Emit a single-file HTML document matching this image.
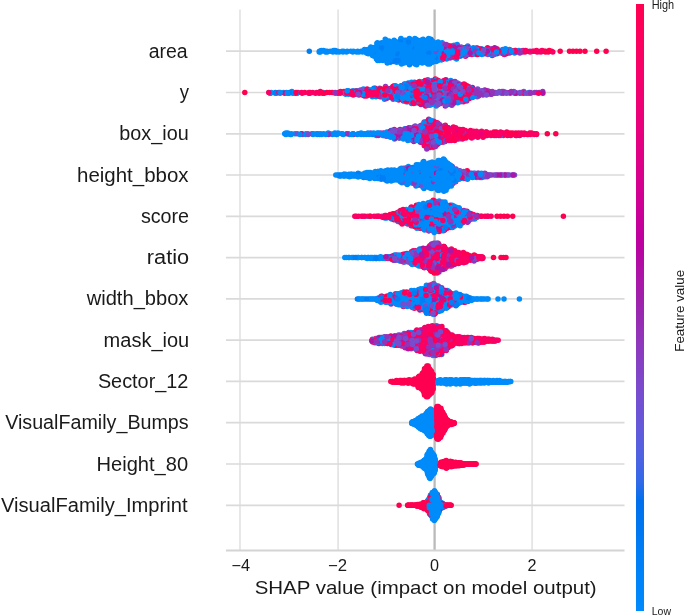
<!DOCTYPE html>
<html><head><meta charset="utf-8"><style>
html,body{margin:0;padding:0;background:#fff;overflow:hidden}
svg{display:block;filter:blur(0.45px)}
text{font-family:"Liberation Sans",sans-serif;fill:#1a1a1a}
</style></head><body>
<svg width="685" height="616" viewBox="0 0 685 616">
<defs><linearGradient id="cb" x1="0" y1="0" x2="0" y2="1"><stop offset="0.000" stop-color="#ff0051"/><stop offset="0.030" stop-color="#ff0058"/><stop offset="0.061" stop-color="#fd005f"/><stop offset="0.091" stop-color="#fa0065"/><stop offset="0.121" stop-color="#f6006c"/><stop offset="0.152" stop-color="#f10072"/><stop offset="0.182" stop-color="#ec0078"/><stop offset="0.212" stop-color="#e7007e"/><stop offset="0.242" stop-color="#e10084"/><stop offset="0.273" stop-color="#db008a"/><stop offset="0.303" stop-color="#d40090"/><stop offset="0.333" stop-color="#cd0095"/><stop offset="0.364" stop-color="#c5009a"/><stop offset="0.394" stop-color="#bc009f"/><stop offset="0.424" stop-color="#b30aa3"/><stop offset="0.455" stop-color="#aa17a7"/><stop offset="0.485" stop-color="#a01fab"/><stop offset="0.515" stop-color="#9829b1"/><stop offset="0.545" stop-color="#9233b9"/><stop offset="0.576" stop-color="#8a3cc0"/><stop offset="0.606" stop-color="#8244c7"/><stop offset="0.636" stop-color="#794cce"/><stop offset="0.667" stop-color="#6f52d4"/><stop offset="0.697" stop-color="#6459da"/><stop offset="0.727" stop-color="#575fdf"/><stop offset="0.758" stop-color="#4664e4"/><stop offset="0.788" stop-color="#306ae9"/><stop offset="0.818" stop-color="#006fed"/><stop offset="0.848" stop-color="#0074f0"/><stop offset="0.879" stop-color="#0079f3"/><stop offset="0.909" stop-color="#007ef6"/><stop offset="0.939" stop-color="#0082f8"/><stop offset="0.970" stop-color="#0086fa"/><stop offset="1.000" stop-color="#008bfb"/><stop offset="1" stop-color="#008bfb"/></linearGradient></defs>
<rect width="685" height="616" fill="#fff"/>
<line x1="240.0" y1="9.5" x2="240.0" y2="550.5" stroke="#e2e2e2" stroke-width="1.6"/><line x1="338.1" y1="9.5" x2="338.1" y2="550.5" stroke="#e2e2e2" stroke-width="1.6"/><line x1="532.1" y1="9.5" x2="532.1" y2="550.5" stroke="#e2e2e2" stroke-width="1.6"/><line x1="226" y1="51.2" x2="624.5" y2="51.2" stroke="#dadada" stroke-width="1.7"/><line x1="226" y1="92.5" x2="624.5" y2="92.5" stroke="#dadada" stroke-width="1.7"/><line x1="226" y1="133.8" x2="624.5" y2="133.8" stroke="#dadada" stroke-width="1.7"/><line x1="226" y1="175.0" x2="624.5" y2="175.0" stroke="#dadada" stroke-width="1.7"/><line x1="226" y1="216.3" x2="624.5" y2="216.3" stroke="#dadada" stroke-width="1.7"/><line x1="226" y1="257.6" x2="624.5" y2="257.6" stroke="#dadada" stroke-width="1.7"/><line x1="226" y1="298.9" x2="624.5" y2="298.9" stroke="#dadada" stroke-width="1.7"/><line x1="226" y1="340.2" x2="624.5" y2="340.2" stroke="#dadada" stroke-width="1.7"/><line x1="226" y1="381.4" x2="624.5" y2="381.4" stroke="#dadada" stroke-width="1.7"/><line x1="226" y1="422.7" x2="624.5" y2="422.7" stroke="#dadada" stroke-width="1.7"/><line x1="226" y1="464.0" x2="624.5" y2="464.0" stroke="#dadada" stroke-width="1.7"/><line x1="226" y1="505.3" x2="624.5" y2="505.3" stroke="#dadada" stroke-width="1.7"/><line x1="434.6" y1="9.5" x2="434.6" y2="550.5" stroke="#bababa" stroke-width="2.3"/><line x1="226" y1="550.5" x2="624.5" y2="550.5" stroke="#d4d4d4" stroke-width="2"/>
<g fill="none" stroke-width="5.50" stroke-linecap="round">
<path stroke="#008bfb" d="M416.2 58.0h0M417.2 41.9h0M332.9 52.1h0M409.2 43.6h0M445.7 49.5h0M388.6 46.1h0M392.9 48.7h0M332.8 51.2h0M381.7 48.7h0M429.4 40.2h0M417.5 48.7h0M405.6 50.4h0M399.6 50.4h0M428.9 41.9h0M424.9 55.5h0M386.6 47.8h0M410.8 63.1h0M418.8 59.7h0M409.7 52.1h0M367.3 52.9h0M455.0 58.0h0M439.9 58.0h0M434.6 45.2h0M507.7 50.4h0M376.5 55.5h0M382.9 54.6h0M431.0 58.9h0M416.0 39.3h0M397.9 47.0h0M423.0 49.5h0M428.9 41.0h0M388.0 52.1h0M396.8 51.2h0M424.8 52.1h0M372.5 54.6h0M398.1 56.3h0M490.0 53.8h0M482.2 51.2h0M382.3 59.7h0M493.4 51.2h0M339.2 52.1h0M382.9 60.6h0M414.2 61.4h0M410.9 41.9h0M442.1 50.4h0M460.9 48.7h0M411.6 51.2h0M414.2 49.5h0M413.4 46.1h0M414.7 46.1h0M474.9 52.9h0M401.3 54.6h0M482.4 52.1h0M389.0 42.7h0M371.7 49.5h0M367.4 51.2h0M455.4 57.2h0M476.3 54.6h0M384.6 50.4h0M456.5 58.9h0M401.8 47.0h0M442.5 54.6h0M432.3 41.0h0M456.9 45.2h0M427.0 59.7h0M388.7 61.4h0M356.5 52.1h0M442.2 42.7h0M406.5 44.4h0M409.2 50.4h0"/>
<path stroke="#9233b9" d="M471.8 49.5h0M451.7 48.7h0M470.2 53.8h0"/>
<path stroke="#ff0051" d="M488.5 53.8h0M446.2 58.0h0M544.2 51.2h0M585.0 51.2h0M606.1 51.2h0"/>
<path stroke="#aa17a7" d="M496.9 50.4h0"/>
<path stroke="#fa0065" d="M534.0 51.2h0M496.8 48.7h0"/>
<path stroke="#794cce" d="M487.9 54.6h0M467.8 46.1h0M473.2 52.9h0M484.5 53.8h0"/>
<path stroke="#ec0078" d="M506.1 51.2h0M448.6 57.2h0"/>
<path stroke="#007ef6" d="M397.6 59.7h0M403.2 45.2h0M381.1 52.1h0M373.4 54.6h0M436.0 53.8h0M429.6 60.6h0M408.7 47.0h0M402.7 53.8h0"/>
<path stroke="#794cce" d="M476.9 47.8h0M515.8 50.4h0M490.9 50.4h0M445.2 55.5h0"/>
<path stroke="#9233b9" d="M492.2 50.4h0M517.8 51.2h0M445.7 52.9h0"/>
<path stroke="#ff0051" d="M487.3 49.5h0M515.0 50.4h0M511.2 50.4h0"/>
<path stroke="#aa17a7" d="M459.6 51.2h0M468.2 54.6h0"/>
<path stroke="#008bfb" d="M463.6 50.4h0M388.8 41.9h0M413.6 58.9h0M405.5 48.7h0M436.7 59.7h0M490.8 51.2h0M438.5 45.2h0M337.6 51.2h0M388.1 60.6h0M383.0 55.5h0M422.1 62.2h0M409.4 44.4h0M376.9 43.6h0M408.5 46.1h0M417.9 58.0h0M428.4 61.4h0M400.7 59.7h0M405.0 53.8h0M319.2 52.1h0M466.0 55.5h0M350.8 51.2h0M457.2 44.4h0M466.9 47.0h0M420.1 58.9h0M467.2 50.4h0M342.2 51.2h0M453.2 54.6h0M381.5 59.7h0M438.1 41.9h0M377.6 44.4h0M471.2 52.1h0M403.5 43.6h0M471.7 50.4h0M406.6 45.2h0M429.0 39.3h0M396.7 50.4h0M452.7 47.8h0M414.5 51.2h0M417.3 57.2h0M323.5 50.4h0M412.7 62.2h0M352.8 52.1h0M375.4 47.8h0M403.3 47.8h0M325.6 52.1h0M402.3 43.6h0M497.0 53.8h0M481.4 48.7h0M413.0 42.7h0M427.8 51.2h0M436.0 43.6h0M456.9 58.0h0M518.9 50.4h0M320.3 51.2h0M343.0 52.1h0M353.5 51.2h0M394.3 52.1h0M399.7 58.0h0M417.6 63.1h0M343.6 51.2h0M509.6 49.5h0M443.9 51.2h0M389.9 50.4h0M380.0 46.1h0M400.9 60.6h0M362.5 52.1h0M433.5 53.8h0M417.6 62.2h0"/>
<path stroke="#007ef6" d="M461.3 50.4h0M422.6 56.3h0M386.3 51.2h0M391.6 55.5h0M414.3 45.2h0M380.2 55.5h0M379.8 50.4h0"/>
<path stroke="#fa0065" d="M487.7 48.7h0M444.5 47.0h0M455.1 56.3h0M492.2 55.5h0M443.8 49.5h0M542.1 50.4h0M548.3 52.1h0M465.5 56.3h0"/>
<path stroke="#9233b9" d="M447.5 45.2h0M449.9 49.5h0M453.2 51.2h0M463.2 47.8h0"/>
<path stroke="#794cce" d="M470.0 49.5h0M494.8 48.7h0M491.5 48.7h0M514.5 52.1h0M519.3 52.1h0M451.8 57.2h0"/>
<path stroke="#aa17a7" d="M440.5 52.9h0M498.1 50.4h0M468.9 47.8h0"/>
<path stroke="#008bfb" d="M413.9 59.7h0M404.1 63.1h0M407.1 49.5h0M383.6 53.8h0M426.1 54.6h0M404.0 42.7h0M385.2 39.3h0M405.5 46.1h0M457.4 51.2h0M412.5 60.6h0M391.9 58.0h0M421.0 40.2h0M426.2 44.4h0M428.2 50.4h0M404.0 54.6h0M403.1 51.2h0M448.7 53.8h0M406.5 41.0h0M407.3 42.7h0M433.1 49.5h0M418.2 56.3h0M400.5 41.0h0M394.6 55.5h0M404.7 55.5h0M473.3 47.8h0M409.9 56.3h0M400.6 57.2h0M455.2 53.8h0M402.1 52.9h0M404.5 40.2h0M410.2 52.9h0M506.8 51.2h0M415.7 47.0h0M413.8 56.3h0M432.1 41.9h0M409.5 64.8h0M448.5 54.6h0M435.3 55.5h0M437.9 51.2h0M386.6 59.7h0M386.6 41.9h0M491.5 52.1h0M400.5 47.8h0M373.6 55.5h0M420.6 58.0h0M416.7 54.6h0M399.7 42.7h0M464.2 55.5h0M432.3 47.8h0M430.6 44.4h0M383.4 52.9h0M414.8 38.5h0M379.2 58.9h0M442.1 48.7h0M410.6 47.0h0M450.0 56.3h0M372.6 47.8h0M425.5 50.4h0M422.7 41.9h0M381.8 42.7h0M396.6 53.8h0M422.9 60.6h0M431.4 59.7h0M467.0 53.8h0M435.5 55.5h0M409.2 42.7h0"/>
<path stroke="#ff0051" d="M452.7 56.3h0M464.8 53.8h0M465.5 52.1h0M569.5 51.2h0M560.2 51.2h0"/>
<path stroke="#fa0065" d="M454.3 52.1h0M523.1 50.4h0M456.8 47.0h0M472.0 54.6h0"/>
<path stroke="#007ef6" d="M432.9 52.9h0M406.2 47.8h0M388.5 53.8h0M374.4 50.4h0M418.8 47.0h0M309.3 51.2h0M396.9 58.9h0"/>
<path stroke="#008bfb" d="M400.8 63.1h0M396.3 43.6h0M399.6 57.2h0M418.9 50.4h0M399.9 49.5h0M402.3 51.2h0M430.3 52.1h0M393.0 60.6h0M412.0 58.0h0M391.1 52.1h0M414.1 57.2h0M415.0 64.0h0M416.0 42.7h0M392.3 47.0h0M443.3 46.1h0M378.2 58.0h0M399.6 52.1h0M346.5 52.1h0M408.5 43.6h0M385.9 54.6h0M423.1 46.1h0M432.4 62.2h0M441.8 59.7h0M388.8 52.9h0M418.9 41.9h0M393.7 61.4h0M460.3 56.3h0M459.0 48.7h0M437.0 56.3h0M486.5 52.9h0M393.2 50.4h0M393.6 57.2h0M386.2 48.7h0M425.5 41.9h0M394.5 59.7h0M401.5 64.0h0M388.0 48.7h0M458.1 50.4h0M392.1 54.6h0M430.1 40.2h0M426.0 47.0h0M405.3 59.7h0M406.3 40.2h0M428.4 54.6h0M470.8 48.7h0M446.9 54.6h0M388.0 57.2h0M387.1 56.3h0M440.0 54.6h0M421.1 43.6h0M372.2 53.8h0M411.8 47.0h0M400.4 62.2h0M416.7 55.5h0M424.5 58.9h0M429.4 44.4h0M406.8 62.2h0M470.5 52.1h0M404.6 47.0h0M434.2 47.0h0M321.4 50.4h0M386.1 40.2h0M408.5 56.3h0M363.0 51.2h0M357.7 51.2h0M425.9 58.0h0M501.5 51.2h0M393.5 42.7h0M432.5 43.6h0M419.8 41.0h0M421.9 61.4h0"/>
<path stroke="#007ef6" d="M394.6 46.1h0M383.5 45.2h0M428.3 53.8h0M394.8 47.0h0M410.6 57.2h0M402.2 44.4h0M415.3 50.4h0"/>
<path stroke="#aa17a7" d="M449.1 50.4h0"/>
<path stroke="#9233b9" d="M459.5 47.8h0M446.8 52.1h0"/>
<path stroke="#ff0051" d="M442.9 53.8h0M485.4 52.9h0"/>
<path stroke="#fa0065" d="M482.6 53.8h0M487.6 47.8h0M530.1 52.1h0M506.3 50.4h0M453.2 55.5h0M496.6 52.9h0"/>
<path stroke="#794cce" d="M447.2 57.2h0M438.4 48.7h0M457.4 46.1h0M444.2 52.1h0M461.1 47.0h0"/>
<path stroke="#9233b9" d="M530.0 51.2h0M462.5 52.1h0M470.1 51.2h0M449.8 47.8h0M522.4 52.1h0M490.1 49.5h0"/>
<path stroke="#007ef6" d="M390.4 62.2h0M430.9 39.3h0M442.2 57.2h0M402.7 42.7h0M433.8 58.9h0M394.7 58.0h0M431.9 53.8h0M418.8 46.1h0"/>
<path stroke="#794cce" d="M478.4 51.2h0M449.0 47.0h0M492.1 52.9h0M466.2 51.2h0M454.2 52.9h0"/>
<path stroke="#008bfb" d="M430.9 56.3h0M430.3 47.0h0M421.4 41.0h0M410.0 39.3h0M386.0 47.0h0M475.4 49.5h0M408.1 48.7h0M404.0 52.1h0M387.3 63.1h0M347.2 51.2h0M383.9 44.4h0M431.9 50.4h0M359.0 52.1h0M458.3 54.6h0M415.7 53.8h0M442.2 43.6h0M430.9 45.2h0M424.8 56.3h0M386.5 45.2h0M390.8 54.6h0M406.3 59.7h0M438.0 60.6h0M481.7 54.6h0M417.1 52.1h0M421.6 52.9h0M507.7 52.9h0M446.6 58.9h0M421.7 48.7h0M449.0 52.9h0M368.2 52.1h0M388.3 58.9h0M438.5 47.0h0M384.0 42.7h0M427.9 58.0h0M389.1 59.7h0M432.9 57.2h0M389.0 58.0h0M396.0 57.2h0M413.0 53.8h0M319.5 51.2h0M366.0 52.1h0M435.7 58.0h0M415.2 60.6h0M431.2 49.5h0M378.7 48.7h0M491.4 54.6h0M419.0 51.2h0M392.8 58.9h0M416.6 44.4h0M425.9 59.7h0M387.1 55.5h0M493.5 52.1h0M405.9 58.9h0M475.1 50.4h0M392.2 59.7h0M394.6 44.4h0M476.5 52.1h0M390.6 43.6h0M426.3 43.6h0M396.3 42.7h0M327.3 52.1h0M454.5 47.8h0M387.2 61.4h0"/>
<path stroke="#fa0065" d="M521.5 51.2h0M551.7 51.2h0M494.0 53.8h0M552.8 52.1h0M497.5 49.5h0M458.9 49.5h0M449.4 51.2h0"/>
<path stroke="#ff0051" d="M452.0 53.8h0M536.5 50.4h0M545.5 52.1h0"/>
<path stroke="#aa17a7" d="M453.4 50.4h0M506.2 53.8h0"/>
<path stroke="#007ef6" d="M408.8 58.9h0M427.5 63.1h0M425.4 52.9h0M377.7 59.7h0M379.4 43.6h0M445.8 47.8h0M409.5 64.0h0M434.1 52.1h0M399.5 51.2h0M380.6 51.2h0"/>
<path stroke="#9233b9" d="M462.2 54.6h0M490.8 52.9h0M450.0 58.0h0M438.7 57.2h0M508.1 52.1h0"/>
<path stroke="#008bfb" d="M418.3 62.2h0M429.1 47.0h0M372.5 55.5h0M454.0 45.2h0M436.9 52.1h0M376.8 54.6h0M377.7 46.1h0M440.6 43.6h0M394.3 48.7h0M451.4 49.5h0M430.3 61.4h0M397.0 46.1h0M437.6 45.2h0M405.2 58.9h0M368.3 53.8h0M387.2 57.2h0M327.3 51.2h0M395.1 58.9h0M408.2 63.1h0M417.0 59.7h0M364.5 49.5h0M415.1 58.9h0M385.8 41.0h0M376.6 51.2h0M514.6 52.9h0M423.3 57.2h0M411.0 40.2h0M412.6 41.9h0M389.5 56.3h0M400.7 56.3h0M393.1 53.8h0M379.3 53.8h0M421.3 44.4h0M426.6 58.9h0M417.5 40.2h0M387.6 44.4h0M473.8 53.8h0M436.2 61.4h0M412.6 48.7h0M442.7 47.8h0M381.5 52.9h0M375.9 52.9h0M428.7 56.3h0M432.6 47.8h0M439.4 49.5h0M397.8 49.5h0M428.6 38.5h0M424.7 62.2h0M455.5 55.5h0M441.0 58.9h0M424.5 49.5h0M511.1 52.1h0M420.2 53.8h0M418.7 61.4h0M432.8 51.2h0M410.6 46.1h0M439.0 56.3h0M414.7 52.9h0M407.9 55.5h0M398.1 47.8h0M386.1 43.6h0M432.0 52.9h0M440.1 46.1h0M398.7 43.6h0M431.5 55.5h0M430.1 58.0h0"/>
<path stroke="#aa17a7" d="M483.4 51.2h0"/>
<path stroke="#fa0065" d="M460.0 55.5h0M504.3 54.6h0M498.1 52.9h0M540.3 51.2h0M527.2 51.2h0"/>
<path stroke="#794cce" d="M494.3 54.6h0M453.3 46.1h0M503.2 52.1h0"/>
<path stroke="#ff0051" d="M478.9 48.7h0M450.6 47.0h0M504.2 52.9h0M549.2 50.4h0"/>
<path stroke="#794cce" d="M501.3 52.9h0M522.4 51.2h0M502.8 49.5h0M504.9 49.5h0"/>
<path stroke="#aa17a7" d="M478.9 50.4h0M470.9 50.4h0"/>
<path stroke="#008bfb" d="M367.6 50.4h0M438.1 52.9h0M443.2 45.2h0M445.0 53.8h0M483.2 52.1h0M409.4 49.5h0M427.9 49.5h0M336.0 51.2h0M445.3 45.2h0M431.9 54.6h0M461.0 54.6h0M400.1 61.4h0M396.2 52.9h0M398.0 55.5h0M417.9 54.6h0M382.2 58.9h0M505.5 48.7h0M477.4 49.5h0M416.6 47.8h0M400.8 39.3h0M428.2 62.2h0M388.0 44.4h0M405.0 61.4h0M400.6 48.7h0M380.4 49.5h0M389.3 49.5h0M377.4 47.0h0M425.5 51.2h0M380.0 45.2h0M387.4 58.0h0M389.1 41.0h0M381.9 44.4h0M383.0 58.0h0M473.7 48.7h0M320.4 52.1h0M426.6 47.8h0M425.1 46.1h0M383.9 52.1h0M431.3 42.7h0M417.3 45.2h0M428.4 52.1h0M456.9 55.5h0M436.3 54.6h0M457.9 56.3h0M419.7 47.8h0M398.8 52.9h0M420.6 42.7h0M390.8 47.0h0M475.4 53.8h0M377.6 53.8h0M499.9 52.1h0M421.2 51.2h0M377.4 42.7h0M325.5 51.2h0M406.1 52.9h0M391.6 46.1h0M396.0 54.6h0M385.7 58.9h0M394.3 41.0h0M435.0 44.4h0M412.9 41.0h0M436.9 49.5h0M401.8 40.2h0M395.4 47.8h0M445.1 51.2h0M394.0 49.5h0M454.9 48.7h0M461.6 52.1h0M375.0 53.8h0M387.0 42.7h0M387.9 52.1h0M400.8 52.1h0"/>
<path stroke="#007ef6" d="M434.6 54.6h0M422.3 50.4h0M437.6 47.8h0M382.6 56.3h0M404.2 58.0h0M395.1 61.4h0"/>
<path stroke="#ff0051" d="M525.0 52.1h0M465.1 47.8h0M545.8 51.2h0M441.8 55.5h0"/>
<path stroke="#9233b9" d="M509.7 52.9h0M519.9 52.9h0"/>
<path stroke="#fa0065" d="M459.0 52.9h0M454.8 54.6h0M454.2 49.5h0M443.1 58.9h0"/>
<path stroke="#fa0065" d="M459.8 52.9h0"/>
<path stroke="#008bfb" d="M432.9 41.9h0M464.3 49.5h0M440.6 53.8h0M378.5 45.2h0M426.9 55.5h0M382.3 46.1h0M408.0 57.2h0M418.4 60.6h0M434.5 50.4h0M379.3 60.6h0M392.3 49.5h0M387.2 62.2h0M446.1 48.7h0M392.7 41.9h0M438.1 46.1h0M424.5 45.2h0M382.1 47.0h0M401.0 38.5h0M404.7 62.2h0M366.9 50.4h0M429.7 64.0h0M439.5 51.2h0M377.8 47.8h0M451.5 46.1h0M370.6 52.9h0M366.6 52.9h0M395.4 45.2h0M395.8 56.3h0M416.7 64.8h0M427.9 48.7h0M446.5 46.1h0M465.6 52.9h0M384.2 43.6h0M432.2 57.2h0M377.1 52.9h0M388.6 47.8h0M421.1 59.7h0M370.9 52.1h0M423.9 61.4h0M488.6 52.1h0M419.0 48.7h0M377.4 57.2h0M464.7 48.7h0M409.4 38.5h0M440.2 52.1h0M433.9 46.1h0M466.3 49.5h0M408.9 58.0h0M426.8 43.6h0M434.3 42.7h0M411.9 54.6h0M408.0 52.1h0M382.5 48.7h0M441.2 59.7h0M415.1 41.0h0M367.6 49.5h0M370.1 48.7h0M410.5 54.6h0M431.9 51.2h0M367.0 51.2h0M387.9 50.4h0M418.9 55.5h0M437.5 58.9h0M405.2 57.2h0M397.9 54.6h0M414.4 50.4h0M481.6 50.4h0M422.2 53.8h0M410.1 41.0h0M383.5 57.2h0M408.9 60.6h0M400.1 58.9h0M439.7 50.4h0M433.5 59.7h0"/>
<path stroke="#9233b9" d="M453.8 51.2h0M503.3 53.8h0"/>
<path stroke="#794cce" d="M466.4 54.6h0M495.5 51.2h0M435.8 50.4h0M472.9 51.2h0M442.3 44.4h0"/>
<path stroke="#aa17a7" d="M453.8 47.0h0M458.8 47.8h0M444.3 52.9h0M494.7 47.8h0"/>
<path stroke="#007ef6" d="M373.9 52.1h0M397.7 53.8h0M478.6 52.1h0M335.0 50.4h0M410.1 47.8h0M411.8 47.8h0M407.3 54.6h0M383.3 51.2h0"/>
<path stroke="#aa17a7" d="M470.1 52.9h0"/>
<path stroke="#794cce" d="M487.2 50.4h0M466.8 48.7h0M459.9 49.5h0"/>
<path stroke="#008bfb" d="M402.8 58.0h0M403.2 60.6h0M444.5 56.3h0M382.9 47.8h0M403.1 41.0h0M412.5 43.6h0M376.4 58.9h0M484.2 49.5h0M439.6 44.4h0M393.7 51.2h0M427.8 60.6h0M431.8 46.1h0M432.6 60.6h0M416.9 43.6h0M461.3 53.8h0M421.3 58.9h0M381.5 47.0h0M479.5 53.8h0M384.8 49.5h0M422.0 47.0h0M414.3 52.1h0M417.0 49.5h0M391.2 56.3h0M390.2 51.2h0M396.8 62.2h0M407.6 61.4h0M500.8 50.4h0M420.4 43.6h0M446.3 50.4h0M381.0 54.6h0M405.7 49.5h0M410.9 45.2h0M370.4 51.2h0M373.8 49.5h0M438.7 55.5h0M425.9 41.0h0M376.1 49.5h0M397.4 41.9h0M435.0 48.7h0M480.7 52.9h0M393.8 44.4h0M425.0 53.8h0M419.8 44.4h0M410.9 61.4h0M441.2 48.7h0M504.7 52.1h0M427.1 46.1h0M437.8 42.7h0M430.5 48.7h0M392.1 45.2h0M387.5 46.1h0M415.3 51.2h0M378.5 50.4h0M377.3 56.3h0M375.5 47.0h0M425.3 60.6h0M408.4 60.6h0M421.4 55.5h0M370.2 50.4h0M447.9 55.5h0M385.0 53.8h0M403.2 56.3h0M420.2 49.5h0M417.3 56.3h0M374.3 56.3h0M411.8 44.4h0M409.5 55.5h0M435.8 57.2h0M385.0 52.9h0M426.7 42.7h0M405.5 41.9h0M448.2 48.7h0"/>
<path stroke="#9233b9" d="M516.6 52.1h0"/>
<path stroke="#ff0051" d="M580.0 51.2h0M573.0 51.2h0M477.5 54.6h0"/>
<path stroke="#fa0065" d="M493.1 49.5h0M532.7 51.2h0M540.9 52.1h0M537.1 52.1h0M442.7 58.0h0M537.2 51.2h0M457.9 52.1h0M458.0 53.8h0M525.5 50.4h0"/>
<path stroke="#007ef6" d="M381.9 47.8h0M428.9 52.9h0M396.1 60.6h0M452.0 50.4h0M435.2 58.0h0"/>
<path stroke="#fa0065" d="M515.2 51.2h0M456.6 57.2h0M449.8 46.1h0M444.0 56.3h0"/>
<path stroke="#007ef6" d="M408.4 41.9h0M474.2 48.7h0M398.1 60.6h0M400.6 41.9h0"/>
<path stroke="#aa17a7" d="M444.2 47.0h0M487.2 51.2h0"/>
<path stroke="#ff0051" d="M576.5 51.2h0M498.9 51.2h0M549.4 51.2h0M596.7 51.2h0M481.8 49.5h0"/>
<path stroke="#9233b9" d="M475.8 51.2h0M445.9 44.4h0"/>
<path stroke="#794cce" d="M452.3 52.9h0M483.5 50.4h0"/>
<path stroke="#008bfb" d="M421.2 47.8h0M449.9 52.1h0M423.1 39.3h0M399.0 44.4h0M391.1 52.9h0M377.6 60.6h0M429.7 63.1h0M389.3 45.2h0M433.4 56.3h0M435.0 43.6h0M407.6 51.2h0M391.5 47.8h0M370.8 47.0h0M408.7 53.8h0M333.6 50.4h0M423.1 45.2h0M436.3 44.4h0M425.4 42.7h0M394.1 40.2h0M422.2 63.1h0M412.7 55.5h0M373.2 51.2h0M403.9 44.4h0M374.5 48.7h0M380.6 56.3h0M425.1 47.8h0M370.6 48.7h0M422.9 42.7h0M420.0 45.2h0M391.7 43.6h0M418.9 52.9h0M435.9 47.0h0M511.6 51.2h0M380.7 57.2h0M425.2 40.2h0M423.0 52.1h0M415.4 61.4h0M425.7 48.7h0M399.5 45.2h0M401.5 45.2h0M378.8 52.1h0M421.7 54.6h0M407.3 58.0h0M418.8 52.1h0M409.4 62.2h0M403.9 52.9h0M379.2 58.0h0M452.3 52.1h0M426.8 45.2h0M409.8 48.7h0M401.8 55.5h0M433.7 61.4h0M417.7 57.2h0M397.2 48.7h0M330.3 51.2h0M402.0 46.1h0M425.9 57.2h0M406.3 50.4h0M386.5 49.5h0M464.7 51.2h0M389.7 55.5h0M387.4 60.6h0M410.2 59.7h0M407.6 53.8h0M463.1 52.9h0M496.6 52.1h0M413.7 52.9h0M336.3 52.1h0M478.9 52.9h0M361.1 51.2h0M402.1 50.4h0M441.3 47.8h0M428.7 57.2h0M395.4 41.9h0M427.8 64.0h0"/>
<path stroke="#aa17a7" d="M424.1 81.4h0M427.1 99.3h0M478.5 95.9h0M421.4 102.7h0M472.4 87.4h0M398.3 97.6h0M483.5 93.3h0"/>
<path stroke="#007ef6" d="M459.7 95.9h0M457.4 89.1h0"/>
<path stroke="#9233b9" d="M424.2 104.4h0M428.4 92.5h0M473.8 95.0h0M403.4 101.0h0M403.3 94.2h0M460.1 89.9h0M441.8 81.4h0M520.0 93.3h0M419.1 97.6h0M452.6 95.0h0M423.2 94.2h0M468.5 90.8h0M397.0 93.3h0M431.8 87.4h0M503.2 93.3h0"/>
<path stroke="#fa0065" d="M441.0 96.7h0M441.1 83.1h0M456.0 98.4h0M417.4 95.9h0M410.5 101.8h0M456.0 86.5h0M442.6 84.0h0M364.4 95.9h0M393.2 89.9h0M452.3 98.4h0M446.9 86.5h0M428.8 98.4h0M420.7 88.2h0M329.6 92.5h0M413.1 83.1h0M423.5 90.8h0M414.4 89.9h0M457.0 97.6h0M426.2 87.4h0M428.3 96.7h0M425.0 86.5h0M459.2 84.8h0M340.5 91.6h0M381.9 90.8h0M379.7 89.9h0M448.4 84.8h0M380.5 92.5h0M451.6 84.0h0"/>
<path stroke="#008bfb" d="M419.7 91.6h0M401.2 88.2h0M420.9 96.7h0M434.8 99.3h0M440.9 82.3h0M409.4 89.9h0M420.6 86.5h0M406.1 99.3h0M353.1 90.8h0M390.2 89.1h0M471.1 95.0h0M365.1 89.9h0M433.0 84.0h0M374.4 95.9h0M406.0 96.7h0M431.8 100.1h0M406.2 91.6h0M456.6 94.2h0"/>
<path stroke="#ff0051" d="M414.5 82.3h0M356.3 90.8h0M372.8 94.2h0M450.5 104.4h0M423.2 96.7h0M435.4 78.9h0M435.2 101.0h0M425.6 106.1h0M447.1 89.9h0M450.1 92.5h0M431.5 88.2h0M438.1 104.4h0M381.6 96.7h0M406.3 93.3h0"/>
<path stroke="#794cce" d="M445.2 89.9h0M490.4 92.5h0M542.2 92.5h0M463.4 85.7h0M530.5 92.5h0M445.6 83.1h0M468.7 86.5h0M461.6 101.0h0M389.0 89.1h0M392.9 91.6h0M437.1 93.3h0"/>
<path stroke="#008bfb" d="M402.2 93.3h0M454.8 101.8h0M452.2 102.7h0M455.5 88.2h0M476.6 93.3h0M392.7 90.8h0M377.6 95.0h0M404.4 84.0h0M436.2 105.2h0M450.0 100.1h0M455.1 94.2h0M503.6 91.6h0M366.8 90.8h0M357.9 90.8h0M414.9 83.1h0M463.7 95.0h0M280.2 93.3h0M387.1 94.2h0M466.0 87.4h0M409.2 92.5h0M379.7 88.2h0M345.6 94.2h0M270.1 93.3h0M407.7 85.7h0M355.0 93.3h0M438.3 101.8h0M390.3 95.0h0M386.6 96.7h0M441.2 88.2h0M434.5 90.8h0M393.1 99.3h0M431.9 89.9h0M349.9 91.6h0M443.2 102.7h0M376.7 92.5h0M523.8 91.6h0"/>
<path stroke="#007ef6" d="M408.3 83.1h0M399.4 97.6h0M454.4 87.4h0"/>
<path stroke="#ff0051" d="M473.5 90.8h0M417.1 94.2h0M365.0 90.8h0M473.5 89.9h0M377.0 91.6h0M440.9 89.1h0M461.1 89.1h0M453.2 84.8h0M415.9 95.9h0M448.5 85.7h0"/>
<path stroke="#794cce" d="M495.6 92.5h0M457.6 99.3h0M429.8 90.8h0M436.4 94.2h0M499.9 92.5h0"/>
<path stroke="#fa0065" d="M464.0 84.0h0M418.9 91.6h0M412.7 91.6h0M444.6 102.7h0M435.1 98.4h0M417.9 99.3h0M431.7 97.6h0M426.7 84.8h0M466.7 88.2h0M475.2 91.6h0M365.4 95.0h0M410.2 84.0h0M406.1 94.2h0M355.9 91.6h0M398.7 100.1h0M432.3 82.3h0M460.7 97.6h0M377.1 90.8h0M401.2 85.7h0M350.7 93.3h0M463.5 101.8h0M427.5 101.0h0"/>
<path stroke="#9233b9" d="M417.0 102.7h0M448.7 81.4h0M387.0 88.2h0M439.7 87.4h0M514.8 93.3h0M438.2 86.5h0M444.3 94.2h0M521.9 92.5h0M457.4 100.1h0M464.9 90.8h0M407.8 101.8h0M422.8 102.7h0"/>
<path stroke="#aa17a7" d="M470.9 91.6h0M416.9 83.1h0M385.5 90.8h0M492.8 93.3h0M449.7 90.8h0M420.5 84.8h0M400.5 99.3h0"/>
<path stroke="#008bfb" d="M441.4 93.3h0M441.6 92.5h0M415.9 95.0h0M386.5 89.9h0M415.4 102.7h0M286.4 92.5h0M275.3 93.3h0M418.2 92.5h0M461.2 93.3h0M435.3 82.3h0M449.8 96.7h0M271.3 92.5h0M422.7 85.7h0M393.2 94.2h0M422.2 101.8h0M397.4 87.4h0M429.6 86.5h0M380.1 91.6h0M463.6 95.9h0M454.4 89.9h0M427.8 79.7h0M478.3 94.2h0M401.1 95.0h0M470.0 95.9h0M423.7 87.4h0M448.7 83.1h0M469.8 89.1h0M375.8 95.9h0M501.6 93.3h0M339.8 92.5h0M432.3 80.6h0M413.2 92.5h0M406.2 101.8h0"/>
<path stroke="#794cce" d="M404.8 84.8h0M455.8 95.0h0M417.7 100.1h0M513.1 92.5h0M450.9 88.2h0M450.3 98.4h0M510.3 93.3h0"/>
<path stroke="#9233b9" d="M466.8 101.0h0M385.5 86.5h0M384.1 96.7h0M444.8 93.3h0M542.7 91.6h0M463.5 99.3h0M448.2 102.7h0M494.9 93.3h0"/>
<path stroke="#ff0051" d="M431.1 88.2h0M440.0 82.3h0M415.6 94.2h0M379.5 89.1h0M420.2 92.5h0M342.6 92.5h0M463.1 88.2h0M463.1 86.5h0M459.3 95.0h0M405.3 89.9h0M362.6 91.6h0M366.6 95.9h0M434.7 101.8h0M404.4 84.8h0"/>
<path stroke="#007ef6" d="M402.1 89.1h0M427.4 104.4h0"/>
<path stroke="#aa17a7" d="M478.4 92.5h0M441.5 98.4h0M423.2 95.0h0M416.8 85.7h0M422.5 103.5h0M423.4 92.5h0"/>
<path stroke="#fa0065" d="M433.3 103.5h0M337.8 93.3h0M444.8 92.5h0M355.3 94.2h0M446.3 103.5h0M358.9 95.0h0M464.3 100.1h0M383.9 93.3h0M439.2 100.1h0M368.3 89.9h0M368.9 90.8h0M374.8 89.9h0M419.8 85.7h0M471.8 90.8h0M446.8 101.8h0M464.1 90.8h0M429.1 104.4h0M446.5 91.6h0M463.0 100.1h0M425.4 94.2h0M362.3 95.0h0M450.9 99.3h0M444.0 97.6h0M465.3 95.0h0M402.5 99.3h0"/>
<path stroke="#ff0051" d="M352.1 92.5h0M362.4 94.2h0M326.8 92.5h0M380.0 96.7h0M374.7 89.1h0M434.6 80.6h0M428.1 83.1h0M383.4 95.0h0M425.2 80.6h0M413.8 89.1h0M381.3 89.1h0"/>
<path stroke="#794cce" d="M464.0 92.5h0M446.1 95.0h0M505.7 92.5h0M476.2 89.9h0M402.0 85.7h0M449.5 84.8h0M481.3 92.5h0M463.6 97.6h0M458.7 99.3h0M515.6 92.5h0M424.9 98.4h0"/>
<path stroke="#fa0065" d="M396.1 98.4h0M454.1 90.8h0M444.2 95.9h0M374.6 94.2h0M441.7 84.8h0M445.2 85.7h0M451.3 93.3h0M466.7 94.2h0M421.9 83.1h0M428.1 98.4h0M397.3 95.0h0M446.2 103.5h0M421.3 90.8h0M391.0 88.2h0"/>
<path stroke="#008bfb" d="M419.5 81.4h0M283.6 92.5h0M426.2 100.1h0M291.9 91.6h0M425.3 99.3h0M451.0 89.9h0M409.0 86.5h0M410.7 89.9h0M401.9 97.6h0M348.4 92.5h0M403.5 100.1h0M348.7 94.2h0M411.4 84.8h0M384.5 99.3h0M391.7 90.8h0M404.2 96.7h0M424.3 100.1h0M420.3 95.9h0M409.6 94.2h0M405.4 92.5h0M356.1 92.5h0M276.4 93.3h0M412.7 89.1h0M437.0 88.2h0M406.5 95.0h0M428.4 101.8h0M448.1 104.4h0M388.5 97.6h0M419.2 89.9h0M417.1 101.8h0M417.2 84.8h0M403.9 90.8h0M431.3 91.6h0M413.3 90.8h0M393.2 96.7h0M414.2 98.4h0"/>
<path stroke="#007ef6" d="M443.4 98.4h0M419.0 87.4h0"/>
<path stroke="#9233b9" d="M491.3 92.5h0M523.9 92.5h0M393.1 98.4h0M473.9 94.2h0M440.1 88.2h0M529.2 92.5h0M436.5 103.5h0M422.6 82.3h0M469.2 97.6h0M502.3 92.5h0M433.0 101.0h0M468.3 92.5h0"/>
<path stroke="#aa17a7" d="M420.9 104.4h0M460.3 100.1h0M431.4 90.8h0M386.9 93.3h0M430.2 81.4h0M453.0 93.3h0M445.3 106.1h0"/>
<path stroke="#ec0078" d="M384.4 95.9h0M433.1 95.0h0"/>
<path stroke="#007ef6" d="M275.4 92.5h0"/>
<path stroke="#008bfb" d="M417.7 93.3h0M421.2 87.4h0M410.7 94.2h0M470.8 88.2h0M436.5 79.7h0M404.7 90.8h0M412.7 95.0h0M449.9 101.8h0M323.2 92.5h0M453.5 99.3h0M389.9 89.9h0M421.4 94.2h0M456.7 87.4h0M421.7 95.0h0M348.2 90.8h0M429.9 105.2h0M441.0 94.2h0M430.1 100.1h0M270.5 93.3h0M405.9 88.2h0M441.4 85.7h0M528.3 93.3h0"/>
<path stroke="#fa0065" d="M428.1 89.9h0M446.9 92.5h0M523.3 93.3h0M435.6 96.7h0M427.8 91.6h0M469.5 98.4h0M396.2 86.5h0M381.1 93.3h0M320.5 92.5h0M470.6 94.2h0M351.4 91.6h0M298.0 92.5h0M426.8 84.0h0M375.1 93.3h0M308.8 93.3h0M399.7 95.9h0M444.5 89.1h0M436.0 83.1h0M370.1 95.0h0M310.2 92.5h0M351.7 94.2h0M431.2 102.7h0M445.3 86.5h0"/>
<path stroke="#ff0051" d="M344.0 91.6h0M456.4 96.7h0M427.7 89.1h0M347.5 92.5h0M405.2 100.1h0M411.8 98.4h0M430.8 87.4h0M428.8 101.0h0M395.1 95.9h0M379.4 90.8h0M446.1 104.4h0M449.0 90.8h0"/>
<path stroke="#9233b9" d="M442.6 95.0h0M438.8 89.9h0M445.8 87.4h0M491.5 94.2h0M469.0 93.3h0M539.1 92.5h0M449.0 89.1h0M478.7 95.0h0M445.5 82.3h0M449.9 87.4h0M465.3 98.4h0M452.8 86.5h0M395.3 97.6h0M427.6 88.2h0M438.3 90.8h0"/>
<path stroke="#aa17a7" d="M453.5 100.1h0M427.6 86.5h0M516.2 93.3h0M489.3 91.6h0M435.2 91.6h0M469.9 91.6h0M463.3 96.7h0"/>
<path stroke="#ec0078" d="M426.5 93.3h0M454.2 95.9h0M472.4 93.3h0"/>
<path stroke="#794cce" d="M526.1 93.3h0M415.4 96.7h0M429.8 99.3h0M460.8 101.8h0M497.2 93.3h0M424.3 93.3h0M445.0 90.8h0M513.8 91.6h0M433.5 99.3h0M430.9 96.7h0M477.2 96.7h0"/>
<path stroke="#9233b9" d="M441.4 101.0h0M434.2 94.2h0M435.6 92.5h0M416.0 88.2h0M453.9 92.5h0M455.0 81.4h0M440.6 103.5h0M430.6 97.6h0M455.5 93.3h0M399.3 93.3h0M479.4 95.0h0M439.5 83.1h0M452.1 81.4h0"/>
<path stroke="#007ef6" d="M457.3 92.5h0"/>
<path stroke="#aa17a7" d="M445.9 79.7h0M542.9 93.3h0M431.1 95.0h0M436.3 84.8h0M447.7 84.0h0M425.3 101.0h0M482.5 92.5h0"/>
<path stroke="#ff0051" d="M434.2 98.4h0M417.4 84.0h0M434.3 93.3h0M419.6 98.4h0M466.8 85.7h0M423.5 91.6h0M426.6 95.0h0M419.7 103.5h0M468.1 87.4h0M244.8 92.5h0M360.5 93.3h0M374.4 89.1h0M470.8 96.7h0"/>
<path stroke="#794cce" d="M420.6 101.0h0M463.9 87.4h0M435.8 100.1h0M408.2 100.1h0M478.7 91.6h0M464.8 95.9h0M439.6 96.7h0M416.0 84.0h0M335.2 93.3h0"/>
<path stroke="#008bfb" d="M359.9 90.8h0M393.2 88.2h0M386.5 94.2h0M439.5 99.3h0M408.4 96.7h0M413.6 99.3h0M344.3 93.3h0M390.4 95.9h0M417.0 98.4h0M423.0 95.9h0M424.5 83.1h0M410.1 95.0h0M376.0 96.7h0M448.8 96.7h0M412.3 93.3h0M452.5 84.0h0M431.1 91.6h0M453.2 96.7h0M407.4 89.1h0M411.5 82.3h0M291.2 92.5h0M372.4 96.7h0M411.6 103.5h0M411.2 85.7h0"/>
<path stroke="#fa0065" d="M398.9 94.2h0M442.3 95.9h0M436.5 102.7h0M436.4 87.4h0M453.1 85.7h0M453.4 101.0h0M368.1 91.6h0M456.0 84.0h0M373.5 90.8h0M378.5 94.2h0M444.1 80.6h0M430.5 93.3h0M360.3 92.5h0M312.6 92.5h0M284.7 93.3h0M369.0 93.3h0M442.2 97.6h0M451.2 86.5h0M386.2 92.5h0M420.4 99.3h0M427.0 80.6h0M383.6 89.9h0M409.0 99.3h0M429.2 83.1h0M432.1 83.1h0M319.1 93.3h0"/>
<path stroke="#ec0078" d="M486.3 91.6h0"/>
<path stroke="#ff0051" d="M358.1 91.6h0M431.1 95.9h0M438.3 92.5h0M434.6 95.9h0M367.8 92.5h0M414.4 97.6h0M371.9 95.0h0M459.3 98.4h0M304.8 92.5h0M402.0 89.9h0"/>
<path stroke="#ec0078" d="M422.9 89.9h0"/>
<path stroke="#fa0065" d="M278.9 92.5h0M451.2 91.6h0M374.4 93.3h0M431.2 82.3h0M353.2 95.0h0M410.2 87.4h0M367.0 93.3h0M268.7 92.5h0M425.1 88.2h0M350.9 93.3h0M446.8 97.6h0M432.8 81.4h0M415.3 84.8h0M412.9 84.0h0M403.2 86.5h0M448.5 87.4h0M431.6 95.9h0M338.4 92.5h0M430.9 103.5h0M416.1 101.0h0M365.4 91.6h0M418.1 88.2h0"/>
<path stroke="#9233b9" d="M487.5 90.8h0M438.1 102.7h0M461.1 90.8h0M440.2 101.0h0M442.8 99.3h0M438.2 97.6h0M386.5 98.4h0M481.9 94.2h0M491.0 93.3h0M449.5 94.2h0M454.9 82.3h0M422.9 84.8h0M487.6 94.2h0M399.0 89.9h0"/>
<path stroke="#007ef6" d="M410.8 86.5h0M388.7 95.0h0M288.9 93.3h0M451.7 89.1h0"/>
<path stroke="#008bfb" d="M412.9 95.9h0M396.7 99.3h0M440.6 87.4h0M417.7 95.0h0M465.5 93.3h0M381.6 94.2h0M405.2 84.0h0M444.5 96.7h0M436.2 95.0h0M464.4 89.1h0M385.5 91.6h0M297.2 93.3h0M388.6 91.6h0M439.3 95.9h0M448.0 82.3h0M442.1 89.9h0M280.2 92.5h0M398.2 90.8h0M363.4 89.1h0M403.5 91.6h0M430.8 94.2h0M453.5 103.5h0M455.9 90.8h0"/>
<path stroke="#794cce" d="M445.7 105.2h0M360.5 89.9h0M413.3 87.4h0M448.4 95.9h0M406.3 87.4h0M392.8 87.4h0M446.7 94.2h0M459.5 84.0h0M422.2 97.6h0M477.7 89.1h0M459.0 101.0h0M437.9 98.4h0M484.7 91.6h0M464.2 97.6h0M457.6 83.1h0M536.6 92.5h0M428.4 80.6h0"/>
<path stroke="#aa17a7" d="M383.1 92.5h0M484.0 94.2h0M484.8 89.9h0"/>
<path stroke="#ff0051" d="M408.1 95.9h0M457.9 101.0h0M423.1 101.8h0M324.2 93.3h0M449.6 83.1h0M409.6 89.1h0M466.7 96.7h0M438.1 89.1h0M438.3 80.6h0M462.2 98.4h0M295.2 93.3h0M470.6 89.1h0M467.2 96.7h0"/>
<path stroke="#fa0065" d="M367.1 89.1h0M453.1 88.2h0M433.2 86.5h0M435.5 86.5h0M308.9 92.5h0M413.1 97.6h0M415.2 101.8h0M301.6 92.5h0M435.4 81.4h0M486.5 92.5h0M372.4 91.6h0M375.2 88.2h0M320.3 91.6h0M397.7 94.2h0M309.9 93.3h0M441.4 101.8h0M437.3 85.7h0M439.2 91.6h0M406.8 98.4h0M401.1 89.1h0M430.6 89.1h0M302.2 93.3h0"/>
<path stroke="#9233b9" d="M455.6 85.7h0M530.6 93.3h0M506.0 92.5h0M408.4 84.8h0M534.7 92.5h0M419.9 89.9h0M484.0 90.8h0M441.6 91.6h0M502.0 91.6h0M437.9 94.2h0M429.4 85.7h0M409.4 90.8h0M396.2 88.2h0M490.9 94.2h0M470.0 95.0h0M418.0 89.1h0M472.5 92.5h0M482.9 95.0h0M414.2 90.8h0M402.6 88.2h0"/>
<path stroke="#aa17a7" d="M476.1 92.5h0M457.9 84.8h0M509.5 92.5h0M452.5 91.6h0"/>
<path stroke="#008bfb" d="M417.8 101.0h0M445.8 91.6h0M427.0 92.5h0M450.7 80.6h0M370.8 89.9h0M474.0 95.9h0M390.7 96.7h0M400.6 91.6h0M401.0 92.5h0M363.0 94.2h0M384.3 97.6h0M406.5 85.7h0M386.6 92.5h0M389.0 95.9h0M394.1 85.7h0M441.4 90.8h0M411.5 101.0h0M465.9 99.3h0M436.3 106.1h0M365.7 94.2h0M396.2 89.9h0M416.1 92.5h0M460.0 92.5h0"/>
<path stroke="#794cce" d="M506.8 93.3h0M446.3 93.3h0M407.6 88.2h0M434.0 89.1h0M407.6 97.6h0M462.0 89.1h0M381.3 95.9h0M457.7 89.9h0M429.5 84.0h0"/>
<path stroke="#007ef6" d="M410.8 96.7h0M373.9 88.2h0M402.2 95.9h0"/>
<path stroke="#fa0065" d="M409.0 91.6h0M410.8 99.3h0M403.5 95.0h0M440.6 86.5h0M346.7 93.3h0M364.6 92.5h0M315.4 93.3h0M416.1 93.3h0M447.6 88.2h0M356.9 93.3h0M392.9 86.5h0M415.8 100.1h0M460.7 86.5h0M453.9 97.6h0M470.5 95.9h0M455.8 101.8h0M425.6 85.7h0M346.9 91.6h0M459.6 96.7h0M393.9 93.3h0M426.6 103.5h0M413.5 86.5h0M538.5 93.3h0M401.0 98.4h0M389.9 94.2h0M462.0 94.2h0"/>
<path stroke="#008bfb" d="M457.8 102.7h0M422.8 89.1h0M435.7 84.0h0M401.3 96.7h0M400.0 86.5h0M445.2 100.1h0M385.6 87.4h0M392.6 92.5h0M467.1 92.5h0M431.9 104.4h0M410.8 88.2h0M433.7 84.8h0M413.4 100.1h0M371.8 89.9h0M450.4 95.0h0M293.0 93.3h0M382.7 91.6h0M472.6 97.6h0M409.8 101.0h0M460.3 93.3h0M445.1 84.0h0M362.8 93.3h0M444.7 99.3h0M416.0 87.4h0M395.6 85.7h0M459.2 85.7h0"/>
<path stroke="#007ef6" d="M289.5 92.5h0M404.5 95.9h0M405.9 86.5h0"/>
<path stroke="#ff0051" d="M406.6 101.0h0M419.1 86.5h0M429.4 84.8h0M465.0 84.8h0M416.2 91.6h0M384.8 95.0h0M296.0 92.5h0M465.1 89.9h0M377.9 93.3h0"/>
<path stroke="#aa17a7" d="M451.5 82.3h0M359.6 92.5h0M442.7 100.1h0M480.5 91.6h0M449.2 95.0h0"/>
<path stroke="#794cce" d="M391.5 93.3h0M443.8 84.8h0M358.1 94.2h0M437.5 84.8h0M395.3 95.0h0M467.9 88.2h0M447.8 99.3h0M450.4 103.5h0M454.5 83.1h0M402.0 92.5h0M499.3 91.6h0M421.0 82.3h0M481.7 90.8h0M438.6 103.5h0M423.7 84.0h0"/>
<path stroke="#9233b9" d="M445.3 101.8h0M476.3 90.8h0M398.9 90.8h0M427.3 101.8h0M458.5 91.6h0M475.9 93.3h0M451.9 105.2h0M479.9 93.3h0M451.6 97.6h0M379.0 95.9h0"/>
<path stroke="#fa0065" d="M370.6 94.2h0M468.8 94.2h0M451.7 85.7h0M387.6 89.9h0M455.9 95.9h0M340.3 93.3h0M392.9 89.1h0M316.8 92.5h0M373.7 92.5h0M440.2 84.0h0M397.3 89.1h0M391.5 97.6h0M463.2 84.8h0M419.6 93.3h0M463.6 89.9h0M443.6 81.4h0M389.8 92.5h0M413.8 103.5h0M425.8 97.6h0M376.4 95.0h0M413.0 102.7h0M429.1 89.9h0M425.7 81.4h0M369.3 91.6h0M369.4 92.5h0M465.4 91.6h0M471.0 89.9h0M368.0 95.0h0"/>
<path stroke="#008bfb" d="M408.0 98.4h0M402.3 87.4h0M419.6 89.1h0M347.2 90.8h0M435.8 89.1h0M447.3 100.1h0M395.9 95.9h0M401.1 87.4h0M444.9 101.0h0M460.2 94.2h0M402.7 98.4h0M440.2 81.4h0M435.5 97.6h0M389.7 91.6h0M404.7 97.6h0M287.3 93.3h0M408.2 93.3h0"/>
<path stroke="#ff0051" d="M419.4 100.1h0M416.8 96.7h0M332.2 92.5h0M433.3 92.5h0M418.6 82.3h0M421.0 84.0h0M385.6 88.2h0M384.4 89.1h0M417.1 90.8h0M464.5 86.5h0M439.9 93.3h0M460.4 88.2h0M322.6 93.3h0M439.6 85.7h0M396.0 91.6h0"/>
<path stroke="#aa17a7" d="M453.8 102.7h0M426.5 95.9h0M426.6 102.7h0M487.8 93.3h0M427.6 82.3h0"/>
<path stroke="#9233b9" d="M414.0 85.7h0M469.0 89.9h0M453.5 89.1h0M445.3 88.2h0M387.8 90.8h0M434.2 96.7h0M427.4 90.8h0M431.6 102.7h0M450.8 95.9h0M492.3 91.6h0M450.1 101.0h0M335.1 92.5h0M432.6 101.8h0M511.3 91.6h0"/>
<path stroke="#794cce" d="M427.3 105.2h0M437.2 104.4h0M520.0 92.5h0M448.3 98.4h0M434.5 89.9h0M486.5 95.0h0M397.7 92.5h0M434.0 85.7h0M460.5 87.4h0M455.3 91.6h0M462.9 91.6h0M439.1 95.0h0"/>
<path stroke="#007ef6" d="M447.8 101.0h0M425.1 97.6h0M397.5 96.7h0"/>
<path stroke="#fa0065" d="M410.3 133.8h0M471.0 137.2h0M414.2 138.9h0M422.6 141.4h0M503.5 132.9h0M536.5 133.8h0M453.6 129.5h0M481.6 131.2h0M420.7 134.6h0M399.0 138.0h0M503.3 135.5h0M518.7 132.9h0M484.1 134.6h0M521.2 133.8h0M516.9 133.8h0M425.9 144.8h0M441.5 135.5h0M531.9 133.8h0M464.7 133.8h0"/>
<path stroke="#794cce" d="M411.1 131.2h0M405.5 129.5h0M416.5 132.9h0M436.6 144.8h0M413.9 132.1h0M388.7 136.3h0M414.6 138.0h0M421.2 133.8h0"/>
<path stroke="#007ef6" d="M334.9 132.9h0M419.7 138.9h0M416.0 131.2h0"/>
<path stroke="#ff0051" d="M470.1 136.3h0M437.0 137.2h0M413.8 141.4h0M451.7 138.9h0M434.6 131.2h0M487.2 135.5h0M415.7 131.2h0M428.4 130.4h0M415.5 129.5h0M394.3 129.5h0"/>
<path stroke="#008bfb" d="M407.8 140.6h0M332.3 134.6h0M434.9 130.4h0M422.6 130.4h0M409.5 131.2h0M396.2 135.5h0M295.0 133.8h0M398.0 137.2h0M336.3 134.6h0M399.7 138.0h0M423.5 131.2h0M410.6 132.9h0M406.2 132.9h0M424.1 138.9h0M330.3 133.8h0M376.4 135.5h0M288.2 133.8h0M406.7 138.9h0M398.0 136.3h0"/>
<path stroke="#aa17a7" d="M448.7 128.7h0M435.6 123.6h0M437.1 138.0h0M439.8 133.8h0"/>
<path stroke="#9233b9" d="M432.9 123.6h0M447.8 132.1h0M432.2 133.8h0M449.8 137.2h0M430.6 135.5h0M394.9 131.2h0M459.2 130.4h0M431.5 127.0h0M397.3 132.9h0M394.1 132.1h0M449.0 138.0h0"/>
<path stroke="#aa17a7" d="M406.6 134.6h0M408.9 127.8h0M420.2 133.8h0M459.8 131.2h0M424.8 133.8h0M414.0 127.0h0M426.8 127.0h0"/>
<path stroke="#9233b9" d="M421.4 126.1h0M419.6 132.1h0M398.2 133.8h0M440.1 127.8h0M424.7 124.4h0M405.7 130.4h0M423.4 128.7h0M458.4 134.6h0M439.1 131.2h0M494.1 134.6h0M428.7 119.3h0M378.9 133.8h0"/>
<path stroke="#794cce" d="M410.3 138.9h0M439.5 124.4h0M434.2 143.1h0M420.5 135.5h0M428.2 121.9h0M427.2 124.4h0"/>
<path stroke="#ff0051" d="M452.4 139.7h0M423.5 127.0h0M438.5 141.4h0M445.1 128.7h0M443.2 136.3h0M420.7 128.7h0M483.1 137.2h0M424.8 137.2h0M471.0 135.5h0M437.8 130.4h0"/>
<path stroke="#008bfb" d="M307.9 133.8h0M402.5 130.4h0M334.0 133.8h0M420.1 138.0h0M427.9 125.3h0M404.7 134.6h0M364.3 133.8h0M411.9 132.1h0M374.0 134.6h0M404.5 131.2h0M379.9 134.6h0M401.2 133.8h0M343.3 134.6h0M338.1 133.8h0M353.0 133.8h0M363.8 134.6h0M390.3 133.8h0"/>
<path stroke="#fa0065" d="M447.9 132.9h0M398.1 130.4h0M465.1 133.8h0M462.7 134.6h0M502.1 132.9h0M410.4 128.7h0M507.5 135.5h0M467.7 132.1h0M475.3 135.5h0M445.2 141.4h0M488.4 133.8h0M473.4 133.8h0M397.0 135.5h0M441.2 136.3h0M439.8 132.1h0M536.6 134.6h0M510.8 135.5h0M435.5 133.8h0M411.1 139.7h0M447.2 128.7h0M447.1 135.5h0M443.5 127.0h0"/>
<path stroke="#007ef6" d="M319.8 134.6h0M415.6 137.2h0"/>
<path stroke="#9233b9" d="M416.5 135.5h0M312.0 133.8h0M426.8 142.3h0M428.1 135.5h0M441.5 133.8h0M437.9 126.1h0M426.3 126.1h0M424.6 123.6h0M428.4 133.8h0M408.8 129.5h0M421.3 125.3h0M426.6 123.6h0M378.4 135.5h0"/>
<path stroke="#fa0065" d="M459.3 135.5h0M454.7 132.1h0M524.3 132.9h0M453.5 127.8h0M434.7 144.8h0M455.4 131.2h0M459.5 130.4h0M491.0 134.6h0M495.8 132.9h0M468.9 134.6h0M457.4 137.2h0M506.8 132.1h0M476.9 133.8h0M390.4 134.6h0M470.1 132.1h0M423.0 139.7h0M449.0 140.6h0"/>
<path stroke="#794cce" d="M426.4 127.8h0M428.2 141.4h0M395.3 132.9h0M396.6 136.3h0M423.8 129.5h0M436.9 129.5h0M414.0 134.6h0M440.1 125.3h0"/>
<path stroke="#ff0051" d="M486.0 132.1h0M424.8 136.3h0M487.4 134.6h0M471.1 136.3h0M445.3 125.3h0M437.5 141.4h0M453.4 127.0h0M455.1 139.7h0"/>
<path stroke="#aa17a7" d="M432.2 135.5h0M429.7 123.6h0M383.6 132.9h0M427.0 132.9h0M434.3 130.4h0M444.6 132.9h0M395.9 133.8h0M418.6 131.2h0"/>
<path stroke="#008bfb" d="M437.5 143.1h0M420.6 137.2h0M358.2 133.8h0M417.5 129.5h0M407.0 135.5h0M431.2 121.9h0M384.5 133.8h0M306.0 133.8h0M394.5 138.9h0M431.8 129.5h0M287.8 132.9h0M430.7 124.4h0M442.6 139.7h0M359.4 133.8h0M301.9 133.8h0M328.2 132.9h0M428.7 147.4h0M405.9 131.2h0"/>
<path stroke="#fa0065" d="M474.0 136.3h0M502.3 134.6h0M417.9 138.9h0M514.8 133.8h0M479.5 134.6h0M451.1 140.6h0M521.4 132.9h0M427.9 143.1h0M438.0 127.0h0M426.7 136.3h0M407.6 130.4h0M464.9 131.2h0M431.0 122.7h0M424.3 145.7h0M432.0 127.8h0M514.3 134.6h0M512.7 132.9h0M477.1 136.3h0M500.6 132.1h0M421.5 132.9h0M447.7 131.2h0"/>
<path stroke="#ec0078" d="M430.7 143.1h0"/>
<path stroke="#9233b9" d="M392.3 136.3h0M439.5 129.5h0M435.6 146.5h0M428.6 120.2h0M426.9 144.0h0M450.0 131.2h0M448.9 132.1h0M427.1 148.2h0M422.0 134.6h0M438.7 137.2h0M413.3 140.6h0M426.3 135.5h0M382.1 134.6h0"/>
<path stroke="#794cce" d="M419.2 129.5h0M500.9 135.5h0M376.4 133.8h0M302.7 134.6h0M417.5 139.7h0M425.7 144.0h0M423.1 138.0h0M430.2 121.0h0M432.3 125.3h0M433.2 121.0h0M393.4 135.5h0"/>
<path stroke="#008bfb" d="M371.2 133.8h0M415.1 136.3h0M366.4 134.6h0M316.4 133.8h0M414.4 135.5h0M408.8 138.0h0M362.2 133.8h0M427.1 134.6h0"/>
<path stroke="#aa17a7" d="M421.6 132.1h0M432.7 137.2h0M430.5 147.4h0"/>
<path stroke="#ff0051" d="M465.4 130.4h0M460.4 133.8h0M435.1 142.3h0M448.5 138.9h0M473.0 134.6h0M443.3 139.7h0M416.6 137.2h0M422.0 142.3h0M484.0 132.9h0M534.2 134.6h0M463.4 130.4h0M433.0 136.3h0M481.0 133.8h0M461.2 132.9h0M445.8 138.9h0M498.6 134.6h0M527.2 134.6h0"/>
<path stroke="#794cce" d="M420.0 126.1h0M433.0 132.1h0M386.2 136.3h0M424.9 143.1h0M406.4 137.2h0M444.8 137.2h0M434.0 132.9h0M403.0 132.1h0M416.9 130.4h0M297.2 133.8h0M460.8 134.6h0M383.9 135.5h0M431.5 145.7h0M432.8 147.4h0"/>
<path stroke="#9233b9" d="M377.6 134.6h0M399.9 136.3h0M456.0 138.9h0M411.1 138.0h0M418.4 132.9h0M486.9 132.9h0M448.4 127.8h0M400.5 137.2h0"/>
<path stroke="#aa17a7" d="M407.0 138.0h0M442.3 127.0h0M429.2 140.6h0M431.7 141.4h0"/>
<path stroke="#ff0051" d="M555.8 133.8h0M429.4 125.3h0M457.0 131.2h0M458.9 133.8h0M434.6 144.0h0M436.3 125.3h0M427.7 127.8h0M453.7 133.8h0M496.1 135.5h0M443.9 131.2h0M466.6 134.6h0M529.7 132.9h0"/>
<path stroke="#008bfb" d="M400.0 131.2h0M286.0 134.6h0M395.6 137.2h0M328.5 133.8h0M430.0 144.0h0M317.9 133.8h0M372.8 133.8h0M383.0 135.5h0M404.8 128.7h0M321.7 134.6h0M377.2 132.9h0M409.8 135.5h0M349.6 134.6h0M317.2 134.6h0M423.7 135.5h0"/>
<path stroke="#fa0065" d="M519.8 135.5h0M493.9 132.1h0M458.6 138.9h0M436.9 136.3h0M452.0 130.4h0M423.9 141.4h0M462.5 138.9h0M476.3 135.5h0M437.2 122.7h0M481.8 132.1h0M441.0 134.6h0M436.1 127.0h0M439.1 134.6h0M435.7 124.4h0M423.8 136.3h0M454.7 128.7h0M494.2 135.5h0M490.3 132.9h0M435.5 139.7h0M515.8 135.5h0"/>
<path stroke="#007ef6" d="M372.2 134.6h0"/>
<path stroke="#ff0051" d="M458.6 129.5h0M451.3 132.9h0M425.8 129.5h0M433.4 129.5h0M437.1 144.0h0M451.4 134.6h0M427.4 132.1h0M458.2 132.1h0M496.2 132.1h0M547.3 133.8h0M392.7 134.6h0M450.3 136.3h0"/>
<path stroke="#008bfb" d="M401.5 134.6h0M336.0 133.8h0M409.1 128.7h0M338.0 132.9h0M414.7 132.9h0M348.3 133.8h0M415.3 127.8h0M413.7 133.8h0"/>
<path stroke="#fa0065" d="M438.5 138.9h0M497.1 133.8h0M427.8 122.7h0M448.7 134.6h0M442.2 140.6h0M491.0 135.5h0M467.3 135.5h0M465.1 132.1h0M456.2 134.6h0M476.8 132.9h0M427.2 145.7h0M440.9 129.5h0M452.8 136.3h0M441.5 130.4h0M433.5 122.7h0M425.0 125.3h0M531.6 132.9h0M463.3 135.5h0M448.2 137.2h0M439.5 132.9h0M456.7 135.5h0M431.1 128.7h0M428.2 144.8h0M430.0 146.5h0M402.9 135.5h0M466.0 138.0h0M491.3 133.8h0M473.7 131.2h0M509.0 134.6h0M441.2 132.1h0"/>
<path stroke="#007ef6" d="M420.3 127.8h0M416.0 127.0h0"/>
<path stroke="#794cce" d="M431.4 138.0h0M450.5 133.8h0M411.1 136.3h0M433.5 126.1h0M415.2 126.1h0M430.7 126.1h0M417.8 132.1h0M447.9 134.6h0"/>
<path stroke="#9233b9" d="M328.5 134.6h0M385.2 134.6h0M346.7 133.8h0M423.2 137.2h0M427.8 126.1h0M408.6 137.2h0M433.5 124.4h0M451.1 131.2h0M444.9 132.1h0M353.6 134.6h0"/>
<path stroke="#aa17a7" d="M301.4 133.8h0M391.7 132.9h0M434.7 138.9h0M461.8 137.2h0"/>
<path stroke="#008bfb" d="M325.8 134.6h0M336.8 134.6h0M395.8 134.6h0M341.7 133.8h0M424.9 140.6h0M402.8 136.3h0M400.0 132.9h0M417.1 127.8h0M431.8 138.9h0M404.7 137.2h0M300.0 134.6h0M323.7 133.8h0M417.2 133.8h0M305.8 134.6h0"/>
<path stroke="#ff0051" d="M480.1 135.5h0M481.3 135.5h0M446.0 140.6h0M430.6 137.2h0M493.5 133.8h0M456.1 130.4h0M427.6 121.0h0M429.3 144.8h0M424.3 121.9h0M440.2 128.7h0M472.4 132.9h0M454.8 135.5h0M442.1 138.9h0M440.4 126.1h0M478.9 132.9h0"/>
<path stroke="#aa17a7" d="M442.9 135.5h0M396.8 134.6h0M425.9 130.4h0M419.3 140.6h0M400.1 129.5h0M389.4 132.1h0M395.1 138.0h0M420.4 142.3h0"/>
<path stroke="#794cce" d="M431.4 130.4h0M445.6 133.8h0M439.1 136.3h0M424.4 132.9h0M402.7 132.9h0M443.1 142.3h0M430.6 132.9h0M442.9 141.4h0M459.3 138.0h0M420.1 130.4h0M426.5 142.3h0M433.9 128.7h0"/>
<path stroke="#fa0065" d="M435.0 138.9h0M423.3 143.1h0M440.8 142.3h0M454.7 129.5h0M462.6 138.0h0M458.1 132.9h0M477.5 134.6h0M499.5 133.8h0M430.4 131.2h0M469.6 132.9h0M511.4 133.8h0M451.0 132.9h0M446.0 136.3h0M440.4 127.8h0M392.0 130.4h0M443.1 134.6h0M529.7 133.8h0M499.0 135.5h0M467.3 132.9h0M426.7 138.0h0M438.0 144.0h0"/>
<path stroke="#9233b9" d="M411.6 129.5h0M435.5 143.1h0M380.7 132.9h0M453.7 135.5h0"/>
<path stroke="#fa0065" d="M421.7 138.9h0M454.5 138.0h0M441.0 137.2h0M471.2 131.2h0M433.3 141.4h0M457.7 136.3h0M486.5 132.1h0M439.5 140.6h0M482.9 136.3h0M477.8 137.2h0M505.7 133.8h0M445.8 138.0h0M486.0 135.5h0M447.5 133.8h0M426.7 146.5h0M473.2 132.9h0M461.1 132.1h0M434.8 121.9h0M455.7 127.8h0M426.2 128.7h0M443.9 138.9h0M408.1 134.6h0M462.9 132.1h0"/>
<path stroke="#008bfb" d="M424.0 122.7h0M409.9 139.7h0M399.1 132.1h0M366.8 133.8h0M342.5 133.8h0M431.1 140.6h0M351.8 134.6h0M320.5 133.8h0M313.3 133.8h0M361.2 134.6h0M386.9 132.1h0M353.1 133.8h0"/>
<path stroke="#007ef6" d="M391.0 130.4h0"/>
<path stroke="#794cce" d="M400.0 130.4h0M428.1 139.7h0M436.7 132.1h0M442.6 131.2h0M440.8 138.0h0M432.4 134.6h0M454.7 136.3h0M370.7 132.9h0M410.3 127.8h0M453.4 132.1h0M408.7 132.1h0M418.1 136.3h0M394.3 130.4h0M432.4 145.7h0"/>
<path stroke="#ff0051" d="M436.8 127.8h0M437.4 126.1h0M528.2 134.6h0M434.3 127.0h0M445.0 130.4h0M443.3 138.0h0M426.9 129.5h0M424.7 127.0h0M485.3 133.8h0M427.6 131.2h0M510.9 133.8h0M512.8 134.6h0"/>
<path stroke="#9233b9" d="M443.0 129.5h0M445.5 140.6h0M437.9 139.7h0M432.0 132.1h0M435.1 134.6h0M440.0 135.5h0"/>
<path stroke="#aa17a7" d="M390.3 131.2h0M421.3 140.6h0M428.0 138.9h0M406.1 132.1h0M400.4 135.5h0M447.8 127.8h0"/>
<path stroke="#007ef6" d="M408.4 132.9h0"/>
<path stroke="#794cce" d="M419.4 127.0h0M397.2 131.2h0M440.9 128.7h0"/>
<path stroke="#fa0065" d="M516.5 135.5h0M518.5 134.6h0M471.8 138.0h0M507.0 134.6h0M470.5 130.4h0M430.8 127.8h0M530.3 134.6h0M534.4 133.8h0M446.7 130.4h0M433.4 146.5h0M449.9 139.7h0M459.8 129.5h0M469.5 135.5h0M447.7 139.7h0M463.0 129.5h0M481.4 134.6h0M472.9 137.2h0M469.0 133.8h0M499.7 132.9h0M465.0 137.2h0"/>
<path stroke="#aa17a7" d="M431.1 139.7h0M388.4 134.6h0M406.9 128.7h0M415.4 139.7h0M403.8 133.8h0M410.6 130.4h0"/>
<path stroke="#ec0078" d="M462.7 136.3h0"/>
<path stroke="#ff0051" d="M449.0 130.4h0M426.7 137.2h0M522.9 133.8h0M510.2 132.9h0M424.3 134.6h0M505.3 134.6h0M452.5 137.2h0M515.9 132.9h0M448.1 129.5h0M436.2 132.9h0M434.1 140.6h0M462.9 137.2h0"/>
<path stroke="#9233b9" d="M424.8 132.1h0M438.1 123.6h0M431.3 142.3h0M436.3 128.7h0M420.6 141.4h0M404.7 129.5h0M431.0 133.8h0M426.8 149.1h0M389.6 135.5h0M420.0 139.7h0M463.9 132.9h0M434.8 145.7h0M399.7 132.1h0M444.7 126.1h0M392.2 133.8h0"/>
<path stroke="#008bfb" d="M367.9 132.9h0M417.3 138.0h0M405.1 133.8h0M361.1 132.9h0M285.9 132.9h0M382.1 133.8h0M291.4 133.8h0M407.8 136.3h0M290.2 134.6h0M390.5 137.2h0M285.3 133.8h0M391.1 132.9h0M412.5 134.6h0M373.7 132.9h0M432.7 138.0h0"/>
<path stroke="#ff0051" d="M446.1 127.0h0M440.5 132.9h0M507.7 132.9h0M460.5 136.3h0M493.9 132.9h0M452.0 138.0h0M436.9 131.2h0M433.3 139.7h0M456.3 137.2h0M444.9 127.8h0M525.4 133.8h0M454.7 140.6h0M466.7 136.3h0"/>
<path stroke="#aa17a7" d="M410.5 137.2h0M439.0 138.0h0M413.9 128.7h0M416.3 134.6h0M455.2 132.9h0"/>
<path stroke="#fa0065" d="M520.2 134.6h0M450.3 129.5h0M495.6 134.6h0M524.2 134.6h0M470.3 133.8h0M476.5 131.2h0M457.4 138.0h0M500.9 133.8h0M426.0 138.0h0M504.1 133.8h0M454.5 133.8h0M427.2 128.7h0M473.2 132.1h0M462.2 131.2h0M431.2 134.6h0M483.3 132.9h0M432.2 121.9h0M416.0 128.7h0M471.0 134.6h0M476.8 132.1h0M449.0 135.5h0M480.8 132.1h0M453.6 128.7h0M425.9 139.7h0"/>
<path stroke="#008bfb" d="M403.1 138.0h0M405.1 136.3h0M436.3 140.6h0M418.6 136.3h0M430.7 120.2h0M291.2 134.6h0M284.7 133.8h0M392.0 132.1h0M386.5 132.9h0M408.7 138.9h0M435.7 135.5h0M417.0 140.6h0M369.1 134.6h0M386.1 135.5h0M411.3 135.5h0M422.6 127.8h0M407.7 133.8h0M439.4 142.3h0M313.0 134.6h0M393.3 137.2h0M378.5 132.9h0M387.0 133.8h0M403.4 138.9h0M357.2 134.6h0"/>
<path stroke="#794cce" d="M433.4 142.3h0M308.2 134.6h0M414.1 130.4h0M392.5 131.2h0M431.6 136.3h0"/>
<path stroke="#ec0078" d="M481.0 133.8h0"/>
<path stroke="#9233b9" d="M425.0 131.2h0"/>
<path stroke="#aa17a7" d="M430.8 166.5h0M449.0 181.8h0M504.6 175.0h0M440.9 184.4h0"/>
<path stroke="#794cce" d="M428.9 184.4h0M464.0 175.0h0M478.6 175.9h0M445.8 169.1h0M444.6 175.9h0"/>
<path stroke="#007ef6" d="M390.3 176.7h0M375.1 175.0h0M454.7 181.0h0M398.1 174.2h0M435.9 186.9h0M425.8 177.6h0M450.8 185.2h0M436.9 186.1h0M406.0 178.4h0M445.7 168.2h0M417.6 175.0h0M385.4 171.6h0M426.6 182.7h0M420.2 175.9h0M415.7 172.5h0"/>
<path stroke="#fa0065" d="M401.1 175.0h0M417.0 173.3h0"/>
<path stroke="#ff0051" d="M467.8 177.6h0"/>
<path stroke="#9233b9" d="M489.5 175.0h0M460.3 178.4h0M484.5 175.0h0M496.1 175.0h0M442.4 185.2h0"/>
<path stroke="#008bfb" d="M418.7 165.7h0M406.8 170.8h0M400.0 172.5h0M445.3 170.8h0M450.8 172.5h0M400.4 173.3h0M377.3 175.9h0M371.6 177.6h0M378.2 174.2h0M377.7 177.6h0M378.7 178.4h0M410.8 175.0h0M433.0 185.2h0M434.8 164.0h0M442.3 177.6h0M421.2 171.6h0M386.1 175.0h0M439.3 185.2h0M422.4 178.4h0M373.5 173.3h0M401.9 182.7h0M403.5 171.6h0M462.8 173.3h0M442.6 174.2h0M434.1 183.5h0M435.5 163.1h0M389.3 174.2h0M404.6 180.1h0M443.5 158.9h0M429.1 176.7h0M381.0 172.5h0M410.6 180.1h0M418.8 166.5h0M411.4 182.7h0M423.8 185.2h0M481.4 173.3h0M439.1 190.3h0M424.5 183.5h0M402.9 175.9h0M398.6 178.4h0M400.5 178.4h0M436.4 178.4h0M437.8 177.6h0M439.4 167.4h0M435.0 174.2h0M420.8 181.0h0M433.0 181.8h0M439.0 168.2h0M437.0 169.9h0M394.7 174.2h0M413.8 178.4h0M347.2 175.9h0M406.5 169.1h0M431.6 162.3h0M368.2 175.0h0M439.4 180.1h0M424.0 188.6h0M480.1 177.6h0M444.4 186.9h0M404.6 172.5h0M439.4 182.7h0M433.6 184.4h0M441.4 164.8h0M455.8 170.8h0M381.4 171.6h0M374.1 175.0h0M431.5 169.1h0M438.7 175.0h0M418.2 164.8h0M373.1 177.6h0M431.9 167.4h0M446.1 167.4h0M413.8 172.5h0M480.1 175.0h0M444.5 160.6h0M365.6 175.0h0M417.0 165.7h0M416.6 176.7h0M441.0 169.9h0M377.0 173.3h0M423.6 165.7h0M400.9 175.9h0M417.9 168.2h0M395.1 175.9h0M442.5 168.2h0M428.8 175.9h0M431.0 181.8h0"/>
<path stroke="#fa0065" d="M434.2 182.7h0M458.0 172.5h0M477.4 176.7h0M437.9 171.6h0M455.7 181.8h0"/>
<path stroke="#9233b9" d="M429.7 177.6h0M465.6 174.2h0M421.8 183.5h0M460.8 172.5h0M501.8 175.0h0M507.7 175.0h0M478.3 174.2h0"/>
<path stroke="#007ef6" d="M430.3 187.8h0M440.5 163.1h0M450.2 173.3h0M403.2 176.7h0M444.1 167.4h0M431.1 176.7h0M429.4 166.5h0M423.7 161.4h0M382.3 174.2h0"/>
<path stroke="#008bfb" d="M358.7 176.7h0M431.7 181.0h0M421.0 178.4h0M447.5 178.4h0M436.7 175.0h0M423.0 162.3h0M439.8 173.3h0M436.1 179.3h0M366.7 175.9h0M377.1 175.0h0M349.5 176.7h0M463.1 174.2h0M438.2 162.3h0M450.8 184.4h0M444.3 181.0h0M371.7 173.3h0M486.2 174.2h0M420.9 181.8h0M344.7 175.9h0M439.4 166.5h0M437.2 181.8h0M433.6 169.9h0M431.6 172.5h0M411.6 174.2h0M415.2 181.0h0M438.9 168.2h0M428.9 173.3h0M383.8 175.9h0M407.7 182.7h0M383.3 171.6h0M429.8 180.1h0M458.2 173.3h0M425.6 181.8h0M381.0 175.9h0M445.3 181.0h0M443.9 175.0h0M426.0 169.9h0M438.8 188.6h0M447.2 182.7h0M424.5 167.4h0M421.7 177.6h0M445.9 184.4h0M379.3 177.6h0M421.3 170.8h0M397.0 174.2h0M454.3 173.3h0M427.7 169.9h0M391.0 179.3h0M410.1 176.7h0M368.3 173.3h0M388.2 178.4h0M434.0 175.0h0M411.4 171.6h0M433.4 169.9h0M448.1 171.6h0M443.2 162.3h0M390.1 175.9h0M444.3 169.9h0M387.9 179.3h0M442.5 180.1h0M410.5 181.0h0M391.4 174.2h0M426.7 164.0h0M443.0 163.1h0M457.0 175.9h0M392.3 171.6h0M448.3 177.6h0M413.6 183.5h0M431.9 168.2h0M439.1 177.6h0M444.1 161.4h0M360.4 175.0h0M389.3 171.6h0M375.3 171.6h0M375.8 177.6h0M444.8 171.6h0M375.1 175.9h0M346.2 175.0h0M387.9 174.2h0M444.2 159.7h0M432.6 174.2h0M387.8 169.9h0M403.9 169.9h0M434.7 164.8h0M459.6 173.3h0M445.9 174.2h0M442.0 181.8h0M389.4 170.8h0M418.1 176.7h0M388.5 170.8h0M429.8 164.0h0M463.5 178.4h0M409.3 170.8h0"/>
<path stroke="#794cce" d="M446.5 181.0h0M494.2 175.0h0M434.8 169.1h0"/>
<path stroke="#ff0051" d="M468.5 174.2h0M457.0 177.6h0"/>
<path stroke="#794cce" d="M481.9 177.6h0M445.1 169.9h0M450.3 168.2h0M410.0 181.0h0M448.7 169.1h0"/>
<path stroke="#007ef6" d="M340.7 175.9h0M420.8 175.0h0M435.2 186.9h0M402.4 181.0h0M438.1 186.9h0M438.5 175.9h0"/>
<path stroke="#9233b9" d="M434.4 167.4h0M491.4 175.0h0M461.4 175.9h0M479.6 174.2h0M459.8 170.8h0M432.2 166.5h0M452.7 169.1h0M441.8 170.8h0"/>
<path stroke="#008bfb" d="M455.3 181.0h0M444.1 177.6h0M432.2 169.1h0M440.3 175.9h0M405.7 173.3h0M437.7 190.3h0M457.7 171.6h0M408.8 174.2h0M471.3 175.9h0M456.1 175.0h0M365.7 173.3h0M341.2 175.0h0M429.6 181.8h0M447.5 177.6h0M385.0 172.5h0M443.2 190.3h0M407.8 178.4h0M456.9 172.5h0M438.4 185.2h0M475.5 174.2h0M438.3 165.7h0M396.0 177.6h0M418.8 172.5h0M421.0 172.5h0M437.0 167.4h0M431.9 186.1h0M405.6 168.2h0M442.9 169.1h0M448.3 164.0h0M387.4 175.0h0M339.3 175.9h0M435.0 168.2h0M439.6 186.1h0M435.3 171.6h0M353.3 175.0h0M433.3 180.1h0M402.6 173.3h0M449.0 180.1h0M439.5 160.6h0M387.0 175.9h0M425.8 179.3h0M419.0 173.3h0M399.8 176.7h0M448.8 164.8h0M439.2 184.4h0M374.7 178.4h0M400.0 169.9h0M416.0 186.1h0M443.6 170.8h0M403.5 179.3h0M475.7 175.9h0M435.4 175.9h0M445.0 175.0h0M382.4 177.6h0M394.3 169.9h0M397.1 180.1h0M375.1 173.3h0M442.8 184.4h0M433.1 177.6h0M420.6 169.1h0M407.4 181.8h0M359.2 175.9h0M353.1 175.9h0M460.4 171.6h0M449.3 167.4h0M417.3 178.4h0M480.3 175.9h0M411.3 179.3h0M374.0 174.2h0M426.5 169.1h0M440.3 183.5h0M406.0 175.0h0M399.2 177.6h0M435.6 182.7h0M414.1 167.4h0M404.9 169.9h0M447.7 186.9h0M449.5 176.7h0M420.8 171.6h0M430.3 182.7h0M396.3 173.3h0M369.9 175.9h0M450.1 177.6h0M443.8 165.7h0M431.0 167.4h0M448.0 165.7h0M442.8 175.9h0M391.9 170.8h0M443.3 168.2h0M360.5 175.9h0M385.1 177.6h0M433.4 183.5h0"/>
<path stroke="#fa0065" d="M429.6 183.5h0M415.2 175.0h0M438.5 187.8h0"/>
<path stroke="#ff0051" d="M430.6 165.7h0M402.1 171.6h0M470.1 174.2h0"/>
<path stroke="#aa17a7" d="M484.9 176.7h0M430.6 177.6h0"/>
<path stroke="#fa0065" d="M404.2 173.3h0M432.8 170.8h0"/>
<path stroke="#008bfb" d="M407.2 167.4h0M453.0 175.0h0M411.9 176.7h0M438.8 169.1h0M369.4 177.6h0M385.6 174.2h0M400.4 171.6h0M348.2 175.0h0M430.4 175.9h0M417.7 182.7h0M422.2 169.9h0M460.0 172.5h0M438.2 160.6h0M413.6 173.3h0M442.5 181.0h0M410.7 168.2h0M404.2 181.8h0M398.9 175.0h0M423.0 173.3h0M430.9 173.3h0M482.1 175.9h0M427.3 179.3h0M439.4 189.5h0M453.0 183.5h0M426.9 180.1h0M400.8 170.8h0M390.6 175.9h0M412.7 182.7h0M449.2 175.9h0M425.7 186.1h0M405.4 181.0h0M439.0 163.1h0M403.9 178.4h0M444.0 164.0h0M450.6 176.7h0M469.5 176.7h0M355.0 175.0h0M385.6 180.1h0M393.8 172.5h0M400.3 181.8h0M345.7 174.2h0M420.9 174.2h0M453.1 181.0h0M412.9 180.1h0M437.2 164.8h0M454.9 170.8h0M426.8 176.7h0M405.7 176.7h0M448.8 182.7h0M420.4 173.3h0M354.0 174.2h0M445.0 178.4h0M349.3 175.0h0M434.5 187.8h0M413.5 181.8h0M408.4 166.5h0M432.0 175.9h0M348.9 175.9h0M392.9 173.3h0M434.0 185.2h0M398.0 175.9h0M399.9 181.0h0M417.4 170.8h0M456.3 180.1h0M381.3 178.4h0M451.2 181.0h0M452.2 170.8h0M399.4 172.5h0M451.1 174.2h0M339.7 175.0h0M435.6 187.8h0M417.2 168.2h0M448.0 170.8h0M394.5 177.6h0M434.4 165.7h0M392.6 176.7h0M416.4 169.9h0M444.8 183.5h0M435.4 166.5h0M388.5 173.3h0M386.3 176.7h0M390.6 172.5h0M374.6 174.2h0M438.9 166.5h0M369.7 178.4h0M430.2 185.2h0M438.1 180.1h0M436.5 170.8h0M462.3 174.2h0M432.6 184.4h0M454.9 181.8h0M427.8 186.1h0M432.5 187.8h0M424.8 175.0h0M421.6 182.7h0M393.4 178.4h0M380.5 176.7h0"/>
<path stroke="#aa17a7" d="M505.4 175.0h0M423.1 182.7h0M465.7 177.6h0"/>
<path stroke="#794cce" d="M489.1 175.0h0M512.3 175.0h0M485.0 174.2h0M429.7 167.4h0M483.5 175.0h0"/>
<path stroke="#9233b9" d="M470.0 173.3h0M461.3 176.7h0M452.6 182.7h0M497.6 175.0h0M454.1 177.6h0"/>
<path stroke="#007ef6" d="M447.4 172.5h0M444.3 176.7h0M445.2 188.6h0M480.4 176.7h0M420.0 176.7h0M449.4 169.9h0M424.1 187.8h0"/>
<path stroke="#ff0051" d="M413.6 171.6h0M413.0 170.8h0M437.4 169.9h0M416.5 175.9h0M419.1 184.4h0"/>
<path stroke="#9233b9" d="M470.5 175.9h0M464.2 173.3h0M466.2 171.6h0M463.5 176.7h0M419.1 171.6h0M456.9 173.3h0M484.8 173.3h0"/>
<path stroke="#008bfb" d="M454.4 171.6h0M440.4 186.9h0M444.1 186.9h0M441.4 164.0h0M371.5 174.2h0M398.6 171.6h0M445.8 172.5h0M435.9 164.0h0M401.4 168.2h0M446.1 187.8h0M418.3 180.1h0M402.0 177.6h0M379.1 173.3h0M386.9 179.3h0M417.8 181.0h0M431.3 168.2h0M450.3 169.1h0M414.4 177.6h0M426.1 175.9h0M431.0 169.9h0M425.6 166.5h0M446.5 166.5h0M443.9 191.2h0M366.6 177.6h0M423.5 180.1h0M438.6 161.4h0M438.7 167.4h0M421.1 164.8h0M448.4 178.4h0M440.4 172.5h0M440.5 176.7h0M394.3 178.4h0M453.6 172.5h0M390.1 173.3h0M427.6 167.4h0M390.6 175.0h0M412.4 169.9h0M464.3 175.9h0M389.1 177.6h0M422.6 169.1h0M404.2 170.8h0M444.1 173.3h0M456.7 176.7h0M484.8 175.9h0M446.1 190.3h0M379.8 177.6h0M396.3 179.3h0M470.2 175.0h0M408.7 172.5h0M378.3 175.0h0M446.3 175.9h0M375.7 176.7h0M368.5 175.9h0M452.4 175.9h0M357.2 174.2h0M438.0 179.3h0M368.1 176.7h0M443.2 160.6h0M445.4 164.0h0M464.5 175.0h0M441.6 172.5h0M343.4 175.0h0M429.6 171.6h0M412.7 175.0h0M401.9 176.7h0M414.8 181.8h0M378.0 171.6h0M382.1 176.7h0M392.1 180.1h0M394.4 170.8h0M412.1 168.2h0M476.8 177.6h0M433.4 164.8h0M420.6 167.4h0M390.4 178.4h0M436.3 180.1h0M424.0 166.5h0M409.5 169.1h0M404.0 169.1h0M407.7 180.1h0M368.9 172.5h0M428.2 169.1h0M416.0 184.4h0M366.7 176.7h0M423.8 175.0h0M444.2 189.5h0M423.4 181.8h0M441.7 166.5h0M385.9 172.5h0"/>
<path stroke="#794cce" d="M446.9 164.0h0M432.5 179.3h0M439.2 174.2h0M467.1 173.3h0M474.4 174.2h0M475.0 173.3h0"/>
<path stroke="#fa0065" d="M455.5 175.9h0M466.6 172.5h0"/>
<path stroke="#aa17a7" d="M475.4 176.7h0M428.2 168.2h0"/>
<path stroke="#007ef6" d="M414.0 168.2h0M452.0 168.2h0M363.8 177.6h0M391.0 171.6h0M424.4 172.5h0M410.0 171.6h0M380.9 173.3h0M435.3 172.5h0"/>
<path stroke="#fa0065" d="M466.2 176.7h0M464.3 172.5h0M465.4 178.4h0M453.9 178.4h0"/>
<path stroke="#008bfb" d="M407.2 184.4h0M445.4 161.4h0M385.7 170.8h0M451.0 166.5h0M438.4 164.8h0M429.3 187.8h0M472.8 176.7h0M375.1 172.5h0M426.3 172.5h0M441.8 178.4h0M444.8 185.2h0M381.2 179.3h0M436.6 177.6h0M427.3 172.5h0M410.2 180.1h0M438.9 172.5h0M370.5 174.2h0M449.7 164.8h0M447.9 185.2h0M451.3 186.1h0M441.0 186.9h0M439.4 164.0h0M404.9 180.1h0M447.5 170.8h0M384.9 175.0h0M409.9 181.8h0M438.6 189.5h0M409.4 179.3h0M408.0 175.0h0M475.8 175.0h0M389.5 175.0h0M415.9 177.6h0M428.9 170.8h0M391.2 181.0h0M416.3 164.8h0M420.6 170.8h0M445.0 186.1h0M432.7 181.0h0M442.3 163.1h0M452.4 172.5h0M403.9 175.9h0M429.5 174.2h0M446.2 171.6h0M445.6 182.7h0M392.9 174.2h0M446.8 180.1h0M426.0 171.6h0M420.3 169.9h0M405.8 179.3h0M454.6 169.9h0M435.6 168.2h0M448.5 166.5h0M417.9 170.8h0M446.3 168.2h0M392.9 175.0h0M447.1 179.3h0M445.8 180.1h0M401.2 177.6h0M418.9 175.9h0M392.2 178.4h0M391.3 169.9h0M431.9 172.5h0M414.7 176.7h0M414.0 183.5h0M394.3 175.0h0M358.1 175.9h0M451.4 167.4h0M414.5 175.9h0M367.7 174.2h0M429.5 186.9h0M428.9 172.5h0M453.0 176.7h0M394.2 171.6h0M435.7 181.0h0M431.4 184.4h0M430.0 171.6h0M387.4 177.6h0M433.1 178.4h0M417.0 183.5h0M455.8 177.6h0M434.5 177.6h0M396.3 176.7h0M427.4 170.8h0M436.2 181.8h0M345.2 175.0h0M378.7 175.9h0M387.4 176.7h0M391.7 177.6h0M383.9 176.7h0M441.2 165.7h0M444.9 167.4h0M381.1 175.0h0M473.7 173.3h0M433.2 165.7h0M423.3 168.2h0M439.6 165.7h0"/>
<path stroke="#aa17a7" d="M449.0 172.5h0M468.0 173.3h0"/>
<path stroke="#007ef6" d="M445.2 179.3h0M387.2 181.0h0M356.5 175.0h0M429.1 182.7h0M451.8 177.6h0M441.9 175.0h0M420.8 180.1h0M447.5 186.1h0M399.7 179.3h0"/>
<path stroke="#794cce" d="M501.5 175.0h0M416.2 185.2h0M456.0 169.1h0M477.7 173.3h0M414.0 171.6h0M441.7 162.3h0M415.8 171.6h0"/>
<path stroke="#9233b9" d="M402.8 174.2h0"/>
<path stroke="#007ef6" d="M416.0 175.0h0M364.4 174.2h0M456.8 179.3h0M394.1 180.1h0M337.8 175.0h0M410.7 181.8h0M440.8 188.6h0M408.3 177.6h0M405.8 174.2h0M426.2 168.2h0M456.8 178.4h0"/>
<path stroke="#fa0065" d="M462.4 175.9h0"/>
<path stroke="#794cce" d="M420.7 184.4h0M423.0 176.7h0M407.3 176.7h0M417.5 169.9h0M453.4 175.0h0M414.1 180.1h0M403.9 168.2h0M416.6 179.3h0"/>
<path stroke="#9233b9" d="M426.4 164.8h0M486.0 175.9h0M469.4 176.7h0"/>
<path stroke="#008bfb" d="M396.3 172.5h0M402.2 172.5h0M455.2 171.6h0M412.7 172.5h0M437.7 170.8h0M453.4 175.9h0M435.0 180.1h0M419.4 183.5h0M454.5 176.7h0M390.5 176.7h0M421.5 174.2h0M418.2 178.4h0M443.9 164.8h0M358.1 173.3h0M423.9 174.2h0M408.2 183.5h0M413.2 169.1h0M444.2 171.6h0M439.6 169.9h0M458.3 175.0h0M369.9 173.3h0M403.2 174.2h0M438.1 174.2h0M432.7 175.0h0M447.5 174.2h0M394.7 173.3h0M388.6 171.6h0M448.2 174.2h0M415.8 181.0h0M429.8 185.2h0M395.2 172.5h0M406.7 171.6h0M401.9 169.1h0M454.2 179.3h0M389.0 179.3h0M367.1 172.5h0M405.0 181.8h0M407.6 172.5h0M405.0 182.7h0M391.7 173.3h0M450.5 180.1h0M432.0 182.7h0M439.2 179.3h0M372.1 176.7h0M395.5 176.7h0M453.8 174.2h0M377.7 171.6h0M452.8 169.9h0M424.7 167.4h0M380.4 174.2h0M405.6 175.9h0M453.1 179.3h0M447.0 187.8h0M434.6 176.7h0M422.8 170.8h0M424.5 169.1h0M426.4 182.7h0M343.8 174.2h0M407.2 173.3h0M413.4 176.7h0M432.0 163.1h0M344.0 174.2h0M434.2 181.0h0M427.0 174.2h0M442.0 171.6h0M437.3 186.1h0M397.3 170.8h0M418.2 185.2h0M426.2 181.0h0M335.8 175.0h0M423.6 186.1h0M424.1 164.8h0M420.2 177.6h0M446.1 165.7h0M445.0 181.8h0M424.7 180.1h0M386.4 175.9h0M447.0 173.3h0M416.1 182.7h0M382.0 175.0h0M393.2 175.9h0M437.0 171.6h0M363.0 175.0h0M351.2 175.9h0M415.1 178.4h0M410.3 170.8h0M443.1 180.1h0M437.2 182.7h0M435.0 173.3h0M421.1 172.5h0M439.9 181.0h0"/>
<path stroke="#aa17a7" d="M449.7 179.3h0M479.9 176.7h0M499.5 175.0h0"/>
<path stroke="#ff0051" d="M467.2 170.8h0"/>
<path stroke="#794cce" d="M450.5 171.6h0M431.5 163.1h0M422.9 175.9h0M461.1 173.3h0M463.3 172.5h0M451.4 183.5h0M467.1 177.6h0M413.3 179.3h0M441.2 167.4h0M427.8 168.2h0"/>
<path stroke="#007ef6" d="M443.3 183.5h0M441.2 179.3h0M447.6 183.5h0M412.5 167.4h0M364.2 175.9h0M406.7 169.1h0"/>
<path stroke="#ff0051" d="M423.0 184.4h0M421.3 185.2h0"/>
<path stroke="#008bfb" d="M362.2 176.7h0M401.5 179.3h0M408.4 168.2h0M410.0 169.9h0M378.4 176.7h0M434.6 186.1h0M423.5 181.0h0M457.6 178.4h0M417.3 174.2h0M458.7 176.7h0M428.7 178.4h0M426.3 185.2h0M452.1 180.1h0M396.5 175.9h0M383.6 174.2h0M433.2 173.3h0M445.4 164.8h0M467.6 178.4h0M351.7 174.2h0M438.5 178.4h0M404.8 181.0h0M396.2 171.6h0M456.6 174.2h0M393.3 177.6h0M424.1 179.3h0M370.1 176.7h0M449.2 184.4h0M430.0 164.0h0M416.6 181.8h0M423.6 178.4h0M425.7 170.8h0M389.7 172.5h0M416.0 167.4h0M481.2 175.0h0M466.1 174.2h0M404.6 175.0h0M442.5 182.7h0M387.3 180.1h0M398.2 179.3h0M393.7 179.3h0M458.9 175.9h0M447.7 169.1h0M441.2 169.1h0M430.3 178.4h0M437.0 183.5h0M426.0 169.1h0M396.5 175.0h0M419.5 179.3h0M448.5 185.2h0M459.0 179.3h0M418.5 183.5h0M380.8 170.8h0M422.2 173.3h0M431.7 170.8h0M388.2 172.5h0M410.0 175.0h0M400.0 169.1h0M376.2 176.7h0M435.8 184.4h0M422.2 165.7h0M432.9 164.0h0M420.3 182.7h0M412.6 174.2h0M442.9 166.5h0M425.1 165.7h0M449.8 178.4h0M450.3 182.7h0M459.0 177.6h0M444.2 178.4h0M450.7 175.9h0M377.6 178.4h0M360.6 174.2h0M436.7 176.7h0M420.3 165.7h0M385.6 178.4h0M432.7 162.3h0M397.7 176.7h0M447.5 164.8h0M441.8 175.9h0M422.6 168.2h0M429.5 175.0h0M382.6 173.3h0M348.9 174.2h0M402.9 175.0h0M354.8 175.9h0M359.9 175.0h0M448.0 173.3h0M422.8 186.9h0M433.2 186.9h0M414.1 173.3h0M343.5 175.9h0M443.0 179.3h0M440.7 181.8h0M420.0 168.2h0"/>
<path stroke="#9233b9" d="M465.0 176.7h0M486.9 175.0h0"/>
<path stroke="#aa17a7" d="M440.6 171.6h0M452.2 166.5h0M426.1 176.7h0"/>
<path stroke="#fa0065" d="M466.4 175.0h0"/>
<path stroke="#ff0051" d="M447.4 181.8h0"/>
<path stroke="#794cce" d="M509.2 175.0h0M471.8 175.0h0M466.7 175.9h0M483.3 174.2h0M402.2 181.8h0M431.0 179.3h0M421.7 184.4h0M463.8 171.6h0M487.3 176.7h0M477.4 175.0h0"/>
<path stroke="#fa0065" d="M406.9 169.9h0M441.4 183.5h0M437.1 172.5h0"/>
<path stroke="#aa17a7" d="M460.3 175.0h0"/>
<path stroke="#9233b9" d="M487.7 175.9h0M461.7 175.0h0M451.8 174.2h0M474.2 175.9h0M478.7 173.3h0M468.4 175.9h0"/>
<path stroke="#007ef6" d="M358.5 174.2h0M422.8 179.3h0M429.9 181.0h0M382.1 178.4h0M419.0 169.1h0"/>
<path stroke="#008bfb" d="M439.0 161.4h0M435.6 174.2h0M428.1 185.2h0M412.3 181.0h0M448.3 181.0h0M415.5 170.8h0M426.0 183.5h0M423.2 177.6h0M422.8 181.0h0M439.9 175.0h0M440.2 188.6h0M442.8 185.2h0M445.2 189.5h0M416.4 169.1h0M453.7 169.1h0M452.8 181.8h0M443.3 187.8h0M443.1 174.2h0M417.7 181.8h0M363.5 174.2h0M436.7 175.9h0M425.2 173.3h0M405.3 170.8h0M351.0 174.2h0M446.8 184.4h0M452.3 173.3h0M429.4 169.9h0M446.0 162.3h0M450.2 181.8h0M414.7 174.2h0M448.8 186.1h0M397.5 178.4h0M411.4 173.3h0M449.0 183.5h0M364.0 175.0h0M371.4 175.0h0M423.8 163.1h0M409.0 175.9h0M425.3 184.4h0M433.0 171.6h0M413.1 177.6h0M428.8 165.7h0M378.9 172.5h0M427.1 183.5h0M401.8 178.4h0M447.3 176.7h0M436.3 169.1h0M400.0 174.2h0M395.5 179.3h0M431.7 180.1h0M427.8 177.6h0M447.4 163.1h0M384.4 177.6h0M408.4 181.0h0M427.6 184.4h0M434.3 170.8h0M447.5 169.9h0M417.2 166.5h0M434.3 166.5h0M440.1 169.1h0M443.1 181.8h0M442.1 161.4h0M405.9 177.6h0M373.0 176.7h0M399.1 173.3h0M421.9 176.7h0M364.5 173.3h0M370.4 172.5h0M430.2 186.1h0M455.8 169.9h0M402.0 180.1h0M429.8 179.3h0M404.6 177.6h0M421.4 167.4h0M421.1 180.1h0M427.3 175.9h0M384.4 173.3h0M418.0 174.2h0M458.1 174.2h0M444.2 182.7h0M444.4 163.1h0M400.2 180.1h0M464.1 177.6h0M439.3 178.4h0M432.0 176.7h0M401.7 169.9h0M427.5 181.0h0M442.6 186.1h0M430.8 183.5h0M370.7 175.0h0M439.9 164.8h0M445.3 173.3h0"/>
<path stroke="#fa0065" d="M405.8 172.5h0M462.0 177.6h0M450.8 170.8h0M422.0 175.0h0"/>
<path stroke="#007ef6" d="M382.6 175.9h0M451.0 175.0h0M445.9 176.7h0M448.8 175.0h0M405.3 171.6h0M383.4 178.4h0M376.4 174.2h0M429.5 164.8h0M453.7 180.1h0M440.6 170.8h0M453.1 171.6h0"/>
<path stroke="#ff0051" d="M473.8 176.7h0"/>
<path stroke="#9233b9" d="M414.3 182.7h0M477.9 175.9h0M430.2 175.0h0M433.7 181.8h0M471.4 173.3h0M469.2 175.0h0"/>
<path stroke="#794cce" d="M411.1 172.5h0M436.5 165.7h0M408.5 177.6h0M514.5 175.0h0"/>
<path stroke="#aa17a7" d="M408.8 168.2h0M436.4 173.3h0M474.7 175.0h0M513.1 175.0h0"/>
<path stroke="#008bfb" d="M362.6 175.9h0M386.6 173.3h0M451.6 167.4h0M406.9 175.9h0M447.5 165.7h0M413.4 175.9h0M430.4 186.9h0M426.7 181.8h0M440.2 162.3h0M410.8 169.1h0M436.5 185.2h0M429.1 163.1h0M410.4 169.9h0M423.5 164.0h0M411.5 177.6h0M450.6 179.3h0M424.3 169.9h0M426.5 175.0h0M418.8 179.3h0M441.0 176.7h0M401.4 170.8h0M451.1 165.7h0M421.6 175.9h0M366.0 174.2h0M443.2 172.5h0M445.5 166.5h0M426.8 173.3h0M416.1 180.1h0M429.3 186.1h0M438.6 183.5h0M427.5 166.5h0M364.7 176.7h0M426.4 178.4h0M407.6 174.2h0M418.7 177.6h0M421.5 181.8h0M451.7 178.4h0M415.4 169.1h0M440.9 186.1h0M427.3 178.4h0M411.5 175.9h0M438.2 173.3h0M419.0 167.4h0M423.3 171.6h0M437.5 181.0h0M422.3 166.5h0M430.6 164.8h0M434.2 179.3h0M438.5 184.4h0M449.1 168.2h0M411.0 178.4h0M426.7 164.8h0M367.8 177.6h0M471.3 174.2h0M434.5 178.4h0M421.0 166.5h0M382.7 172.5h0M451.0 169.9h0M414.6 179.3h0M352.5 175.0h0M433.9 163.1h0M414.0 169.9h0M357.6 176.7h0M376.9 172.5h0M443.1 188.6h0M445.0 177.6h0M431.5 188.6h0M373.5 175.9h0M467.5 179.3h0M441.9 187.8h0M407.9 179.3h0M472.4 177.6h0M457.9 176.7h0M480.5 174.2h0M409.9 178.4h0M350.1 175.9h0M459.3 174.2h0M439.2 187.8h0M409.1 173.3h0M447.2 175.0h0M431.3 174.2h0M437.4 164.0h0M427.5 165.7h0M442.1 173.3h0M437.4 176.7h0M372.1 175.9h0M425.1 174.2h0M428.2 171.6h0"/>
<path stroke="#fa0065" d="M410.4 220.6h0M443.2 202.7h0M399.1 214.6h0M456.4 210.4h0M419.6 213.8h0M411.9 218.9h0M400.9 211.2h0M453.6 213.8h0M416.8 206.1h0M467.0 211.2h0M419.8 214.6h0M460.9 212.1h0M424.3 220.6h0M442.0 225.7h0M451.7 215.5h0"/>
<path stroke="#008bfb" d="M449.5 207.0h0M436.1 201.9h0M421.1 228.2h0M424.0 211.2h0M436.1 204.4h0M423.7 209.5h0M448.5 207.8h0M439.2 201.0h0M444.7 206.1h0M437.9 215.5h0M453.7 206.1h0M413.4 222.3h0M454.4 224.0h0M443.1 224.0h0M452.5 215.5h0M443.5 229.1h0M429.3 206.1h0M413.7 209.5h0M442.3 218.0h0M449.9 224.0h0M466.2 217.2h0M456.6 207.8h0M434.8 201.0h0M421.4 218.0h0M453.4 207.8h0M461.2 212.9h0M428.5 212.9h0M448.7 224.0h0M453.2 216.3h0M419.3 206.1h0M403.0 220.6h0M398.5 215.5h0M448.8 219.7h0M423.5 206.1h0M438.1 211.2h0M410.7 214.6h0M467.8 216.3h0M413.2 212.9h0M394.1 217.2h0M412.0 215.5h0M435.8 227.4h0M444.3 224.0h0M434.2 232.5h0M448.2 209.5h0M432.4 214.6h0M467.2 220.6h0M399.2 216.3h0M448.8 222.3h0M433.7 202.7h0"/>
<path stroke="#007ef6" d="M433.6 219.7h0M432.7 220.6h0M415.9 215.5h0"/>
<path stroke="#9233b9" d="M462.8 211.2h0M405.0 219.7h0M424.5 212.1h0M435.5 223.1h0M441.0 205.3h0M433.5 218.9h0"/>
<path stroke="#794cce" d="M464.1 217.2h0M391.6 218.9h0"/>
<path stroke="#ec0078" d="M433.5 218.0h0M403.3 221.4h0"/>
<path stroke="#ff0051" d="M407.9 211.2h0M441.3 209.5h0M396.6 212.9h0M407.0 213.8h0M473.2 218.0h0M432.2 218.0h0M408.7 212.1h0M429.6 217.2h0M404.7 222.3h0M431.4 217.2h0M464.6 215.5h0M480.8 216.3h0M401.6 218.0h0"/>
<path stroke="#aa17a7" d="M429.3 222.3h0M430.2 219.7h0M470.4 213.8h0M442.1 222.3h0M418.6 221.4h0M442.1 212.1h0"/>
<path stroke="#9233b9" d="M428.4 229.9h0M430.0 216.3h0M447.1 212.1h0M469.8 216.3h0M435.8 207.0h0M448.3 213.8h0M441.6 208.7h0M413.3 218.9h0"/>
<path stroke="#008bfb" d="M441.1 207.0h0M442.5 221.4h0M438.0 221.4h0M443.5 230.8h0M447.5 207.0h0M386.8 216.3h0M445.9 214.6h0M419.2 218.9h0M446.0 207.8h0M433.6 221.4h0M432.2 211.2h0M407.3 220.6h0M443.9 225.7h0M454.3 214.6h0M450.5 218.0h0M401.8 214.6h0M421.1 208.7h0M438.6 205.3h0M435.2 218.0h0M402.1 217.2h0M400.9 217.2h0M449.3 218.9h0M451.3 209.5h0M423.5 227.4h0M421.8 221.4h0M432.2 213.8h0M448.1 226.5h0M454.3 217.2h0M417.2 223.1h0M446.3 220.6h0M442.1 206.1h0M437.3 224.8h0M400.4 212.9h0M433.9 210.4h0M435.3 216.3h0M457.9 208.7h0M452.5 217.2h0M440.6 227.4h0M423.4 228.2h0M457.6 212.9h0M409.8 215.5h0M432.3 229.9h0M445.5 215.5h0M444.5 203.6h0M440.6 208.7h0M422.5 227.4h0M446.2 209.5h0"/>
<path stroke="#794cce" d="M452.4 220.6h0M436.2 210.4h0M394.7 215.5h0M469.3 218.9h0"/>
<path stroke="#007ef6" d="M408.0 222.3h0M424.4 207.8h0M426.7 213.8h0"/>
<path stroke="#fa0065" d="M361.5 216.3h0M404.0 215.5h0M445.1 208.7h0M481.8 216.3h0M444.7 229.9h0M447.6 223.1h0M426.7 205.3h0M448.8 223.1h0M422.9 222.3h0M434.3 220.6h0M410.9 223.1h0M448.4 206.1h0M421.8 224.8h0M477.3 216.3h0M411.6 221.4h0M358.6 216.3h0M356.3 216.3h0M455.5 223.1h0M443.8 205.3h0M477.4 215.5h0M414.4 225.7h0"/>
<path stroke="#ff0051" d="M452.4 214.6h0M384.7 216.3h0M476.9 217.2h0M413.4 208.7h0M404.5 221.4h0M392.9 218.0h0M393.9 216.3h0M452.4 221.4h0M424.3 224.8h0M400.3 214.6h0M439.2 222.3h0M450.2 225.7h0"/>
<path stroke="#008bfb" d="M436.4 219.7h0M441.5 230.8h0M431.8 228.2h0M414.2 216.3h0M390.2 216.3h0M416.2 209.5h0M436.9 206.1h0M432.4 215.5h0M431.7 226.5h0M415.3 218.9h0M443.7 227.4h0M406.7 212.9h0M429.8 204.4h0M382.0 216.3h0M454.5 213.8h0M423.3 221.4h0M408.0 214.6h0M429.0 218.9h0M441.8 228.2h0M430.8 215.5h0M426.5 204.4h0M463.8 215.5h0M435.6 215.5h0M441.3 216.3h0M432.1 224.0h0M426.4 220.6h0M449.8 210.4h0M454.0 207.8h0M392.5 215.5h0M443.0 229.1h0M396.0 214.6h0M435.6 230.8h0M436.2 224.8h0M445.2 228.2h0M434.3 212.1h0M390.3 217.2h0M427.7 222.3h0M418.3 227.4h0M441.2 203.6h0M451.6 226.5h0M386.8 218.0h0"/>
<path stroke="#9233b9" d="M467.6 212.9h0M435.4 212.9h0M470.5 215.5h0M466.5 212.1h0M430.5 212.1h0"/>
<path stroke="#ff0051" d="M388.7 215.5h0M455.1 212.9h0M429.9 224.8h0M431.1 204.4h0M450.7 207.0h0M394.1 218.9h0M422.6 224.0h0M437.2 203.6h0M419.6 222.3h0M432.3 212.1h0M504.0 216.3h0M462.6 220.6h0"/>
<path stroke="#794cce" d="M403.8 223.1h0M432.1 208.7h0M476.5 217.2h0M422.8 214.6h0M427.5 221.4h0"/>
<path stroke="#007ef6" d="M446.3 210.4h0M435.2 229.1h0M446.8 226.5h0"/>
<path stroke="#aa17a7" d="M467.5 222.3h0M434.9 223.1h0M416.5 221.4h0M462.2 223.1h0M428.0 218.0h0M441.3 225.7h0M430.0 202.7h0M425.4 212.9h0"/>
<path stroke="#fa0065" d="M407.6 224.0h0M414.0 207.8h0M439.7 222.3h0M473.3 214.6h0M420.0 228.2h0M412.0 217.2h0M450.4 213.8h0M427.9 208.7h0M464.4 219.7h0M404.8 212.9h0M447.2 208.7h0M439.2 228.2h0M402.0 212.1h0M446.6 212.9h0M398.6 212.1h0M416.5 214.6h0M418.9 208.7h0M438.0 225.7h0M451.6 211.2h0M399.6 220.6h0M441.7 209.5h0"/>
<path stroke="#ff0051" d="M435.3 222.3h0M472.7 217.2h0M415.8 207.8h0M400.5 210.4h0M443.0 216.3h0M414.3 213.8h0"/>
<path stroke="#fa0065" d="M402.0 222.3h0M385.0 215.5h0M412.9 223.1h0M440.0 226.5h0M439.0 231.6h0M465.0 212.9h0M409.5 218.0h0M463.7 221.4h0M417.6 207.0h0M406.8 218.9h0M404.2 211.2h0M421.6 212.1h0M398.9 218.9h0M424.3 204.4h0M404.1 218.9h0M456.4 217.2h0M429.1 210.4h0M419.7 209.5h0"/>
<path stroke="#9233b9" d="M440.1 212.1h0M465.3 216.3h0M437.8 208.7h0M441.7 205.3h0M426.9 225.7h0M454.7 218.9h0M466.0 218.9h0M448.8 218.0h0"/>
<path stroke="#794cce" d="M465.6 214.6h0M429.4 229.9h0M432.9 224.8h0M448.8 212.1h0"/>
<path stroke="#008bfb" d="M439.0 207.0h0M427.2 213.8h0M445.0 201.9h0M427.4 209.5h0M431.5 222.3h0M421.3 224.0h0M456.3 219.7h0M447.2 217.2h0M462.6 218.9h0M415.7 216.3h0M447.9 208.7h0M452.7 218.9h0M429.2 207.8h0M410.8 207.8h0M443.1 215.5h0M461.7 218.0h0M409.7 220.6h0M445.1 224.8h0M442.0 226.5h0M460.2 218.9h0M458.5 211.2h0M464.7 218.0h0M437.6 214.6h0M422.0 222.3h0M424.8 225.7h0M414.9 212.1h0M419.4 224.0h0M432.7 206.1h0M423.4 223.1h0M428.8 211.2h0M424.7 224.8h0M441.1 229.1h0M414.5 218.0h0M440.9 219.7h0M438.3 218.9h0M439.8 214.6h0M419.7 216.3h0M367.7 216.3h0M398.2 220.6h0M423.1 207.0h0M430.0 225.7h0M438.6 206.1h0M433.2 209.5h0M406.6 210.4h0M433.7 225.7h0M445.4 226.5h0M441.1 218.0h0M394.6 214.6h0M438.4 212.1h0M439.5 211.2h0M433.5 228.2h0M458.1 216.3h0M453.9 212.1h0M461.9 219.7h0"/>
<path stroke="#007ef6" d="M426.2 227.4h0M427.4 204.4h0"/>
<path stroke="#ec0078" d="M412.2 219.7h0"/>
<path stroke="#aa17a7" d="M422.4 219.7h0M441.2 224.0h0"/>
<path stroke="#9233b9" d="M462.5 212.9h0"/>
<path stroke="#aa17a7" d="M459.9 212.9h0M456.6 214.6h0M419.4 212.9h0M473.3 215.5h0M471.8 218.0h0"/>
<path stroke="#ec0078" d="M389.5 215.5h0"/>
<path stroke="#fa0065" d="M410.4 222.3h0M459.7 213.8h0M460.5 220.6h0M453.9 222.3h0M402.1 219.7h0M425.6 209.5h0M440.9 218.9h0M446.1 218.0h0M419.1 219.7h0M415.9 207.0h0M413.3 213.8h0M441.4 212.9h0M418.2 212.1h0M418.9 220.6h0M394.0 219.7h0M452.7 208.7h0M407.1 219.7h0M430.7 224.0h0M488.2 216.3h0"/>
<path stroke="#008bfb" d="M439.1 223.1h0M452.1 210.4h0M431.5 219.7h0M384.9 218.0h0M427.2 203.6h0M429.1 223.1h0M460.4 216.3h0M469.2 212.9h0M422.9 210.4h0M458.7 220.6h0M400.8 215.5h0M416.7 215.5h0M418.9 225.7h0M407.1 217.2h0M451.9 224.0h0M410.6 219.7h0M446.4 221.4h0M471.1 214.6h0M428.0 223.1h0M442.4 213.8h0M416.6 224.0h0M446.0 204.4h0M440.1 223.1h0M402.2 223.1h0M433.1 203.6h0M439.2 201.9h0M434.6 215.5h0M429.3 207.0h0M409.2 222.3h0M428.8 214.6h0M421.2 217.2h0M446.1 224.8h0M427.9 215.5h0M463.2 219.7h0M418.2 219.7h0M443.2 229.9h0M424.1 229.1h0M428.2 202.7h0M456.6 215.5h0M469.8 219.7h0M428.5 206.1h0M442.1 219.7h0M424.7 223.1h0M438.9 209.5h0M459.4 219.7h0M409.8 210.4h0M425.3 207.8h0M412.5 225.7h0M395.7 215.5h0"/>
<path stroke="#794cce" d="M466.9 219.7h0M436.7 228.2h0M454.1 219.7h0M459.5 214.6h0"/>
<path stroke="#007ef6" d="M434.2 224.8h0M406.7 223.1h0M435.0 205.3h0M436.0 211.2h0"/>
<path stroke="#ff0051" d="M450.6 227.4h0M455.4 208.7h0M439.7 206.1h0M444.1 211.2h0M433.7 226.5h0M431.1 210.4h0M468.0 215.5h0M412.0 210.4h0M467.8 218.9h0M374.1 216.3h0M430.3 208.7h0M484.9 216.3h0"/>
<path stroke="#aa17a7" d="M423.6 213.8h0M440.1 213.8h0M457.4 218.0h0M450.3 205.3h0"/>
<path stroke="#008bfb" d="M466.8 214.6h0M421.0 215.5h0M397.9 221.4h0M442.4 204.4h0M458.6 217.2h0M440.8 212.9h0M452.1 218.0h0M449.9 214.6h0M394.0 218.0h0M461.9 215.5h0M417.4 218.9h0M446.9 225.7h0M398.7 213.8h0M424.1 212.9h0M426.2 226.5h0M437.8 217.2h0M452.9 209.5h0M435.3 209.5h0M441.4 217.2h0M434.3 201.9h0M452.5 227.4h0M406.3 209.5h0M427.8 216.3h0M425.8 208.7h0M425.9 228.2h0M404.7 217.2h0M434.8 212.9h0M419.7 217.2h0M442.0 218.9h0M429.7 220.6h0M463.9 216.3h0M462.2 211.2h0M426.7 222.3h0M425.0 218.9h0M391.3 217.2h0M450.7 218.9h0M436.7 224.0h0M419.2 211.2h0M444.1 220.6h0M447.9 212.9h0M433.1 207.0h0M413.5 224.0h0M406.9 215.5h0M427.9 207.0h0M433.0 203.6h0M457.9 223.1h0M449.5 220.6h0M436.8 213.8h0"/>
<path stroke="#ff0051" d="M423.5 226.5h0M430.7 218.0h0M408.7 211.2h0M426.8 210.4h0M408.3 221.4h0M412.6 210.4h0M403.9 213.8h0M433.2 200.2h0M437.5 220.6h0M409.4 219.7h0"/>
<path stroke="#fa0065" d="M443.9 223.1h0M414.2 208.7h0M470.0 218.0h0M391.9 216.3h0M402.1 224.0h0M384.9 217.2h0M400.7 221.4h0M413.9 221.4h0M378.0 216.3h0M427.7 218.9h0M455.3 221.4h0M411.3 224.8h0M427.0 220.6h0M415.0 212.9h0M459.0 224.0h0M397.5 217.2h0M382.5 217.2h0M416.1 211.2h0M446.6 211.2h0M426.5 219.7h0M431.4 227.4h0M456.8 221.4h0M388.9 216.3h0"/>
<path stroke="#007ef6" d="M417.8 211.2h0M411.4 213.8h0M461.4 213.8h0M438.4 202.7h0"/>
<path stroke="#794cce" d="M429.4 227.4h0"/>
<path stroke="#9233b9" d="M459.1 223.1h0M463.4 214.6h0M427.1 228.2h0M455.2 215.5h0M413.3 217.2h0"/>
<path stroke="#ff0051" d="M434.6 227.4h0M441.8 224.8h0M426.7 215.5h0M433.1 207.8h0M425.0 217.2h0M393.2 213.8h0M415.2 220.6h0M396.4 218.0h0M411.6 216.3h0M409.7 223.1h0M414.4 223.1h0M433.1 204.4h0M416.4 205.3h0M390.2 214.6h0M431.6 205.3h0"/>
<path stroke="#007ef6" d="M417.5 208.7h0M399.4 218.0h0M419.0 227.4h0M403.4 218.9h0M428.1 229.1h0"/>
<path stroke="#9233b9" d="M426.9 224.8h0M446.6 215.5h0M464.7 221.4h0M400.4 213.8h0M463.4 222.3h0M424.9 216.3h0M452.1 207.0h0"/>
<path stroke="#fa0065" d="M416.0 217.2h0M415.9 214.6h0M379.0 216.3h0M411.6 208.7h0M441.8 214.6h0M445.0 214.6h0M385.5 217.2h0M405.9 214.6h0M416.9 225.7h0M417.7 209.5h0M425.8 206.1h0M438.7 229.1h0"/>
<path stroke="#008bfb" d="M421.7 207.8h0M400.9 218.9h0M422.5 214.6h0M424.5 229.9h0M453.6 226.5h0M434.6 231.6h0M421.8 205.3h0M436.2 217.2h0M419.8 210.4h0M440.0 221.4h0M422.3 211.2h0M459.1 210.4h0M445.0 209.5h0M445.8 216.3h0M445.3 207.0h0M429.7 213.8h0M434.7 229.1h0M444.3 212.9h0M408.8 216.3h0M460.1 225.7h0M457.3 216.3h0M439.2 218.0h0M430.2 209.5h0M437.1 207.8h0M444.1 202.7h0M452.6 212.1h0M427.5 227.4h0M458.8 212.1h0M430.7 203.6h0M445.7 222.3h0M443.6 216.3h0M449.7 225.7h0M433.8 217.2h0M400.0 219.7h0M459.5 208.7h0M431.0 223.1h0M401.8 215.5h0M447.0 213.8h0M421.9 209.5h0M418.1 217.2h0M423.2 203.6h0M439.2 212.9h0M433.2 213.8h0M442.2 207.8h0M447.0 205.3h0M433.9 216.3h0M437.8 210.4h0M452.5 224.8h0M457.1 213.8h0M443.9 222.3h0M449.1 211.2h0"/>
<path stroke="#794cce" d="M455.0 216.3h0M434.8 224.0h0M396.1 213.8h0M430.4 226.5h0"/>
<path stroke="#aa17a7" d="M446.1 219.7h0"/>
<path stroke="#007ef6" d="M451.5 212.9h0M444.6 218.0h0M450.1 219.7h0M443.0 227.4h0M436.0 220.6h0M452.2 219.7h0M444.4 204.4h0"/>
<path stroke="#aa17a7" d="M403.1 210.4h0M467.6 213.8h0M424.1 218.9h0M436.3 225.7h0"/>
<path stroke="#794cce" d="M416.4 226.5h0M465.1 213.8h0M472.1 216.3h0M403.3 216.3h0M422.2 223.1h0M436.3 202.7h0"/>
<path stroke="#9233b9" d="M463.9 210.4h0M458.6 218.9h0M420.9 206.1h0M468.2 221.4h0M457.5 209.5h0M416.6 218.0h0M465.7 211.2h0M411.1 225.7h0"/>
<path stroke="#fa0065" d="M400.4 222.3h0M402.4 211.2h0M426.6 218.0h0M447.2 228.2h0M429.0 211.2h0M411.4 207.0h0M416.4 212.9h0M443.6 212.1h0M432.0 209.5h0M437.2 219.7h0M363.2 216.3h0M422.8 216.3h0M405.0 212.1h0M412.8 214.6h0M425.5 211.2h0M426.9 219.7h0M423.1 218.0h0M396.6 216.3h0"/>
<path stroke="#008bfb" d="M402.8 218.0h0M463.4 218.0h0M409.5 217.2h0M430.6 228.2h0M408.7 213.8h0M437.2 230.8h0M404.1 210.4h0M449.3 210.4h0M445.5 210.4h0M399.7 216.3h0M464.2 212.1h0M452.1 205.3h0M414.8 210.4h0M425.4 214.6h0M425.1 224.0h0M434.1 206.1h0M412.9 224.8h0M449.9 208.7h0M419.7 212.1h0M458.5 221.4h0M425.7 221.4h0M427.6 226.5h0M424.3 219.7h0M439.0 216.3h0M440.8 220.6h0M441.0 204.4h0M420.6 210.4h0M450.2 212.1h0M471.5 215.5h0M456.0 224.0h0M418.2 213.8h0M457.9 222.3h0M420.6 225.7h0M441.3 207.8h0M397.0 220.6h0M430.8 212.9h0M437.3 229.9h0M427.3 224.0h0M445.7 218.9h0M443.6 219.7h0M433.1 230.8h0M449.0 215.5h0"/>
<path stroke="#ff0051" d="M563.4 216.3h0M398.0 219.7h0M460.5 214.6h0M411.0 212.9h0M412.8 212.1h0M411.9 218.0h0M416.0 224.0h0M449.8 206.1h0M430.9 207.8h0M428.7 230.8h0"/>
<path stroke="#008bfb" d="M435.7 212.1h0M444.5 221.4h0M452.4 212.9h0M426.6 205.3h0M446.4 206.1h0M422.6 208.7h0M441.0 228.2h0M398.4 212.9h0M442.3 201.9h0M436.7 226.5h0M474.7 218.9h0M419.7 207.8h0M406.3 216.3h0M463.3 213.8h0M423.4 215.5h0M454.0 224.8h0M435.0 208.7h0M455.3 225.7h0M436.1 229.9h0M451.6 207.8h0M437.5 226.5h0M419.8 223.1h0M442.0 211.2h0M423.7 217.2h0M425.7 210.4h0M420.9 226.5h0M421.7 212.9h0M449.3 217.2h0M450.1 224.8h0M436.3 208.7h0M457.6 211.2h0M456.7 224.8h0M430.7 214.6h0M454.9 211.2h0M434.2 211.2h0M429.4 221.4h0M458.4 222.3h0M428.4 207.8h0M450.1 222.3h0M445.3 207.8h0M421.7 220.6h0M443.1 207.0h0M435.5 205.3h0M433.4 229.9h0M395.5 218.9h0M412.8 220.6h0M449.6 221.4h0M423.8 205.3h0M416.9 228.2h0"/>
<path stroke="#aa17a7" d="M444.0 213.8h0M434.3 222.3h0"/>
<path stroke="#007ef6" d="M457.7 218.9h0M421.9 218.9h0M451.2 216.3h0M420.4 207.0h0"/>
<path stroke="#794cce" d="M418.3 222.3h0M428.9 230.8h0M440.2 202.7h0"/>
<path stroke="#ec0078" d="M454.2 218.0h0"/>
<path stroke="#fa0065" d="M419.3 218.0h0M467.3 217.2h0M470.9 213.8h0M431.7 225.7h0M432.5 221.4h0M404.5 218.0h0M407.7 212.1h0M441.0 217.2h0M406.6 221.4h0M491.1 216.3h0M476.2 216.3h0M376.5 216.3h0M354.8 216.3h0M431.3 216.3h0M396.8 217.2h0M437.4 204.4h0M400.7 212.1h0M365.0 216.3h0M412.2 211.2h0M408.7 212.9h0"/>
<path stroke="#9233b9" d="M453.2 225.7h0M435.7 203.6h0"/>
<path stroke="#ff0051" d="M396.9 219.7h0M414.7 226.5h0M433.7 214.6h0M407.3 218.0h0M444.5 217.2h0M439.4 229.9h0M449.4 214.6h0M500.5 216.3h0M408.3 218.9h0M471.6 217.2h0M512.7 216.3h0M440.6 224.8h0M461.7 221.4h0M436.3 218.9h0"/>
<path stroke="#ec0078" d="M370.5 216.3h0M414.5 221.4h0M427.0 217.2h0"/>
<path stroke="#aa17a7" d="M438.7 227.4h0"/>
<path stroke="#ff0051" d="M497.0 216.3h0M411.3 224.0h0M369.8 216.3h0M391.4 214.6h0M453.1 223.1h0M410.8 211.2h0M393.8 213.8h0M418.5 226.5h0M454.2 210.4h0M410.9 212.1h0M507.5 216.3h0"/>
<path stroke="#794cce" d="M472.0 218.9h0M458.8 215.5h0M473.2 216.3h0M419.8 215.5h0M417.8 210.4h0M413.8 218.0h0M438.3 213.8h0"/>
<path stroke="#008bfb" d="M416.3 224.8h0M439.2 224.0h0M435.7 221.4h0M431.6 229.1h0M403.1 212.9h0M430.8 201.9h0M466.6 218.0h0M420.8 207.0h0M422.0 213.8h0M440.1 215.5h0M416.9 220.6h0M458.0 220.6h0M460.3 217.2h0M459.5 224.8h0M459.0 207.8h0M417.2 207.8h0M415.9 224.8h0M431.3 212.9h0M424.7 212.1h0M424.6 225.7h0M442.0 223.1h0M455.6 220.6h0M432.0 207.0h0M452.0 211.2h0M460.0 218.0h0M419.7 205.3h0M439.9 210.4h0M453.2 222.3h0M404.1 216.3h0M465.6 212.1h0M421.3 216.3h0M429.6 229.1h0M446.8 224.0h0M455.7 207.0h0M458.3 209.5h0M419.0 204.4h0M410.5 209.5h0M444.5 218.9h0M442.6 203.6h0M419.5 224.8h0M428.0 212.1h0M451.5 217.2h0M431.5 218.9h0M437.5 207.8h0M441.9 210.4h0M448.8 224.8h0M435.6 214.6h0"/>
<path stroke="#007ef6" d="M445.6 227.4h0M450.7 223.1h0M425.5 207.0h0M390.6 218.0h0"/>
<path stroke="#fa0065" d="M388.8 217.2h0M470.1 217.2h0M487.1 216.3h0M386.0 215.5h0M429.5 205.3h0M403.5 213.8h0M403.1 209.5h0M416.1 222.3h0M412.6 215.5h0M416.8 216.3h0M464.5 220.6h0M456.7 212.1h0M405.5 220.6h0M442.9 220.6h0M404.7 214.6h0"/>
<path stroke="#9233b9" d="M469.1 214.6h0M448.6 216.3h0M476.0 215.5h0M450.8 221.4h0M415.2 219.7h0M454.8 209.5h0M449.8 220.6h0"/>
<path stroke="#aa17a7" d="M408.0 260.2h0M403.4 254.2h0M427.4 254.2h0M422.7 255.9h0M396.4 255.1h0M439.0 245.7h0M421.0 259.3h0M433.1 269.5h0M403.3 258.5h0M411.8 254.2h0"/>
<path stroke="#007ef6" d="M427.8 259.3h0"/>
<path stroke="#9233b9" d="M450.8 255.1h0M443.1 264.4h0M439.8 251.7h0M474.0 256.8h0M404.7 254.2h0M439.0 272.1h0M428.4 261.9h0M431.7 267.8h0M423.7 261.0h0M448.3 255.1h0M431.5 269.5h0M420.9 251.7h0M413.7 255.1h0"/>
<path stroke="#ec0078" d="M441.8 260.2h0"/>
<path stroke="#ff0051" d="M454.7 262.7h0M446.6 261.9h0M427.2 250.0h0M446.2 267.0h0M432.3 261.0h0M435.1 265.2h0M435.8 270.4h0M415.1 255.9h0M461.9 255.1h0M460.3 259.3h0M435.9 262.7h0M481.7 258.5h0M426.3 265.2h0M452.3 258.5h0M451.3 259.3h0M448.7 251.7h0M482.9 257.6h0"/>
<path stroke="#794cce" d="M394.6 257.6h0M388.1 256.8h0M441.0 255.9h0M422.1 250.0h0M438.2 262.7h0M441.5 259.3h0M420.3 265.2h0M429.6 256.8h0M472.2 256.8h0M422.3 262.7h0M414.9 253.4h0"/>
<path stroke="#008bfb" d="M358.5 257.6h0M412.2 261.0h0M386.0 258.5h0M406.8 259.3h0M438.5 265.2h0M406.7 257.6h0M394.6 255.1h0M411.5 252.5h0M356.5 257.6h0M365.2 257.6h0M385.0 258.5h0M433.0 270.4h0"/>
<path stroke="#fa0065" d="M435.4 267.0h0M442.8 258.5h0M475.4 257.6h0M460.5 255.1h0M393.5 257.6h0M458.7 252.5h0M439.1 250.0h0M404.2 256.8h0M424.5 262.7h0M436.2 268.7h0M441.8 253.4h0M443.0 254.2h0M475.4 256.8h0M458.3 253.4h0M429.3 267.8h0M420.2 256.8h0M440.7 269.5h0M388.1 258.5h0M414.9 260.2h0M435.7 250.0h0M416.2 263.6h0M445.0 257.6h0M440.1 249.1h0M449.2 253.4h0M403.5 261.9h0M450.7 265.2h0M447.3 250.8h0M416.6 263.6h0M439.2 265.2h0"/>
<path stroke="#794cce" d="M412.7 262.7h0M425.0 265.2h0M410.5 256.8h0M403.8 255.1h0M437.0 269.5h0M471.1 258.5h0M426.1 252.5h0M446.3 256.8h0M440.7 268.7h0M429.2 258.5h0M417.4 260.2h0M477.2 259.3h0M411.4 251.7h0"/>
<path stroke="#fa0065" d="M412.6 253.4h0M459.6 258.5h0M418.9 255.9h0M450.8 252.5h0M480.3 257.6h0M426.8 267.0h0M419.9 257.6h0M443.8 250.0h0M475.7 255.9h0M434.6 262.7h0M399.5 256.8h0M460.5 257.6h0M446.2 252.5h0M411.3 260.2h0M462.2 261.9h0M456.1 254.2h0M439.6 248.3h0M425.8 253.4h0M457.0 256.8h0M458.6 254.2h0M422.9 266.1h0M456.7 252.5h0M449.4 263.6h0M458.3 254.2h0M430.1 247.4h0M429.5 266.1h0M446.1 251.7h0M396.7 259.3h0M422.2 250.8h0"/>
<path stroke="#ff0051" d="M480.1 256.8h0M466.8 257.6h0M434.0 245.7h0M435.0 255.1h0M468.8 257.6h0M455.3 257.6h0M438.0 252.5h0M435.1 271.2h0M450.9 254.2h0M472.6 258.5h0M450.3 266.1h0M396.3 256.8h0M424.0 264.4h0M424.7 255.1h0M439.6 267.8h0M432.6 247.4h0M437.5 257.6h0"/>
<path stroke="#aa17a7" d="M441.7 261.9h0M433.2 267.0h0M415.8 256.8h0M418.6 263.6h0M443.2 262.7h0M392.5 256.8h0M428.7 247.4h0M429.1 257.6h0M439.4 257.6h0"/>
<path stroke="#007ef6" d="M361.5 257.6h0"/>
<path stroke="#9233b9" d="M401.6 258.5h0M401.0 256.8h0M433.3 248.3h0M450.7 260.2h0M430.1 264.4h0M437.4 244.0h0M436.2 255.9h0M397.7 259.3h0M473.5 258.5h0M412.1 258.5h0M401.5 255.9h0M433.2 255.1h0M439.8 263.6h0M425.4 262.7h0M434.9 261.9h0M425.4 251.7h0M436.4 256.8h0"/>
<path stroke="#008bfb" d="M411.4 259.3h0M442.6 260.2h0M400.5 257.6h0M435.5 250.8h0M390.9 256.8h0M389.3 256.8h0M425.0 266.1h0M402.9 259.3h0"/>
<path stroke="#9233b9" d="M402.3 261.0h0M432.7 251.7h0M417.7 262.7h0M430.3 260.2h0M433.9 243.2h0M399.5 259.3h0M400.1 258.5h0"/>
<path stroke="#aa17a7" d="M421.8 261.0h0M461.1 261.0h0M438.8 261.9h0M399.7 257.6h0M425.3 257.6h0M425.2 256.8h0"/>
<path stroke="#ec0078" d="M438.9 251.7h0"/>
<path stroke="#007ef6" d="M380.4 257.6h0"/>
<path stroke="#008bfb" d="M417.6 261.9h0M414.8 258.5h0M420.8 260.2h0M398.3 255.9h0M405.3 256.8h0M415.3 259.3h0M400.0 260.2h0M414.8 256.8h0M423.1 254.2h0M437.4 261.0h0M351.9 257.6h0"/>
<path stroke="#ff0051" d="M431.9 246.6h0M434.8 246.6h0M433.3 264.4h0M427.7 255.9h0M448.3 254.2h0M402.1 255.1h0M470.5 260.2h0M417.4 255.9h0M450.5 250.0h0M443.7 253.4h0M446.5 258.5h0M393.5 259.3h0M478.9 258.5h0M436.1 264.4h0M425.6 259.3h0M473.2 259.3h0M464.5 255.9h0M473.8 260.2h0M444.5 256.8h0M436.6 265.2h0M432.7 253.4h0M442.4 265.2h0"/>
<path stroke="#fa0065" d="M423.4 267.0h0M436.1 259.3h0M441.8 251.7h0M468.8 256.8h0M407.9 257.6h0M435.1 253.4h0M454.2 259.3h0M443.8 249.1h0M426.1 249.1h0M456.5 256.8h0M434.6 244.0h0M420.9 261.0h0M456.4 259.3h0M423.5 255.9h0M430.7 270.4h0M420.1 250.8h0M415.6 250.8h0M437.3 253.4h0M422.2 261.9h0M459.8 260.2h0M435.6 267.8h0M421.5 252.5h0M423.2 259.3h0M452.5 259.3h0M419.2 258.5h0M429.2 251.7h0M453.6 261.0h0M448.4 255.9h0M438.8 244.9h0M442.2 258.5h0M434.3 252.5h0M462.8 253.4h0M402.4 260.2h0M437.0 257.6h0M458.3 261.9h0M428.8 255.9h0"/>
<path stroke="#794cce" d="M420.5 255.1h0M418.1 258.5h0M455.0 263.6h0M415.9 261.0h0M405.3 258.5h0M398.0 258.5h0M430.0 267.8h0M402.5 257.6h0M435.9 250.8h0M448.9 265.2h0"/>
<path stroke="#008bfb" d="M411.2 255.1h0M446.5 255.9h0M414.3 257.6h0M395.5 255.9h0M374.2 257.6h0M416.5 252.5h0M358.0 257.6h0M403.7 261.0h0M372.5 258.5h0M346.5 257.6h0"/>
<path stroke="#ff0051" d="M434.0 254.2h0M420.4 264.4h0M456.3 255.1h0M443.1 251.7h0M465.4 261.0h0M451.4 249.1h0M436.4 261.9h0M448.3 252.5h0M447.2 261.0h0M506.0 257.6h0M464.5 260.2h0M454.1 253.4h0M438.9 253.4h0M434.2 265.2h0M436.3 252.5h0M434.3 247.4h0M466.8 256.8h0M451.8 257.6h0M429.4 259.3h0M407.0 253.4h0"/>
<path stroke="#ec0078" d="M435.0 254.2h0M466.2 255.9h0M451.4 253.4h0"/>
<path stroke="#9233b9" d="M437.1 246.6h0M451.3 256.8h0M449.1 258.5h0M424.2 258.5h0M446.7 255.1h0M435.2 272.1h0M472.5 259.3h0M434.3 260.2h0M414.2 255.9h0M462.4 261.0h0M399.9 261.0h0M460.6 256.8h0M436.1 248.3h0M431.8 255.9h0M441.9 257.6h0M440.9 254.2h0M461.7 254.2h0"/>
<path stroke="#794cce" d="M440.0 259.3h0M462.1 259.3h0M405.7 255.9h0M443.3 261.0h0M431.6 248.3h0M449.4 252.5h0M451.6 266.1h0M401.5 259.3h0M431.8 268.7h0M418.7 254.2h0"/>
<path stroke="#fa0065" d="M457.6 257.6h0M434.8 248.3h0M428.2 267.0h0M432.4 263.6h0M447.1 266.1h0M458.5 263.6h0M439.4 256.8h0M414.6 259.3h0M429.3 250.0h0M419.2 252.5h0M426.6 251.7h0M442.3 264.4h0M431.9 259.3h0M454.4 258.5h0M440.9 247.4h0M444.6 258.5h0M428.0 261.0h0M402.3 256.8h0M446.2 261.0h0M444.1 250.0h0M437.9 255.1h0M443.3 267.8h0M431.7 249.1h0M454.6 261.9h0M463.3 252.5h0M443.1 267.0h0M434.9 259.3h0M425.1 261.9h0"/>
<path stroke="#aa17a7" d="M418.3 261.0h0M413.3 259.3h0M436.8 267.0h0M405.0 258.5h0M451.8 261.0h0M392.4 255.9h0"/>
<path stroke="#007ef6" d="M419.0 250.0h0"/>
<path stroke="#fa0065" d="M476.0 259.3h0M432.7 257.6h0M449.3 257.6h0M459.3 261.9h0M445.6 265.2h0M424.3 267.8h0M438.2 243.2h0M482.0 256.8h0M434.2 266.1h0M459.8 262.7h0M433.3 246.6h0M431.2 253.4h0M467.4 260.2h0M432.4 250.8h0M438.1 261.0h0M430.6 251.7h0M424.7 260.2h0M466.5 254.2h0M453.8 254.2h0M459.3 259.3h0M439.7 245.7h0M442.1 267.8h0M417.6 256.8h0M427.2 248.3h0M447.9 258.5h0M431.1 244.9h0M435.1 269.5h0M430.6 268.7h0M430.3 248.3h0M429.7 246.6h0M436.4 270.4h0M451.2 255.9h0M386.8 257.6h0M463.8 262.7h0"/>
<path stroke="#9233b9" d="M445.4 250.8h0M411.5 262.7h0M453.5 261.0h0M435.8 266.1h0M433.4 258.5h0M411.9 256.8h0M456.0 261.9h0M418.9 251.7h0M439.1 256.8h0M394.2 256.8h0M436.4 250.0h0"/>
<path stroke="#794cce" d="M423.7 251.7h0M427.5 266.1h0M461.9 255.9h0M422.8 263.6h0M390.4 258.5h0M434.6 249.1h0M451.7 263.6h0M404.5 259.3h0M433.2 244.0h0M424.5 255.1h0M398.0 257.6h0M423.1 250.8h0M445.7 264.4h0M441.9 250.8h0"/>
<path stroke="#ff0051" d="M440.5 250.8h0M431.7 266.1h0M456.0 258.5h0M421.3 249.1h0M432.5 245.7h0M456.5 255.9h0M477.5 257.6h0M443.1 250.8h0M411.2 257.6h0M456.5 263.6h0M434.4 256.8h0M417.0 255.1h0M433.1 259.3h0M422.0 251.7h0M418.7 256.8h0M423.5 263.6h0M438.7 254.2h0"/>
<path stroke="#aa17a7" d="M436.7 266.1h0M425.4 264.4h0M430.5 261.0h0M433.5 250.0h0M423.1 248.3h0M427.8 263.6h0M413.3 261.9h0M411.6 254.2h0M415.4 254.2h0"/>
<path stroke="#008bfb" d="M368.3 257.6h0M387.5 257.6h0M407.0 261.0h0M437.3 243.2h0M439.6 262.7h0M396.5 255.9h0M353.2 257.6h0M402.8 255.9h0"/>
<path stroke="#9233b9" d="M421.3 252.5h0M428.5 254.2h0M393.5 258.5h0M444.0 252.5h0M403.7 255.9h0M409.7 257.6h0M416.0 264.4h0M423.9 253.4h0M444.7 261.9h0M435.9 263.6h0M438.5 270.4h0M422.3 255.1h0"/>
<path stroke="#ff0051" d="M435.3 263.6h0M438.8 249.1h0M433.7 261.9h0M501.0 257.6h0M419.4 255.1h0M460.6 260.2h0M404.6 260.2h0M452.3 253.4h0M464.3 256.8h0M427.8 253.4h0M449.5 262.7h0M412.2 261.9h0M448.9 261.0h0M434.2 268.7h0M431.1 270.4h0M427.8 260.2h0M454.8 250.8h0M422.5 259.3h0M445.9 260.2h0M407.4 259.3h0M398.9 255.9h0M430.3 262.7h0M439.0 260.2h0"/>
<path stroke="#ec0078" d="M462.8 258.5h0M452.3 261.9h0"/>
<path stroke="#fa0065" d="M441.3 262.7h0M450.9 251.7h0M407.7 256.8h0M452.4 255.1h0M446.0 259.3h0M414.9 252.5h0M420.4 254.2h0M421.5 264.4h0M422.9 260.2h0M413.2 250.8h0M438.2 258.5h0M444.9 261.0h0M430.7 254.2h0M465.3 255.1h0M441.8 263.6h0M432.6 252.5h0M420.6 253.4h0M454.8 260.2h0M440.6 261.9h0M429.4 255.1h0"/>
<path stroke="#794cce" d="M453.0 254.2h0M411.6 255.9h0M466.0 256.8h0M407.8 258.5h0M449.1 250.0h0M446.5 253.4h0M442.3 261.0h0M394.7 259.3h0M439.8 253.4h0"/>
<path stroke="#aa17a7" d="M424.9 255.9h0M465.8 257.6h0M431.5 262.7h0M415.8 255.1h0M454.3 264.4h0M406.3 261.0h0M463.6 258.5h0M437.1 272.1h0"/>
<path stroke="#008bfb" d="M398.7 260.2h0M429.7 258.5h0M379.9 258.5h0M385.2 257.6h0M344.8 257.6h0M437.6 267.0h0M379.0 258.5h0M419.7 249.1h0M380.7 256.8h0M382.0 257.6h0M373.5 258.5h0M407.2 255.9h0M412.8 257.6h0M370.6 257.6h0M368.0 257.6h0M409.9 260.2h0M448.0 262.7h0M372.0 257.6h0M348.7 257.6h0M421.8 257.6h0"/>
<path stroke="#9233b9" d="M437.9 271.2h0M442.5 255.9h0M409.7 255.9h0M456.1 262.7h0M429.4 249.1h0M446.5 250.0h0M428.6 250.8h0M429.6 250.0h0M392.0 257.6h0M441.8 266.1h0M444.3 266.1h0"/>
<path stroke="#794cce" d="M467.6 259.3h0M429.5 250.8h0M459.2 257.6h0M394.4 260.2h0M401.4 260.2h0M430.4 257.6h0M429.2 268.7h0M443.4 259.3h0M450.2 259.3h0M474.4 255.9h0"/>
<path stroke="#ff0051" d="M448.0 263.6h0M434.8 268.7h0M469.4 255.9h0M454.2 255.1h0M430.3 255.9h0M418.3 264.4h0M457.6 262.7h0M452.5 256.8h0M448.3 259.3h0M442.2 256.8h0M448.0 256.8h0M447.6 253.4h0M428.8 265.2h0M440.4 247.4h0"/>
<path stroke="#aa17a7" d="M442.4 263.6h0M423.5 266.1h0M405.3 254.2h0M439.1 260.2h0M415.0 253.4h0M433.1 247.4h0M423.2 249.1h0M423.1 261.9h0"/>
<path stroke="#fa0065" d="M446.5 254.2h0M417.1 257.6h0M429.4 260.2h0M456.9 261.0h0M413.3 251.7h0M456.9 255.1h0M466.2 258.5h0M431.4 250.0h0M449.5 260.2h0M444.3 263.6h0M432.7 255.9h0M447.1 257.6h0M443.3 268.7h0M424.2 256.8h0M469.8 256.8h0M455.3 261.0h0M439.0 269.5h0M482.7 258.5h0M448.6 260.2h0M415.4 260.2h0M443.8 246.6h0M447.5 261.9h0M427.1 262.7h0M454.8 252.5h0M440.8 265.2h0M454.6 256.8h0M427.5 264.4h0M426.7 258.5h0M431.3 256.8h0M439.9 252.5h0M420.9 263.6h0M437.6 250.8h0M452.8 260.2h0M478.8 256.8h0M436.7 245.7h0"/>
<path stroke="#ec0078" d="M428.7 252.5h0"/>
<path stroke="#008bfb" d="M376.6 257.6h0M429.7 263.6h0M435.9 271.2h0M410.5 261.9h0M404.6 261.9h0M418.4 265.2h0M413.5 262.7h0M383.3 257.6h0M443.4 256.8h0M409.0 256.8h0M419.3 261.9h0M375.1 257.6h0M376.4 258.5h0"/>
<path stroke="#007ef6" d="M355.1 257.6h0"/>
<path stroke="#794cce" d="M412.9 263.6h0M414.6 261.0h0M440.7 246.6h0M395.6 258.5h0M396.0 260.2h0M449.6 256.8h0M425.8 254.2h0M436.6 255.1h0"/>
<path stroke="#ec0078" d="M439.9 258.5h0"/>
<path stroke="#aa17a7" d="M416.1 258.5h0M434.4 245.7h0M435.0 244.9h0M443.9 266.1h0M438.7 264.4h0M417.1 261.0h0M451.2 262.7h0"/>
<path stroke="#fa0065" d="M454.6 255.9h0M446.6 262.7h0M457.9 259.3h0M468.2 259.3h0M470.2 259.3h0M435.3 264.4h0M464.6 261.9h0M426.7 249.1h0M449.9 251.7h0M424.3 250.0h0M424.3 257.6h0M457.8 258.5h0M444.5 248.3h0M438.1 263.6h0M446.0 263.6h0M432.4 261.9h0M402.0 255.1h0M418.2 257.6h0M444.0 253.4h0M430.1 269.5h0M429.8 245.7h0M455.2 253.4h0M465.0 260.2h0M445.6 250.8h0M428.9 262.7h0M437.0 272.9h0M428.3 263.6h0M405.9 260.2h0M437.7 246.6h0M436.1 244.9h0M430.5 253.4h0M419.6 259.3h0M433.1 252.5h0M436.0 260.2h0M433.8 271.2h0M456.1 260.2h0"/>
<path stroke="#008bfb" d="M433.9 272.1h0M397.8 256.8h0M361.9 257.6h0M370.5 258.5h0M349.2 257.6h0M382.9 258.5h0M432.1 260.2h0"/>
<path stroke="#ff0051" d="M411.8 260.2h0M444.9 254.2h0M433.5 262.7h0M465.3 259.3h0M449.9 250.8h0M426.2 252.5h0M416.2 257.6h0M415.8 261.9h0M449.2 254.2h0M444.0 246.6h0M439.8 264.4h0M473.6 257.6h0M460.7 255.9h0M436.8 247.4h0M427.6 261.0h0M436.7 267.8h0M425.4 250.8h0"/>
<path stroke="#9233b9" d="M429.9 267.0h0M406.6 255.1h0M425.2 258.5h0M432.6 267.0h0M435.2 261.0h0M436.2 251.7h0M447.8 257.6h0M417.8 251.7h0M440.1 266.1h0M425.3 267.0h0M474.0 261.0h0M445.0 268.7h0M441.2 267.0h0M396.3 257.6h0M431.6 244.0h0M389.6 257.6h0M432.3 264.4h0"/>
<path stroke="#008bfb" d="M410.5 261.0h0M413.3 252.5h0M431.9 254.2h0M433.9 263.6h0M413.2 255.1h0M391.4 258.5h0M448.9 264.4h0M399.0 255.1h0M404.9 257.6h0M367.2 258.5h0M378.4 257.6h0"/>
<path stroke="#007ef6" d="M375.9 258.5h0M433.5 260.2h0"/>
<path stroke="#9233b9" d="M408.6 255.1h0M444.8 249.1h0M422.9 256.8h0M418.9 253.4h0M419.8 250.0h0M426.2 257.6h0M449.3 261.9h0"/>
<path stroke="#ec0078" d="M434.3 258.5h0M452.4 255.9h0M469.2 258.5h0"/>
<path stroke="#aa17a7" d="M424.1 252.5h0M424.5 260.2h0M433.2 250.8h0M459.1 255.1h0M426.3 250.8h0M385.9 256.8h0"/>
<path stroke="#794cce" d="M409.8 254.2h0M408.2 261.9h0M409.6 259.3h0M420.9 262.7h0M423.2 265.2h0M444.3 259.3h0M408.9 258.5h0M434.4 251.7h0M419.3 262.7h0M425.5 263.6h0M433.4 261.0h0M415.3 251.7h0"/>
<path stroke="#ff0051" d="M440.8 248.3h0M434.2 272.9h0M442.0 249.1h0M470.7 257.6h0M462.2 260.2h0M431.2 271.2h0M431.5 255.1h0M445.6 249.1h0M430.2 265.2h0M440.4 254.2h0M493.5 257.6h0M427.7 261.9h0M474.2 255.1h0M464.5 255.1h0M420.4 261.9h0M417.1 259.3h0M467.4 255.9h0M419.8 258.5h0M503.5 257.6h0M460.1 254.2h0M435.2 255.9h0"/>
<path stroke="#fa0065" d="M443.4 252.5h0M444.8 255.9h0M464.5 261.0h0M431.3 257.6h0M452.0 257.6h0M459.9 255.9h0M440.8 252.5h0M426.8 256.8h0M444.7 265.2h0M463.5 259.3h0M420.9 255.9h0M438.9 266.1h0M442.0 255.1h0M429.6 249.1h0M453.5 262.7h0M413.4 254.2h0M432.7 249.1h0M425.4 250.0h0M481.3 257.6h0M437.2 249.1h0M449.1 255.9h0M462.5 256.8h0M458.3 255.9h0M428.1 259.3h0M476.5 258.5h0M439.8 255.9h0M443.2 248.3h0M440.3 255.1h0M444.6 264.4h0M438.7 255.9h0M464.1 254.2h0"/>
<path stroke="#9233b9" d="M425.1 261.0h0M432.6 256.8h0M433.4 267.8h0M393.5 260.2h0M437.9 244.0h0M408.4 255.1h0M411.1 263.6h0M416.6 254.2h0M443.7 247.4h0M429.8 252.5h0M448.9 255.1h0M432.0 265.2h0M416.6 253.4h0M401.4 261.0h0M413.0 255.9h0"/>
<path stroke="#ec0078" d="M421.9 258.5h0M459.6 256.8h0M450.8 264.4h0M440.4 267.0h0"/>
<path stroke="#ff0051" d="M426.6 253.4h0M431.8 258.5h0M470.4 255.9h0M429.4 255.1h0M463.9 253.4h0M422.8 253.4h0M461.3 258.5h0M391.7 259.3h0M453.8 257.6h0M476.7 256.8h0M438.4 259.3h0M451.8 261.9h0M467.9 255.1h0M442.0 250.0h0M420.8 266.1h0M437.9 248.3h0"/>
<path stroke="#794cce" d="M438.4 250.0h0M428.5 256.8h0M431.6 251.7h0M394.7 258.5h0M456.9 260.2h0M408.5 261.0h0M475.2 258.5h0M433.6 244.9h0M435.8 243.2h0M411.4 253.4h0"/>
<path stroke="#008bfb" d="M444.2 267.0h0M418.8 266.1h0M364.4 257.6h0M410.7 258.5h0M412.2 264.4h0M442.4 255.1h0M419.2 250.8h0M407.5 254.2h0M439.6 261.0h0"/>
<path stroke="#fa0065" d="M430.0 261.9h0M445.5 251.7h0M463.9 257.6h0M415.0 262.7h0M448.6 265.2h0M429.4 264.4h0M452.1 252.5h0M437.2 254.2h0M442.6 261.9h0M478.7 257.6h0M422.4 265.2h0M443.5 257.6h0M458.5 261.0h0M426.5 255.1h0M480.9 258.5h0M437.1 258.5h0M437.5 268.7h0M444.1 260.2h0M435.5 257.6h0M459.1 253.4h0M438.1 247.4h0M419.5 260.2h0M444.8 247.4h0M466.2 261.9h0M444.6 262.7h0M451.6 258.5h0M428.7 266.1h0M454.1 251.7h0M444.0 255.1h0M468.1 258.5h0M444.2 267.8h0M462.9 257.6h0"/>
<path stroke="#aa17a7" d="M428.6 248.3h0M442.8 269.5h0M471.6 257.6h0M450.7 250.8h0M438.3 267.8h0M421.8 254.2h0M448.5 264.4h0"/>
<path stroke="#aa17a7" d="M391.8 296.3h0M418.7 293.8h0"/>
<path stroke="#007ef6" d="M395.5 293.8h0M424.3 299.7h0M411.4 298.9h0M406.0 299.7h0M364.9 298.9h0M383.4 299.7h0M414.3 298.9h0"/>
<path stroke="#9233b9" d="M438.0 291.2h0M382.7 301.4h0M410.0 297.2h0M452.9 295.5h0M444.6 307.4h0M441.7 287.8h0M403.0 304.8h0M467.8 301.4h0"/>
<path stroke="#ff0051" d="M440.0 293.8h0M420.5 300.6h0M439.3 304.8h0M390.4 303.1h0"/>
<path stroke="#fa0065" d="M403.1 302.3h0M436.7 303.1h0M424.1 309.9h0M432.0 284.4h0M427.4 286.1h0M396.1 294.6h0M429.4 299.7h0M452.3 304.0h0M449.2 305.7h0"/>
<path stroke="#794cce" d="M430.3 298.9h0"/>
<path stroke="#008bfb" d="M432.5 303.1h0M469.2 299.7h0M417.4 295.5h0M455.1 304.0h0M398.4 293.8h0M389.7 299.7h0M382.9 298.9h0M464.3 299.7h0M392.5 299.7h0M473.2 298.9h0M431.0 299.7h0M384.3 298.0h0M455.5 303.1h0M451.8 299.7h0M433.3 284.4h0M439.5 307.4h0M416.6 297.2h0M428.7 296.3h0M409.6 305.7h0M470.5 299.7h0M448.4 298.0h0M433.7 293.8h0M394.3 298.9h0M421.1 305.7h0M407.0 299.7h0M430.6 294.6h0M437.9 287.8h0M427.0 287.8h0M408.0 298.9h0M400.9 298.9h0M442.8 307.4h0M422.2 290.4h0M432.4 294.6h0M420.3 292.9h0M429.8 286.1h0M454.2 294.6h0M446.8 302.3h0M410.9 298.9h0M504.0 298.9h0M443.9 304.8h0M461.5 298.0h0M438.9 287.0h0M415.6 295.5h0M362.0 298.9h0M470.6 298.9h0M447.7 293.8h0M433.5 307.4h0M438.3 295.5h0M358.8 298.9h0M412.3 307.4h0M439.7 304.0h0M444.9 305.7h0M405.7 292.9h0M451.1 301.4h0M461.8 301.4h0M447.0 292.1h0M407.1 306.5h0M424.0 299.7h0M416.5 301.4h0M451.6 296.3h0M443.9 302.3h0M458.7 297.2h0M401.1 299.7h0M437.8 293.8h0M409.8 303.1h0M430.6 298.0h0M438.8 292.9h0M438.6 297.2h0M437.3 305.7h0M447.6 295.5h0M426.1 304.8h0"/>
<path stroke="#007ef6" d="M357.4 298.9h0M420.7 290.4h0M419.6 304.8h0M451.9 301.4h0M435.1 285.3h0M445.6 298.9h0M455.9 305.7h0M440.4 309.1h0"/>
<path stroke="#9233b9" d="M447.4 302.3h0M433.7 309.1h0M440.2 305.7h0M436.1 292.9h0M457.8 300.6h0M420.5 299.7h0M432.0 290.4h0"/>
<path stroke="#fa0065" d="M436.9 292.1h0M432.1 292.1h0M425.4 304.0h0M446.3 293.8h0M406.7 292.9h0M417.3 305.7h0M454.9 303.1h0M385.1 301.4h0M412.3 293.8h0M416.5 304.8h0M414.5 296.3h0M417.8 303.1h0M437.3 296.3h0"/>
<path stroke="#794cce" d="M442.9 296.3h0M406.8 303.1h0M398.6 298.9h0"/>
<path stroke="#ff0051" d="M430.7 291.2h0M437.7 300.6h0M405.9 303.1h0"/>
<path stroke="#aa17a7" d="M431.9 309.1h0M449.0 296.3h0M416.8 296.3h0M387.6 301.4h0"/>
<path stroke="#008bfb" d="M484.6 298.9h0M459.0 298.0h0M401.2 303.1h0M435.3 305.7h0M423.2 291.2h0M395.8 301.4h0M453.6 299.7h0M483.6 298.9h0M394.4 300.6h0M422.8 307.4h0M459.4 299.7h0M405.0 301.4h0M428.4 301.4h0M387.9 297.2h0M401.9 295.5h0M410.6 304.0h0M395.7 296.3h0M430.7 308.2h0M445.6 304.0h0M406.9 300.6h0M412.1 303.1h0M382.9 298.0h0M434.7 287.0h0M411.7 292.9h0M434.2 306.5h0M416.2 294.6h0M403.5 297.2h0M386.2 300.6h0M436.8 302.3h0M377.3 300.6h0M430.4 303.1h0M439.4 292.1h0M456.7 304.0h0M438.1 299.7h0M421.3 294.6h0M476.9 298.9h0M454.2 298.0h0M388.1 298.0h0M436.1 291.2h0M391.3 295.5h0M414.5 304.8h0M434.2 303.1h0M432.3 304.8h0M418.4 302.3h0M437.0 295.5h0M397.5 298.0h0M407.8 298.9h0M441.0 292.9h0M436.0 311.6h0M394.0 301.4h0M399.6 301.4h0M446.5 307.4h0M414.4 305.7h0M420.0 305.7h0M437.2 309.9h0M446.2 305.7h0M433.7 296.3h0M447.4 296.3h0M423.9 308.2h0M427.8 288.7h0M435.3 292.9h0M457.3 303.1h0M390.2 302.3h0M420.9 293.8h0"/>
<path stroke="#9233b9" d="M423.0 293.8h0M437.5 289.5h0M464.5 297.2h0M448.5 306.5h0"/>
<path stroke="#007ef6" d="M389.8 297.2h0M413.8 296.3h0M423.3 309.1h0M424.8 290.4h0M463.1 299.7h0M401.6 296.3h0M457.8 298.9h0"/>
<path stroke="#794cce" d="M457.7 296.3h0M447.2 294.6h0M425.9 298.0h0M396.4 299.7h0M446.7 306.5h0M402.7 301.4h0M430.7 301.4h0"/>
<path stroke="#008bfb" d="M409.0 300.6h0M466.9 298.9h0M381.4 300.6h0M432.3 302.3h0M409.1 293.8h0M380.9 302.3h0M381.1 296.3h0M387.3 300.6h0M404.7 297.2h0M380.7 297.2h0M416.3 303.1h0M459.9 301.4h0M428.7 297.2h0M435.3 309.1h0M414.4 291.2h0M452.8 293.8h0M469.7 300.6h0M421.0 293.8h0M418.2 290.4h0M426.2 312.5h0M430.0 304.0h0M418.2 300.6h0M439.9 303.1h0M414.9 302.3h0M438.5 309.9h0M434.2 302.3h0M394.8 298.0h0M461.7 298.0h0M389.6 298.0h0M443.9 291.2h0M438.0 304.0h0M432.0 289.5h0M436.6 306.5h0M409.8 305.7h0M398.5 295.5h0M410.9 293.8h0M441.2 300.6h0M415.6 300.6h0M470.3 298.0h0M400.4 304.8h0M431.7 298.9h0M472.3 299.7h0M425.1 308.2h0M436.2 304.0h0M432.4 294.6h0M410.3 302.3h0M390.2 301.4h0M411.8 297.2h0M466.3 296.3h0M386.1 301.4h0M422.4 297.2h0M402.2 303.1h0M412.1 304.8h0M400.8 298.0h0M441.1 304.0h0M375.1 298.9h0M436.0 304.8h0M380.4 299.7h0M439.5 287.8h0M430.3 288.7h0M436.0 309.1h0M420.9 306.5h0M417.6 291.2h0M432.7 306.5h0"/>
<path stroke="#fa0065" d="M379.5 298.0h0M425.3 302.3h0M457.0 297.2h0M382.1 296.3h0M424.2 304.8h0M427.4 288.7h0M450.3 304.8h0M451.5 303.1h0M398.6 297.2h0M429.7 313.3h0M421.5 298.9h0M404.5 304.0h0M408.8 299.7h0"/>
<path stroke="#aa17a7" d="M446.8 297.2h0M417.2 304.0h0M433.1 292.9h0"/>
<path stroke="#ff0051" d="M412.7 306.5h0M403.3 306.5h0M441.5 307.4h0M419.3 297.2h0"/>
<path stroke="#9233b9" d="M443.3 298.0h0M414.3 294.6h0M411.6 291.2h0"/>
<path stroke="#aa17a7" d="M447.7 292.9h0"/>
<path stroke="#794cce" d="M451.7 298.9h0M421.1 296.3h0M460.8 296.3h0M413.8 302.3h0M429.9 306.5h0"/>
<path stroke="#fa0065" d="M422.7 292.9h0M466.3 299.7h0M444.6 290.4h0M403.7 292.1h0"/>
<path stroke="#ec0078" d="M431.0 293.8h0M434.5 314.2h0"/>
<path stroke="#007ef6" d="M421.3 301.4h0M433.5 291.2h0M444.7 304.0h0"/>
<path stroke="#008bfb" d="M404.0 303.1h0M445.8 298.0h0M409.5 304.8h0M461.4 295.5h0M429.5 309.1h0M417.8 292.1h0M462.2 296.3h0M417.7 292.9h0M446.6 301.4h0M427.6 307.4h0M429.9 300.6h0M449.0 303.1h0M430.1 307.4h0M428.0 286.1h0M429.6 297.2h0M446.3 292.1h0M406.4 302.3h0M457.4 294.6h0M414.0 300.6h0M427.4 308.2h0M442.6 299.7h0M410.4 298.0h0M424.5 293.8h0M455.4 297.2h0M422.0 306.5h0M395.0 302.3h0M426.2 310.8h0M404.6 304.8h0M425.5 305.7h0M441.7 299.7h0M379.7 299.7h0M439.0 299.7h0M438.2 288.7h0M403.2 301.4h0M393.8 296.3h0M419.8 298.9h0M417.9 291.2h0M423.0 303.1h0M426.3 287.0h0M448.0 298.9h0M431.2 291.2h0M427.6 304.8h0M456.6 301.4h0M458.0 295.5h0M420.4 289.5h0M463.3 300.6h0M445.3 294.6h0M379.3 298.9h0M425.3 307.4h0M458.3 302.3h0M424.2 306.5h0M451.8 297.2h0M435.1 294.6h0M399.0 299.7h0M439.0 298.0h0M467.1 298.0h0M449.6 298.0h0M436.4 286.1h0M465.4 298.9h0M427.9 292.9h0M417.8 298.9h0M397.6 299.7h0M392.6 297.2h0M380.4 301.4h0M402.1 300.6h0M434.0 295.5h0M434.5 296.3h0M444.9 298.9h0M392.5 298.9h0M432.5 311.6h0M452.7 298.9h0M436.8 300.6h0M401.0 292.9h0M433.1 289.5h0M442.5 290.4h0M427.3 307.4h0M431.9 310.8h0M414.0 298.0h0M447.0 301.4h0"/>
<path stroke="#ff0051" d="M448.7 299.7h0M419.9 295.5h0M418.4 308.2h0M439.1 291.2h0M454.3 300.6h0"/>
<path stroke="#fa0065" d="M449.1 304.0h0M396.2 304.0h0M460.9 299.7h0M414.1 295.5h0M381.0 298.0h0M452.3 294.6h0M433.8 299.7h0"/>
<path stroke="#794cce" d="M439.7 292.9h0M436.4 294.6h0M448.7 293.8h0M465.0 297.2h0M453.4 302.3h0M399.3 303.1h0M406.9 304.0h0M404.1 293.8h0"/>
<path stroke="#9233b9" d="M409.0 296.3h0M425.6 300.6h0M391.6 297.2h0"/>
<path stroke="#008bfb" d="M405.4 302.3h0M442.4 302.3h0M438.5 294.6h0M397.0 295.5h0M456.0 292.9h0M444.7 292.1h0M449.3 292.1h0M434.4 304.0h0M457.8 301.4h0M421.0 296.3h0M459.9 296.3h0M434.7 290.4h0M445.4 300.6h0M450.6 304.0h0M426.1 306.5h0M448.6 305.7h0M417.1 299.7h0M426.9 309.9h0M422.3 292.1h0M421.8 308.2h0M402.4 294.6h0M463.5 298.0h0M451.4 300.6h0M429.0 305.7h0M433.0 310.8h0M433.6 297.2h0M443.5 303.1h0M420.2 298.0h0M385.4 298.9h0M460.5 301.4h0M422.7 305.7h0M440.7 301.4h0M387.2 299.7h0M398.0 296.3h0M431.7 298.0h0M424.9 303.1h0M447.5 299.7h0M446.3 291.2h0M425.9 290.4h0M443.4 292.9h0M443.6 292.1h0M411.0 300.6h0M423.2 300.6h0M463.5 301.4h0M427.6 304.0h0M444.6 297.2h0M418.6 289.5h0M426.1 305.7h0M383.5 300.6h0M423.2 298.0h0M441.5 294.6h0M461.7 298.9h0M368.9 298.9h0M412.6 299.7h0M387.5 296.3h0M487.0 298.9h0M389.2 295.5h0M420.6 307.4h0M519.4 298.9h0M461.8 297.2h0M446.7 294.6h0M432.6 305.7h0M397.7 302.3h0M420.6 309.1h0M454.5 301.4h0M458.8 298.9h0M438.5 308.2h0M434.9 286.1h0M392.9 298.0h0M435.8 297.2h0M415.2 301.4h0M457.4 304.0h0M432.7 286.1h0M450.1 295.5h0M453.4 300.6h0M424.0 292.1h0"/>
<path stroke="#007ef6" d="M428.4 289.5h0M432.6 298.0h0M402.5 293.8h0M464.5 298.9h0M424.8 298.9h0"/>
<path stroke="#ff0051" d="M441.9 289.5h0"/>
<path stroke="#aa17a7" d="M424.2 298.9h0M423.3 297.2h0"/>
<path stroke="#ff0051" d="M429.2 293.8h0M414.4 308.2h0M426.4 304.0h0M413.5 292.1h0"/>
<path stroke="#fa0065" d="M455.7 295.5h0M430.9 307.4h0M447.2 307.4h0M438.1 301.4h0M469.2 298.9h0M411.6 294.6h0M426.9 291.2h0M434.1 312.5h0M429.1 287.0h0M436.4 288.7h0"/>
<path stroke="#794cce" d="M452.3 304.8h0M444.3 306.5h0M421.5 302.3h0"/>
<path stroke="#aa17a7" d="M439.9 290.4h0"/>
<path stroke="#007ef6" d="M404.8 294.6h0M439.7 300.6h0M411.7 305.7h0M438.8 302.3h0M417.9 296.3h0M398.8 304.0h0"/>
<path stroke="#008bfb" d="M443.9 293.8h0M426.7 303.1h0M406.3 295.5h0M400.3 296.3h0M421.5 303.1h0M438.9 306.5h0M449.1 294.6h0M418.6 298.0h0M427.3 294.6h0M425.0 292.9h0M436.0 299.7h0M373.2 298.9h0M436.9 310.8h0M408.0 295.5h0M428.6 298.9h0M426.4 299.7h0M379.4 300.6h0M418.5 294.6h0M424.4 296.3h0M459.3 300.6h0M413.6 307.4h0M433.2 292.1h0M395.2 295.5h0M415.9 297.2h0M401.9 297.2h0M441.9 304.8h0M449.1 300.6h0M436.3 287.0h0M400.1 300.6h0M445.0 300.6h0M431.7 287.0h0M398.6 304.8h0M430.9 292.9h0M409.9 299.7h0M428.7 290.4h0M451.5 295.5h0M447.2 290.4h0M433.0 314.2h0M423.1 289.5h0M422.1 292.9h0M464.1 300.6h0M397.3 297.2h0M430.5 312.5h0M448.1 303.1h0M418.2 304.0h0M432.5 309.9h0M438.5 309.1h0M419.9 291.2h0M439.7 302.3h0M456.6 298.9h0M393.7 302.3h0M451.0 294.6h0M439.9 289.5h0M403.3 298.0h0M433.9 285.3h0M422.1 291.2h0M416.7 298.0h0M420.4 304.0h0M391.0 298.9h0M436.2 305.7h0M378.3 298.0h0M395.9 300.6h0M442.9 298.9h0M450.9 293.8h0M448.6 297.2h0M459.9 302.3h0M427.0 298.9h0M478.0 298.9h0M445.0 303.1h0M427.4 292.1h0M415.3 293.8h0"/>
<path stroke="#9233b9" d="M438.5 310.8h0M438.2 286.1h0M435.8 298.0h0M402.4 298.0h0M428.5 302.3h0M428.3 299.7h0M442.3 300.6h0"/>
<path stroke="#794cce" d="M429.8 292.9h0M463.6 302.3h0"/>
<path stroke="#008bfb" d="M360.0 298.9h0M406.5 301.4h0M428.2 292.1h0M420.6 292.1h0M426.4 285.3h0M391.5 296.3h0M390.2 300.6h0M423.8 301.4h0M498.0 298.9h0M400.3 295.5h0M409.1 295.5h0M433.0 308.2h0M414.2 293.8h0M412.8 301.4h0M453.7 295.5h0M370.3 298.9h0M448.3 304.0h0M461.3 300.6h0M398.7 300.6h0M448.5 291.2h0M404.6 299.7h0M434.4 300.6h0M416.8 300.6h0M415.5 292.9h0M453.9 298.9h0M387.0 298.9h0M433.6 304.0h0M434.8 297.2h0M418.6 292.9h0M399.4 296.3h0M443.3 308.2h0M386.0 298.0h0M456.3 300.6h0M452.4 297.2h0M432.1 313.3h0M406.0 300.6h0M414.2 306.5h0M395.0 297.2h0M434.6 301.4h0M427.6 309.1h0M461.4 298.9h0M420.5 301.4h0M384.9 298.9h0M387.0 302.3h0M430.3 302.3h0M403.5 305.7h0M435.6 291.2h0M404.2 295.5h0M439.7 301.4h0M411.2 301.4h0M426.1 293.8h0M426.0 302.3h0M455.0 297.2h0M414.5 298.0h0M427.9 303.1h0M454.8 302.3h0M431.6 311.6h0M450.0 302.3h0M433.3 301.4h0M427.0 289.5h0M408.1 302.3h0M426.8 300.6h0M436.1 307.4h0M488.1 298.9h0M440.2 309.9h0M444.1 296.3h0M446.4 296.3h0M441.7 296.3h0"/>
<path stroke="#ff0051" d="M424.8 292.1h0M437.0 301.4h0M417.1 306.5h0M385.1 297.2h0M417.8 295.5h0M465.0 302.3h0M429.2 296.3h0"/>
<path stroke="#aa17a7" d="M381.0 298.9h0M378.5 298.9h0M408.0 301.4h0M445.4 290.4h0"/>
<path stroke="#fa0065" d="M446.5 303.1h0M397.2 294.6h0M415.1 305.7h0M408.4 292.9h0M419.9 309.9h0M386.6 296.3h0M397.1 301.4h0M415.5 299.7h0"/>
<path stroke="#9233b9" d="M428.5 291.2h0M401.0 302.3h0M432.2 288.7h0M415.5 304.0h0M430.1 309.9h0"/>
<path stroke="#007ef6" d="M434.2 292.1h0M422.0 304.0h0M446.1 299.7h0M430.8 286.1h0M377.1 299.7h0M455.8 299.7h0M419.6 308.2h0M390.4 294.6h0"/>
<path stroke="#794cce" d="M403.8 294.6h0M439.6 308.2h0M390.7 298.0h0M418.5 301.4h0"/>
<path stroke="#008bfb" d="M444.3 295.5h0M433.8 290.4h0M392.9 302.3h0M397.1 300.6h0M421.8 304.8h0M433.2 312.5h0M464.0 296.3h0M431.4 295.5h0M434.0 287.8h0M410.1 292.9h0M421.6 298.0h0M399.8 298.0h0M456.2 293.8h0M423.7 302.3h0M394.6 299.7h0M405.0 304.8h0M467.5 300.6h0M396.7 304.0h0M389.6 301.4h0M424.6 297.2h0M407.6 296.3h0M436.6 296.3h0M429.6 287.8h0M401.8 292.9h0M411.4 296.3h0M438.1 298.0h0M412.6 295.5h0M436.2 290.4h0M430.9 308.2h0M415.2 303.1h0M442.6 291.2h0M467.9 297.2h0M449.3 301.4h0M456.9 299.7h0M418.7 304.8h0M414.3 299.7h0M413.1 303.1h0M423.0 296.3h0M441.4 308.2h0M362.9 298.9h0M441.8 291.2h0M455.0 296.3h0M428.8 287.8h0M434.5 293.8h0M403.6 296.3h0M420.1 302.3h0M466.3 301.4h0M432.1 285.3h0M389.1 298.9h0M417.5 293.8h0M431.1 306.5h0M428.5 309.9h0M419.4 297.2h0M428.2 310.8h0M400.2 293.8h0M414.5 298.9h0M446.3 308.2h0M430.4 304.8h0M391.8 300.6h0M464.9 300.6h0M434.4 310.8h0M440.3 295.5h0M430.7 295.5h0M411.0 304.8h0M435.6 298.0h0M429.9 287.0h0M435.2 298.9h0M412.8 292.1h0M443.6 304.8h0M385.2 299.7h0M421.7 300.6h0"/>
<path stroke="#007ef6" d="M366.9 298.9h0M434.2 284.4h0M382.0 297.2h0M407.0 298.0h0M425.0 294.6h0M440.7 305.7h0M442.6 304.0h0M442.7 297.2h0"/>
<path stroke="#fa0065" d="M418.1 306.5h0M431.0 296.3h0M442.6 305.7h0M427.2 292.9h0M403.4 298.9h0M433.1 288.7h0M455.4 302.3h0"/>
<path stroke="#aa17a7" d="M429.0 311.6h0M396.3 298.9h0"/>
<path stroke="#ff0051" d="M411.4 302.3h0M394.7 297.2h0M412.4 300.6h0M440.3 298.9h0"/>
<path stroke="#9233b9" d="M432.2 301.4h0M432.3 297.2h0M432.1 312.5h0M391.1 304.0h0M423.2 294.6h0"/>
<path stroke="#ff0051" d="M408.9 298.0h0M441.8 309.9h0M422.2 295.5h0M434.9 289.5h0M432.1 300.6h0M460.3 297.2h0M386.3 297.2h0M401.7 299.7h0"/>
<path stroke="#794cce" d="M439.1 288.7h0M433.7 283.6h0M401.4 294.6h0"/>
<path stroke="#008bfb" d="M425.4 301.4h0M414.4 301.4h0M440.9 297.2h0M456.1 294.6h0M406.2 296.3h0M405.8 298.9h0M438.3 298.9h0M433.2 302.3h0M391.4 299.7h0M466.1 298.0h0M433.4 287.0h0M418.9 299.7h0M433.8 298.9h0M440.8 288.7h0M415.0 292.1h0M438.7 311.6h0M403.0 298.9h0M430.9 303.1h0M471.2 300.6h0M423.5 290.4h0M435.5 288.7h0M413.2 304.8h0M412.7 298.0h0M439.0 296.3h0M441.2 306.5h0M385.9 299.7h0M377.9 299.7h0M395.0 303.1h0M452.3 298.0h0M397.6 293.8h0M406.5 297.2h0M411.3 290.4h0M420.8 288.7h0M458.6 295.5h0M410.7 296.3h0M443.5 295.5h0M443.3 301.4h0M480.4 298.9h0M443.1 293.8h0M442.6 294.6h0M425.9 301.4h0M472.7 298.9h0M434.5 299.7h0M457.2 298.0h0M427.7 306.5h0M407.5 305.7h0M430.7 305.7h0M434.1 309.9h0M441.6 302.3h0M435.2 311.6h0M427.6 294.6h0M422.0 307.4h0M424.5 291.2h0M408.8 297.2h0M437.2 289.5h0M371.9 298.9h0M422.7 288.7h0M431.9 287.8h0M453.0 296.3h0M460.3 302.3h0M431.7 304.0h0M405.4 298.0h0M400.7 297.2h0M421.3 289.5h0M445.2 301.4h0"/>
<path stroke="#fa0065" d="M453.3 299.7h0M444.9 298.0h0M406.7 292.1h0M436.3 298.9h0M440.8 298.9h0M434.4 308.2h0M435.4 313.3h0M448.9 297.2h0M418.1 305.7h0M427.7 295.5h0M427.5 296.3h0"/>
<path stroke="#aa17a7" d="M414.2 304.0h0M433.3 300.6h0"/>
<path stroke="#9233b9" d="M424.2 304.0h0M416.9 292.1h0M450.6 298.0h0M407.3 294.6h0M395.9 298.0h0M405.9 304.0h0M437.3 308.2h0M424.5 295.5h0"/>
<path stroke="#007ef6" d="M423.4 295.5h0M459.8 294.6h0M420.9 303.1h0M435.4 304.8h0"/>
<path stroke="#008bfb" d="M400.8 301.4h0M403.2 302.3h0M424.8 304.8h0M446.4 292.9h0M427.6 308.2h0M427.7 293.8h0M429.4 311.6h0M481.8 298.9h0M441.5 290.4h0M429.4 292.1h0M414.2 290.4h0M385.5 302.3h0M455.2 298.0h0M417.0 302.3h0M410.0 295.5h0M438.2 290.4h0M443.0 306.5h0M441.1 293.8h0M413.2 297.2h0M441.1 295.5h0M429.1 300.6h0M401.3 304.0h0M392.0 301.4h0M448.0 304.8h0M412.2 304.0h0M429.0 298.0h0M427.0 297.2h0M398.0 303.1h0M442.1 309.1h0M399.8 294.6h0M447.6 300.6h0M399.0 302.3h0M409.1 294.6h0M435.9 293.8h0M459.2 303.1h0M475.4 298.9h0M389.7 296.3h0M404.9 293.8h0M389.9 302.3h0M445.7 304.8h0M406.6 293.8h0M468.1 299.7h0M431.5 309.9h0M441.1 310.8h0M456.6 296.3h0M438.6 303.1h0M406.8 304.8h0M434.0 287.8h0M408.2 303.1h0M425.8 298.0h0M417.5 298.9h0M446.7 295.5h0M404.2 300.6h0M433.9 304.8h0M376.0 298.9h0M440.5 297.2h0M420.5 294.6h0M434.4 307.4h0"/>
<path stroke="#ff0051" d="M430.4 310.8h0M427.0 311.6h0M404.7 292.9h0M385.1 300.6h0M438.5 304.8h0M416.1 294.6h0M443.9 299.7h0"/>
<path stroke="#aa17a7" d="M441.9 298.0h0M436.4 287.8h0M439.4 294.6h0"/>
<path stroke="#fa0065" d="M409.8 294.6h0M445.2 292.9h0M440.4 306.5h0M449.6 304.8h0M430.6 290.4h0M426.2 295.5h0M389.3 300.6h0M450.1 292.9h0M438.0 307.4h0M434.4 295.5h0M441.1 303.1h0M450.1 298.9h0M418.3 307.4h0M425.6 289.5h0M437.8 292.1h0"/>
<path stroke="#794cce" d="M431.7 305.7h0M433.2 313.3h0M403.1 304.0h0M408.7 304.0h0M425.7 306.5h0"/>
<path stroke="#9233b9" d="M430.7 289.5h0M452.4 303.1h0M429.4 285.3h0"/>
<path stroke="#007ef6" d="M427.4 309.1h0M468.9 298.0h0M414.2 292.9h0M426.6 313.3h0M397.7 298.9h0M422.3 299.7h0M425.5 309.1h0M456.7 304.8h0M451.4 302.3h0M441.4 292.1h0"/>
<path stroke="#008bfb" d="M415.5 340.2h0M411.9 343.6h0M412.0 347.0h0M391.2 340.2h0M392.0 341.9h0M401.0 341.0h0M420.5 341.0h0M424.5 350.4h0M383.3 338.5h0M396.1 340.2h0M400.1 338.5h0M386.2 337.6h0M393.9 342.7h0M388.9 337.6h0"/>
<path stroke="#ec0078" d="M409.3 343.6h0M432.1 352.9h0"/>
<path stroke="#794cce" d="M425.7 331.7h0M406.0 342.7h0M411.2 348.7h0M413.9 335.1h0M429.4 330.0h0M428.7 336.8h0M377.2 342.7h0M427.8 328.3h0M457.3 342.7h0M418.5 331.7h0M398.3 341.9h0M436.8 354.6h0M428.5 335.1h0M389.0 341.9h0M418.6 342.7h0"/>
<path stroke="#9233b9" d="M399.8 344.4h0M425.1 342.7h0M404.0 339.3h0M407.2 347.0h0M438.1 329.1h0M467.6 341.9h0M397.6 338.5h0M423.7 337.6h0M431.0 353.8h0M475.5 341.0h0M446.4 335.1h0M419.6 350.4h0M436.0 331.7h0M439.9 352.1h0M409.8 342.7h0M381.3 341.0h0M420.2 335.9h0M434.7 346.1h0M400.7 340.2h0"/>
<path stroke="#007ef6" d="M417.6 333.4h0"/>
<path stroke="#ff0051" d="M398.4 335.9h0M483.5 341.9h0M433.5 346.1h0M483.5 339.3h0M432.0 328.3h0M456.3 339.3h0M451.1 343.6h0M444.5 337.6h0M391.0 342.7h0M411.4 342.7h0M443.9 348.7h0M429.7 348.7h0M458.5 341.9h0M492.4 339.3h0M428.3 329.1h0M385.2 340.2h0M422.8 342.7h0M419.2 347.8h0M412.7 337.6h0M439.4 352.9h0M436.7 350.4h0M432.4 330.0h0M466.3 341.0h0M453.3 343.6h0M438.2 344.4h0M434.6 347.0h0"/>
<path stroke="#fa0065" d="M403.2 335.9h0M420.6 335.9h0M474.6 341.0h0M440.8 337.6h0M434.8 335.9h0M439.6 344.4h0M498.2 340.2h0M438.6 339.3h0M436.5 344.4h0M448.1 339.3h0M462.7 341.0h0M476.4 339.3h0M432.7 334.2h0M469.3 339.3h0M445.3 335.1h0M421.3 346.1h0M479.7 341.9h0M431.3 331.7h0M436.8 330.8h0M453.6 339.3h0M494.0 340.2h0M395.6 341.9h0M467.0 342.7h0M439.5 328.3h0M408.0 335.9h0M434.0 339.3h0M472.8 342.7h0M428.0 334.2h0M421.3 344.4h0M443.9 341.0h0M487.2 341.0h0M423.8 333.4h0M421.0 341.9h0M485.3 341.0h0M420.7 343.6h0M450.1 343.6h0M428.7 353.8h0M449.3 337.6h0M442.4 342.7h0M457.3 336.8h0M425.5 346.1h0M471.3 337.6h0M422.7 341.9h0M432.6 333.4h0M423.5 347.8h0"/>
<path stroke="#aa17a7" d="M432.6 347.8h0M424.9 347.8h0M437.1 350.4h0M406.5 335.1h0M470.5 341.0h0M405.1 346.1h0M440.6 333.4h0M398.4 340.2h0M414.6 340.2h0M390.9 335.9h0M432.0 347.0h0M452.1 339.3h0M441.4 330.8h0M405.7 340.2h0M433.4 331.7h0"/>
<path stroke="#ff0051" d="M442.3 341.0h0M471.1 341.0h0M433.0 329.1h0M446.2 344.4h0M443.4 335.1h0M423.0 330.0h0M442.8 335.9h0M430.4 329.1h0M432.4 343.6h0M486.0 340.2h0M432.2 339.3h0M391.7 340.2h0M389.1 338.5h0M479.2 339.3h0M426.5 327.4h0M474.1 338.5h0M452.9 340.2h0M445.1 347.0h0M408.0 347.0h0M445.3 331.7h0M439.2 329.1h0M430.6 326.6h0M423.4 336.8h0M441.4 352.1h0M397.2 340.2h0M478.3 339.3h0"/>
<path stroke="#794cce" d="M419.7 347.8h0M458.6 340.2h0M381.5 340.2h0M381.2 339.3h0M398.5 335.1h0M443.1 337.6h0M412.8 335.9h0M431.6 327.4h0M434.3 349.5h0M447.7 344.4h0M386.7 341.9h0M400.2 339.3h0M399.5 335.1h0M419.5 333.4h0M417.6 343.6h0M417.2 345.3h0M380.5 337.6h0"/>
<path stroke="#9233b9" d="M413.9 344.4h0M391.7 343.6h0M431.1 335.9h0M405.9 341.0h0M375.0 341.9h0M424.9 351.2h0M427.2 348.7h0M431.2 343.6h0M417.9 343.6h0M415.3 344.4h0M421.7 336.8h0M419.4 347.0h0M436.0 333.4h0M434.8 331.7h0M411.4 345.3h0M404.6 337.6h0M405.1 338.5h0M433.0 344.4h0M438.3 342.7h0M478.3 341.9h0"/>
<path stroke="#ec0078" d="M464.9 340.2h0M454.7 342.7h0M486.6 340.2h0M427.7 338.5h0"/>
<path stroke="#007ef6" d="M387.8 341.9h0"/>
<path stroke="#fa0065" d="M429.5 338.5h0M435.4 341.0h0M430.0 335.1h0M467.2 337.6h0M436.9 337.6h0M410.7 334.2h0M401.6 346.1h0M446.6 346.1h0M429.0 348.7h0M469.0 340.2h0M484.3 339.3h0M454.5 342.7h0M425.0 339.3h0M432.1 335.1h0M415.5 347.8h0M467.5 339.3h0M435.5 341.9h0M436.1 330.0h0M461.1 338.5h0M441.3 329.1h0M430.9 344.4h0M427.0 352.1h0M429.1 345.3h0M439.4 330.0h0M385.1 338.5h0M439.4 350.4h0M451.4 346.1h0M458.3 341.9h0M408.5 341.9h0M418.0 341.9h0M424.7 328.3h0M471.6 341.9h0M393.8 341.9h0M493.6 340.2h0M425.7 352.1h0M418.1 334.2h0M439.6 348.7h0M427.9 330.8h0M437.7 332.5h0M435.9 339.3h0M424.3 335.1h0M427.1 344.4h0M439.5 352.9h0M434.8 337.6h0M428.3 351.2h0M427.7 337.6h0M495.3 341.0h0M429.6 345.3h0M434.2 343.6h0M434.8 339.3h0M459.6 343.6h0"/>
<path stroke="#008bfb" d="M408.7 337.6h0M379.8 341.9h0M414.3 336.8h0M384.8 341.0h0M382.4 341.9h0M416.0 347.0h0M415.5 338.5h0M386.9 337.6h0M390.7 337.6h0"/>
<path stroke="#aa17a7" d="M458.2 339.3h0M422.1 344.4h0M412.5 339.3h0M391.1 341.0h0M418.9 335.9h0M444.6 333.4h0M440.6 349.5h0M425.8 335.9h0M407.6 335.9h0"/>
<path stroke="#fa0065" d="M441.7 328.3h0M423.3 335.9h0M432.7 330.8h0M446.2 341.9h0M401.3 343.6h0M424.5 346.1h0M439.2 351.2h0M420.1 339.3h0M425.5 336.8h0M461.7 340.2h0M459.9 338.5h0M446.3 350.4h0M389.4 341.0h0M394.7 339.3h0M458.8 338.5h0M420.8 333.4h0M456.4 341.9h0M410.2 341.9h0M412.0 342.7h0M449.9 338.5h0M428.1 341.0h0M422.7 341.0h0M474.0 339.3h0M435.0 338.5h0M451.5 342.7h0M418.7 347.0h0M409.7 340.2h0M417.2 341.0h0M406.6 340.2h0M422.5 337.6h0M465.8 341.9h0M434.3 333.4h0M436.3 335.1h0M452.9 341.9h0M441.4 335.9h0M431.3 341.9h0M448.4 343.6h0M441.2 347.0h0M452.1 335.1h0M464.3 342.7h0M450.2 341.9h0M412.2 336.8h0M432.2 354.6h0M470.7 339.3h0M444.7 348.7h0M420.5 345.3h0M481.4 340.2h0M440.0 345.3h0M405.4 339.3h0M431.0 350.4h0"/>
<path stroke="#ec0078" d="M433.2 328.3h0M445.8 333.4h0M435.0 327.4h0M431.5 347.8h0M426.4 350.4h0"/>
<path stroke="#794cce" d="M407.5 343.6h0M436.4 325.7h0M372.4 339.3h0M392.4 336.8h0M431.6 346.1h0M454.5 336.8h0M427.7 341.9h0M400.1 335.9h0M413.5 347.0h0M409.8 347.0h0M409.9 346.1h0M484.4 341.0h0M414.3 347.0h0M416.5 334.2h0M444.4 342.7h0M400.0 339.3h0"/>
<path stroke="#008bfb" d="M417.6 337.6h0M396.4 341.0h0M394.2 341.9h0M384.7 343.6h0M419.9 330.8h0M401.7 336.8h0M402.4 335.9h0M394.1 341.0h0M393.8 338.5h0M381.7 337.6h0M388.2 339.3h0M398.5 344.4h0M423.4 346.1h0"/>
<path stroke="#007ef6" d="M433.6 344.4h0"/>
<path stroke="#ff0051" d="M477.3 338.5h0M427.6 351.2h0M475.6 339.3h0M440.0 351.2h0M372.1 340.2h0M417.9 341.9h0M415.5 346.1h0M421.7 348.7h0M444.7 336.8h0M455.0 337.6h0M488.3 339.3h0M457.3 338.5h0M447.9 340.2h0M446.5 337.6h0M459.7 341.0h0M398.9 345.3h0M433.1 334.2h0M434.6 333.4h0M421.3 330.8h0M434.5 326.6h0M429.7 327.4h0M462.7 340.2h0M394.1 340.2h0M435.0 335.1h0M426.3 347.0h0"/>
<path stroke="#aa17a7" d="M434.8 330.0h0M394.9 342.7h0M421.3 338.5h0M426.0 341.0h0M432.9 326.6h0M449.5 344.4h0M429.8 352.9h0M432.1 331.7h0"/>
<path stroke="#9233b9" d="M451.5 341.9h0M435.7 355.5h0M419.8 335.1h0M423.9 329.1h0M412.6 347.8h0M400.8 336.8h0M495.6 340.2h0M418.7 346.1h0M425.3 337.6h0M442.1 334.2h0M420.2 334.2h0M447.5 343.6h0M411.0 346.1h0M375.1 341.0h0M446.9 347.0h0M409.9 337.6h0M443.4 343.6h0M433.2 351.2h0M414.4 343.6h0"/>
<path stroke="#008bfb" d="M399.4 336.8h0M403.1 341.9h0M445.7 334.2h0M393.7 343.6h0M447.5 347.0h0M386.6 342.7h0M417.2 349.5h0M435.0 349.5h0M430.8 338.5h0M377.5 339.3h0M444.0 335.9h0M432.9 355.5h0M404.5 336.8h0M403.6 341.0h0M380.3 338.5h0M400.2 342.7h0M445.3 347.8h0M385.0 339.3h0M394.6 338.5h0"/>
<path stroke="#aa17a7" d="M378.9 343.6h0M405.1 339.3h0M431.6 337.6h0M399.1 341.0h0M419.8 349.5h0M423.3 341.0h0M416.1 333.4h0M404.9 334.2h0M430.4 335.9h0M405.1 344.4h0M443.8 339.3h0M439.1 341.9h0M452.2 342.7h0"/>
<path stroke="#ec0078" d="M408.0 344.4h0"/>
<path stroke="#fa0065" d="M460.9 341.9h0M415.7 339.3h0M450.5 345.3h0M434.0 330.0h0M434.7 351.2h0M389.9 336.8h0M431.2 345.3h0M424.9 336.8h0M422.9 343.6h0M477.5 340.2h0M430.9 328.3h0M456.2 340.2h0M376.4 341.9h0M433.0 332.5h0M430.9 348.7h0M441.9 347.8h0M442.0 333.4h0M426.3 344.4h0M437.0 351.2h0M401.6 340.2h0M444.8 340.2h0M444.7 338.5h0M427.4 332.5h0M463.0 338.5h0M434.2 341.0h0M468.2 338.5h0M405.2 347.8h0M428.9 335.9h0M421.5 340.2h0M437.1 340.2h0M392.5 337.6h0M461.7 342.7h0M443.9 347.0h0M461.8 341.9h0M443.2 330.8h0M444.7 339.3h0M416.8 340.2h0M423.1 335.1h0M483.4 341.0h0M436.0 327.4h0M424.3 341.9h0M457.0 338.5h0M452.7 335.9h0M443.7 350.4h0M430.0 328.3h0M425.8 335.1h0M438.2 347.8h0M439.0 347.0h0"/>
<path stroke="#ff0051" d="M476.2 341.0h0M433.6 345.3h0M428.6 343.6h0M474.6 340.2h0M447.1 333.4h0M422.7 333.4h0M446.1 345.3h0M426.8 336.8h0M437.9 336.8h0M434.0 335.9h0M441.2 350.4h0M422.0 348.7h0M440.0 338.5h0M437.8 330.0h0"/>
<path stroke="#794cce" d="M388.0 342.7h0M417.9 335.1h0M420.0 336.8h0M414.7 335.9h0M385.9 341.0h0M416.8 346.1h0M441.0 349.5h0M431.0 335.1h0M407.4 336.8h0M425.9 328.3h0M402.6 335.1h0M431.2 349.5h0M441.1 338.5h0M443.0 338.5h0M415.8 331.7h0M437.0 331.7h0M379.1 339.3h0"/>
<path stroke="#007ef6" d="M428.8 339.3h0M417.4 332.5h0M437.3 330.8h0M429.9 347.0h0"/>
<path stroke="#9233b9" d="M379.3 342.7h0M426.6 343.6h0M445.8 331.7h0M424.1 339.3h0M401.2 338.5h0M468.7 341.0h0M408.1 336.8h0M442.2 336.8h0M395.4 344.4h0M427.3 339.3h0M439.8 340.2h0M380.6 342.7h0M445.7 346.1h0M375.0 342.7h0M434.5 334.2h0M441.6 342.7h0M395.5 339.3h0M439.5 334.2h0M414.9 346.1h0M425.9 341.9h0M431.8 330.8h0"/>
<path stroke="#ec0078" d="M453.6 340.2h0M443.4 337.6h0"/>
<path stroke="#fa0065" d="M445.8 332.5h0M428.0 335.9h0M436.8 343.6h0M471.7 340.2h0M433.5 347.0h0M451.8 340.2h0M452.6 345.3h0M431.4 347.0h0M417.2 330.8h0M414.7 347.8h0M433.8 352.1h0M443.0 347.0h0M459.3 336.8h0M444.3 332.5h0M438.7 331.7h0M470.1 338.5h0M434.4 344.4h0M455.8 340.2h0M473.3 339.3h0M423.9 351.2h0M424.7 329.1h0M427.2 346.1h0M424.6 332.5h0M423.7 331.7h0M441.5 345.3h0M428.2 330.0h0M394.6 336.8h0M443.4 346.1h0M426.1 342.7h0M418.2 344.4h0M452.4 336.8h0M435.3 330.8h0M422.6 334.2h0M392.7 340.2h0M443.7 349.5h0M444.9 345.3h0M426.3 348.7h0M384.9 342.7h0M462.2 339.3h0M430.1 333.4h0M379.5 341.0h0M446.9 340.2h0"/>
<path stroke="#008bfb" d="M426.5 334.2h0M391.9 341.0h0M423.0 347.8h0M411.5 339.3h0M388.2 343.6h0M377.8 341.9h0M401.2 342.7h0M377.4 339.3h0M444.1 340.2h0M413.5 333.4h0M420.9 349.5h0M416.3 336.8h0M417.2 344.4h0M402.1 338.5h0"/>
<path stroke="#aa17a7" d="M439.2 353.8h0M394.6 343.6h0M406.8 341.9h0M446.1 330.8h0M410.1 335.9h0M412.5 338.5h0M413.7 347.8h0M437.0 342.7h0"/>
<path stroke="#794cce" d="M457.4 341.0h0M395.0 337.6h0M494.9 341.0h0M422.9 335.9h0M426.8 337.6h0M402.3 345.3h0M449.5 334.2h0M431.5 351.2h0M405.7 345.3h0M410.4 337.6h0M418.4 348.7h0M456.4 342.7h0M440.0 339.3h0M429.0 341.9h0M425.2 340.2h0M411.0 347.0h0M439.9 335.1h0"/>
<path stroke="#007ef6" d="M395.6 338.5h0"/>
<path stroke="#ff0051" d="M432.0 348.7h0M439.1 334.2h0M429.8 346.1h0M434.1 348.7h0M392.5 339.3h0M457.3 337.6h0M439.3 337.6h0M453.0 344.4h0M374.9 339.3h0M447.5 345.3h0M434.6 350.4h0M442.8 332.5h0M437.5 333.4h0M470.6 340.2h0M450.9 345.3h0M487.1 339.3h0M378.1 341.0h0M418.4 338.5h0M428.6 342.7h0M464.3 337.6h0M464.2 341.9h0M376.0 338.5h0M427.9 327.4h0M441.1 327.4h0M485.3 339.3h0"/>
<path stroke="#9233b9" d="M399.6 343.6h0M427.6 340.2h0M388.8 341.0h0M418.2 341.0h0M408.2 340.2h0M409.5 344.4h0M383.2 342.7h0M443.8 338.5h0M402.9 336.8h0M429.8 347.8h0M401.3 337.6h0M407.2 342.7h0M402.2 339.3h0M375.1 339.3h0M420.5 339.3h0M404.7 340.2h0M434.8 347.8h0M447.1 341.9h0M429.6 330.8h0M413.9 332.5h0M408.7 332.5h0M436.9 348.7h0M444.5 332.5h0M418.5 345.3h0M386.4 341.0h0M409.9 347.8h0M436.1 341.0h0"/>
<path stroke="#ec0078" d="M440.0 350.4h0M423.3 340.2h0"/>
<path stroke="#9233b9" d="M419.3 343.6h0M407.4 338.5h0M424.4 347.0h0M390.2 338.5h0M436.1 326.6h0M442.8 348.7h0M449.9 340.2h0M414.6 338.5h0M384.6 336.8h0M449.0 345.3h0M440.7 341.0h0M408.9 338.5h0M412.9 335.9h0M453.6 338.5h0M435.4 352.1h0M429.5 342.7h0M424.9 341.0h0M424.9 334.2h0M405.1 342.7h0M411.5 333.4h0M430.3 337.6h0M398.8 337.6h0"/>
<path stroke="#ff0051" d="M406.7 345.3h0M441.9 326.6h0M436.0 336.8h0M471.9 339.3h0M441.1 348.7h0M481.6 341.0h0M444.1 333.4h0M468.3 337.6h0M425.6 347.8h0M478.9 340.2h0M391.2 336.8h0M490.1 340.2h0M429.3 338.5h0"/>
<path stroke="#007ef6" d="M408.6 341.0h0M388.3 340.2h0"/>
<path stroke="#794cce" d="M429.4 334.2h0M446.9 342.7h0M433.4 332.5h0M404.2 335.9h0M443.0 349.5h0M431.6 352.1h0M411.6 341.0h0M418.7 335.1h0M446.6 348.7h0M373.7 341.0h0M405.4 337.6h0M434.4 332.5h0M404.2 333.4h0M419.8 341.0h0M411.4 341.0h0M429.6 336.8h0M394.7 345.3h0M437.2 346.1h0M414.5 342.7h0M417.7 338.5h0M406.4 335.1h0M391.0 341.9h0M422.2 330.0h0"/>
<path stroke="#aa17a7" d="M402.8 337.6h0M423.6 343.6h0M436.7 342.7h0M421.9 338.5h0M383.3 339.3h0M446.7 338.5h0M441.4 340.2h0M437.9 341.9h0M436.5 348.7h0M420.3 330.0h0M425.0 344.4h0M443.1 345.3h0M386.2 339.3h0M474.4 341.9h0M437.8 338.5h0M442.0 344.4h0"/>
<path stroke="#fa0065" d="M449.6 341.0h0M424.9 327.4h0M396.2 343.6h0M432.3 325.7h0M437.5 349.5h0M428.1 346.1h0M428.3 326.6h0M417.0 350.4h0M441.2 335.1h0M431.1 342.7h0M429.5 340.2h0M436.9 345.3h0M467.2 341.9h0M464.1 341.0h0M421.0 347.8h0M420.1 346.1h0M417.0 339.3h0M465.2 339.3h0M438.3 335.1h0M398.0 338.5h0M455.1 338.5h0M429.7 350.4h0M444.4 330.8h0M464.7 338.5h0M449.0 336.8h0M428.6 330.8h0M436.8 347.8h0M437.1 334.2h0M437.5 352.1h0M392.1 344.4h0M428.0 341.0h0M424.9 348.7h0M428.4 352.1h0M420.1 344.4h0M431.6 336.8h0M457.7 340.2h0M439.9 329.1h0"/>
<path stroke="#008bfb" d="M409.2 335.1h0M409.2 333.4h0M378.9 340.2h0M416.8 347.8h0M449.3 339.3h0M422.0 349.5h0M434.3 329.1h0M408.9 347.8h0M436.9 347.0h0M438.8 352.1h0M441.7 354.6h0M387.5 340.2h0M382.6 341.0h0M426.5 351.2h0M425.4 331.7h0M377.2 338.5h0M411.8 345.3h0M384.6 340.2h0M405.8 346.1h0M380.8 341.0h0M426.7 333.4h0"/>
<path stroke="#008bfb" d="M409.3 338.5h0M392.9 341.0h0M421.7 331.7h0M382.3 343.6h0M391.9 342.7h0M394.2 344.4h0M413.4 339.3h0M416.9 336.8h0M384.8 338.5h0M406.2 335.9h0M419.8 342.7h0M436.5 328.3h0M404.8 343.6h0M409.5 339.3h0M408.6 342.7h0"/>
<path stroke="#ff0051" d="M426.8 352.9h0M452.7 337.6h0M480.9 341.0h0M473.3 338.5h0M451.5 341.0h0M449.0 335.1h0M416.7 335.9h0M434.5 336.8h0M426.9 347.0h0M419.7 340.2h0M396.6 339.3h0M411.5 336.8h0M433.8 342.7h0M424.1 342.7h0M400.5 335.9h0M480.0 340.2h0M465.4 341.0h0M445.6 341.0h0M439.5 347.8h0M481.2 339.3h0M417.7 342.7h0M423.0 345.3h0M429.4 349.5h0M434.5 343.6h0M441.5 353.8h0M446.0 334.2h0M442.5 341.9h0"/>
<path stroke="#9233b9" d="M395.2 335.9h0M433.8 338.5h0M435.6 348.7h0M395.8 336.8h0M425.5 353.8h0M406.1 336.8h0M423.2 330.8h0M414.2 337.6h0M413.9 337.6h0M433.0 340.2h0M419.0 330.8h0M434.6 352.9h0M442.0 339.3h0M431.7 340.2h0M450.0 336.8h0M403.0 340.2h0M443.5 334.2h0M416.3 332.5h0M440.5 341.0h0M381.0 341.9h0M432.9 338.5h0M425.2 345.3h0M414.3 335.1h0M432.9 346.1h0M433.1 335.1h0"/>
<path stroke="#aa17a7" d="M447.2 346.1h0M478.9 342.7h0M425.0 343.6h0M408.7 346.1h0M440.9 352.9h0M423.7 344.4h0M421.0 334.2h0M437.7 328.3h0M410.8 335.1h0"/>
<path stroke="#ec0078" d="M428.3 344.4h0"/>
<path stroke="#794cce" d="M443.3 345.3h0M380.5 340.2h0M413.4 336.8h0M436.4 338.5h0M435.4 328.3h0M429.1 337.6h0M428.1 328.3h0M404.4 341.9h0M428.3 331.7h0M404.1 345.3h0M445.9 335.9h0"/>
<path stroke="#007ef6" d="M412.9 341.9h0M437.3 326.6h0"/>
<path stroke="#fa0065" d="M438.1 352.9h0M433.8 330.8h0M453.2 341.0h0M405.6 334.2h0M489.9 340.2h0M445.9 339.3h0M428.1 332.5h0M466.1 340.2h0M448.3 337.6h0M428.5 349.5h0M451.6 336.8h0M441.9 351.2h0M438.7 333.4h0M438.5 340.2h0M378.9 338.5h0M385.1 341.9h0M439.6 337.6h0M378.2 340.2h0M422.7 335.1h0M488.7 340.2h0M459.4 341.0h0M451.4 338.5h0M467.1 339.3h0M419.9 348.7h0M463.9 340.2h0M455.4 341.9h0M421.8 345.3h0M443.2 346.1h0M440.6 347.0h0M451.1 344.4h0M425.2 352.1h0M390.0 342.7h0M424.4 349.5h0M425.0 330.0h0M432.2 336.8h0M433.0 342.7h0M425.3 330.8h0M442.0 335.1h0M391.3 344.4h0M398.6 341.0h0M444.1 336.8h0M432.5 349.5h0M437.1 339.3h0M433.8 336.8h0M435.9 332.5h0M438.8 330.8h0"/>
<path stroke="#ff0051" d="M438.6 332.5h0M437.3 341.0h0M413.3 342.7h0M418.6 339.3h0M431.0 332.5h0M454.0 337.6h0M425.9 339.3h0M441.8 346.1h0M459.7 343.6h0M478.4 342.7h0M416.5 335.1h0M433.0 351.2h0M462.4 339.3h0M436.3 346.1h0M439.0 354.6h0M442.1 331.7h0M427.9 342.7h0M468.7 341.9h0M453.0 338.5h0M440.9 333.4h0M444.6 342.7h0M454.6 341.9h0M458.6 337.6h0M488.2 341.0h0M468.4 342.7h0"/>
<path stroke="#9233b9" d="M423.3 347.0h0M423.7 334.2h0M413.3 340.2h0M433.1 341.9h0M438.6 326.6h0M432.5 327.4h0M491.1 341.0h0M403.5 338.5h0M382.9 337.6h0M448.0 341.0h0M388.7 337.6h0M398.9 336.8h0M435.1 353.8h0M409.9 334.2h0M438.8 346.1h0M379.1 337.6h0M437.7 347.8h0M415.0 341.9h0M449.4 340.2h0M423.6 349.5h0M439.0 345.3h0M416.8 331.7h0M396.6 341.9h0M434.0 352.9h0"/>
<path stroke="#aa17a7" d="M439.8 342.7h0M427.0 350.4h0M416.0 337.6h0M461.8 337.6h0M437.2 335.9h0M394.6 335.9h0M425.1 352.9h0M417.2 347.0h0M437.0 347.0h0M426.2 330.0h0M436.8 337.6h0M427.6 333.4h0M409.7 341.0h0M434.0 340.2h0M431.8 339.3h0"/>
<path stroke="#008bfb" d="M391.9 338.5h0M428.3 340.2h0M410.8 340.2h0M416.6 345.3h0M450.0 337.6h0M389.5 339.3h0M414.2 341.0h0M431.9 337.6h0M426.2 345.3h0M407.5 339.3h0M408.5 343.6h0M385.1 342.7h0"/>
<path stroke="#007ef6" d="M409.8 345.3h0M402.4 341.9h0"/>
<path stroke="#794cce" d="M438.9 338.5h0M426.5 349.5h0M446.7 336.8h0M402.0 344.4h0M438.5 336.8h0M436.2 341.9h0M431.7 334.2h0M443.5 341.9h0M412.0 341.9h0M404.9 341.0h0M432.9 350.4h0M432.4 353.8h0M447.4 335.1h0M434.8 342.7h0"/>
<path stroke="#fa0065" d="M444.3 347.8h0M447.0 341.0h0M439.9 332.5h0M435.7 353.8h0M434.7 329.1h0M441.0 332.5h0M449.3 342.7h0M423.5 332.5h0M406.9 346.1h0M429.0 352.9h0M493.5 341.0h0M430.0 341.0h0M484.5 338.5h0M426.8 353.8h0M459.8 339.3h0M461.7 343.6h0M454.2 341.0h0M406.2 343.6h0M439.8 335.9h0M395.8 342.7h0M438.5 343.6h0M416.8 330.0h0M492.4 340.2h0M429.0 347.8h0M440.3 341.9h0M387.0 339.3h0M447.8 334.2h0M440.6 343.6h0M419.7 345.3h0M461.4 341.0h0M466.4 338.5h0M481.2 341.9h0M465.8 338.5h0M440.2 336.8h0M451.5 337.6h0M468.8 338.5h0M407.7 337.6h0M437.1 327.4h0M449.9 339.3h0M435.9 329.1h0M429.4 353.8h0M422.4 330.8h0M478.5 341.0h0M427.2 334.2h0"/>
<path stroke="#ff0051" d="M396.3 345.3h0M403.5 344.4h0M434.1 337.6h0M410.6 338.5h0M424.7 335.9h0M446.8 347.8h0M443.3 331.7h0M420.1 351.2h0M426.8 349.5h0M445.3 341.9h0M441.0 339.3h0M450.1 335.9h0M427.8 335.1h0M449.2 341.0h0M449.5 346.1h0M434.3 350.4h0M428.2 350.4h0M479.3 338.5h0M467.9 341.0h0M455.9 337.6h0M437.4 343.6h0M462.4 341.9h0"/>
<path stroke="#aa17a7" d="M409.7 336.8h0M414.4 339.3h0M425.9 330.8h0M405.7 344.4h0M395.6 337.6h0M393.1 336.8h0M422.5 339.3h0M426.7 338.5h0M378.4 338.5h0M408.8 335.1h0M400.5 344.4h0M410.8 341.9h0M431.9 341.0h0M447.1 336.8h0M415.2 333.4h0M422.1 347.0h0M396.9 337.6h0"/>
<path stroke="#008bfb" d="M434.0 347.8h0M448.9 341.9h0M384.4 337.6h0M391.0 339.3h0M414.8 345.3h0M401.7 343.6h0M381.7 339.3h0M450.6 342.7h0"/>
<path stroke="#794cce" d="M416.3 341.9h0M411.6 335.1h0M437.1 353.8h0M441.0 336.8h0M383.1 340.2h0M417.5 334.2h0M429.3 354.6h0M430.5 352.1h0M430.0 351.2h0M441.9 341.9h0M423.5 341.9h0M399.9 341.9h0M441.3 344.4h0"/>
<path stroke="#9233b9" d="M426.4 352.9h0M436.4 352.1h0M421.8 331.7h0M401.3 341.9h0M415.7 342.7h0M404.7 347.0h0M399.5 345.3h0M426.0 332.5h0M451.1 339.3h0M413.9 341.0h0M447.3 338.5h0M430.5 344.4h0M417.6 348.7h0M421.5 342.7h0M411.7 333.4h0M416.6 349.5h0M418.4 349.5h0M406.6 341.0h0M382.1 342.7h0M409.0 339.3h0M416.6 344.4h0"/>
<path stroke="#fa0065" d="M414.7 334.2h0M492.4 341.0h0M448.1 347.8h0M420.9 347.0h0M460.4 340.2h0M397.2 342.7h0M475.4 340.2h0M484.8 340.2h0M421.0 337.6h0M426.9 343.6h0M418.7 350.4h0M420.2 341.9h0M473.6 341.0h0M419.6 337.6h0M482.6 340.2h0M470.9 341.9h0M482.2 339.3h0M406.2 341.9h0M411.0 344.4h0M463.9 339.3h0M496.7 340.2h0M441.8 331.7h0M433.7 327.4h0M427.7 347.8h0M439.0 349.5h0M476.7 341.9h0M372.7 341.9h0M446.2 343.6h0M458.1 343.6h0M440.1 330.8h0M472.6 340.2h0M422.2 332.5h0M484.5 341.9h0M438.4 335.9h0M387.2 338.5h0M441.6 330.0h0M444.6 343.6h0M459.9 337.6h0M453.5 343.6h0M434.8 345.3h0M436.7 340.2h0M430.7 333.4h0M455.1 339.3h0M399.8 340.2h0M423.2 350.4h0M428.2 333.4h0M447.1 342.7h0M468.4 340.2h0M437.3 344.4h0M410.4 335.9h0M423.3 338.5h0M458.4 342.7h0M420.4 331.7h0M431.4 352.9h0M442.4 343.6h0"/>
<path stroke="#008bfb" d="M376.6 340.2h0M403.2 342.7h0M419.2 332.5h0M391.2 343.6h0M374.2 340.2h0M382.4 338.5h0M373.3 340.2h0M410.8 332.5h0M382.7 341.9h0M373.6 341.0h0M393.0 344.4h0M388.5 338.5h0M389.5 340.2h0"/>
<path stroke="#aa17a7" d="M408.2 348.7h0M401.6 341.0h0M418.0 336.8h0M371.8 341.0h0M431.3 341.0h0M413.5 345.3h0M430.5 331.7h0M418.7 333.4h0M421.1 332.5h0M402.1 342.7h0M420.1 338.5h0M420.6 335.1h0M426.9 331.7h0M413.7 343.6h0M427.8 330.0h0M430.8 329.1h0M393.3 337.6h0M438.2 341.0h0"/>
<path stroke="#ff0051" d="M424.5 338.5h0M418.9 337.6h0M375.5 340.2h0M451.4 335.9h0M408.1 334.2h0M436.0 352.9h0M472.2 342.7h0M489.3 341.0h0M447.7 332.5h0M443.7 344.4h0M455.3 341.0h0M430.0 332.5h0M440.4 330.0h0M450.4 344.4h0M432.2 341.9h0M435.1 340.2h0M422.4 340.2h0M413.1 346.1h0M408.7 345.3h0M412.6 334.2h0M423.6 348.7h0M456.1 341.0h0M413.3 338.5h0M477.2 340.2h0M472.9 341.9h0M432.7 335.9h0M449.2 335.9h0"/>
<path stroke="#fa0065" d="M458.9 339.3h0M425.9 340.2h0M392.9 339.3h0M426.6 329.1h0M436.7 335.9h0M410.7 347.8h0M438.9 327.4h0M408.4 333.4h0M430.7 330.0h0M443.0 347.8h0M482.4 341.9h0M412.0 346.1h0M387.3 343.6h0M422.0 336.8h0M447.3 335.9h0M438.5 348.7h0M441.6 334.2h0M436.9 351.2h0M422.5 350.4h0M390.0 343.6h0M438.8 328.3h0M427.5 345.3h0M489.4 339.3h0M424.8 333.4h0M479.3 341.0h0M442.9 340.2h0M440.8 343.6h0M465.1 342.7h0M428.8 327.4h0M444.8 335.9h0M448.6 338.5h0M429.8 343.6h0M403.4 343.6h0M407.6 334.2h0M478.1 338.5h0M415.5 335.9h0M398.5 342.7h0M459.7 342.7h0M422.6 346.1h0M427.2 329.1h0M415.4 343.6h0"/>
<path stroke="#9233b9" d="M436.7 349.5h0M445.9 349.5h0M384.7 341.9h0M410.7 343.6h0M376.3 341.0h0M398.4 339.3h0M418.6 340.2h0M428.8 347.0h0M477.2 342.7h0M433.4 353.8h0M430.1 339.3h0M440.2 346.1h0M432.8 345.3h0M432.8 352.1h0M405.1 335.1h0M436.4 334.2h0M386.9 336.8h0M407.2 344.4h0M430.4 341.9h0M401.5 337.6h0M469.6 342.7h0"/>
<path stroke="#794cce" d="M440.4 331.7h0M399.1 337.6h0M471.2 338.5h0M418.7 332.5h0M396.5 341.0h0M416.6 341.0h0M412.5 344.4h0M412.2 340.2h0M397.6 343.6h0M445.1 344.4h0M398.9 343.6h0M437.9 335.1h0M405.6 338.5h0M438.1 345.3h0M416.3 348.7h0M413.5 334.2h0"/>
<path stroke="#ff0051" d="M427.7 372.1h0M426.8 389.1h0M414.6 378.9h0M428.7 387.4h0M424.1 371.2h0M424.8 394.2h0M408.5 383.1h0M428.2 366.1h0M423.3 379.7h0M422.0 376.3h0M399.4 381.4h0M428.7 367.8h0M403.1 381.4h0M432.2 385.7h0M428.8 387.4h0M429.5 382.3h0M424.5 389.9h0M430.0 378.9h0M428.2 372.9h0M429.5 384.0h0M423.6 384.0h0M423.6 378.0h0M422.6 386.5h0M431.0 390.8h0M425.7 372.1h0M413.6 379.7h0M432.8 383.1h0M430.4 385.7h0M427.1 371.2h0M428.6 376.3h0M416.1 382.3h0M425.7 371.2h0M420.2 384.0h0M432.0 379.7h0M428.8 384.8h0M409.0 381.4h0M409.8 380.6h0M429.1 368.7h0M428.5 370.4h0M423.7 380.6h0M426.6 383.1h0"/>
<path stroke="#008bfb" d="M461.7 381.4h0M481.4 381.4h0M444.7 381.4h0M452.9 383.1h0M490.4 382.3h0M477.9 382.3h0M471.7 383.1h0M467.8 379.7h0M451.5 379.7h0M477.7 381.4h0M469.3 383.1h0M461.5 383.1h0M498.2 382.3h0M450.0 383.1h0M447.4 381.4h0M452.7 381.4h0M485.4 381.4h0M470.6 382.3h0M470.2 380.6h0M499.5 380.6h0M491.3 381.4h0M445.2 380.6h0"/>
<path stroke="#008bfb" d="M442.3 381.4h0M462.6 383.1h0M446.5 384.0h0M503.9 382.3h0M499.2 382.3h0M441.8 381.4h0M458.8 380.6h0M485.4 380.6h0M464.3 379.7h0M447.9 380.6h0M467.3 381.4h0M462.8 380.6h0M496.1 382.3h0M457.2 383.1h0M453.6 381.4h0M468.8 382.3h0M462.7 381.4h0M509.2 381.4h0M455.8 381.4h0M458.3 381.4h0M443.8 383.1h0M493.5 382.3h0M475.3 383.1h0M446.3 383.1h0"/>
<path stroke="#ff0051" d="M433.3 378.0h0M407.8 383.1h0M433.2 374.6h0M428.7 384.0h0M424.9 381.4h0M422.0 377.2h0M408.9 380.6h0M399.9 380.6h0M431.2 373.8h0M430.3 375.5h0M425.8 389.9h0M418.3 378.0h0M427.0 386.5h0M403.1 380.6h0M401.4 383.1h0M429.7 369.5h0M421.5 389.1h0M411.3 380.6h0M416.9 380.6h0M417.9 382.3h0M430.0 369.5h0M392.5 381.4h0M413.2 381.4h0M427.4 382.3h0M420.3 379.7h0M423.8 382.3h0M420.2 378.9h0M433.2 389.1h0M423.8 387.4h0M420.7 378.0h0M427.6 378.9h0M431.3 384.0h0M427.7 388.2h0M417.8 378.9h0M411.4 382.3h0M420.8 378.9h0M430.5 382.3h0M411.6 383.1h0M419.3 385.7h0"/>
<path stroke="#ff0051" d="M404.2 382.3h0M432.4 377.2h0M426.9 366.1h0M429.1 373.8h0M431.4 372.9h0M426.5 379.7h0M420.1 386.5h0M426.7 378.9h0M428.1 393.3h0M423.0 378.9h0M420.4 386.5h0M428.8 371.2h0M431.6 386.5h0M426.8 376.3h0M432.1 374.6h0M429.9 388.2h0M403.9 383.1h0M423.9 385.7h0M404.6 380.6h0M422.6 385.7h0M429.2 376.3h0M430.9 384.0h0M429.2 390.8h0M430.1 381.4h0M426.4 368.7h0M432.1 381.4h0M414.6 379.7h0M408.1 382.3h0M394.9 381.4h0M423.4 375.5h0M402.2 382.3h0M401.3 382.3h0M428.8 377.2h0M431.0 393.3h0M424.1 383.1h0M421.5 381.4h0M421.2 387.4h0M431.5 389.1h0M424.7 372.1h0M409.2 379.7h0M422.3 388.2h0M425.0 379.7h0M406.7 380.6h0M418.1 381.4h0"/>
<path stroke="#008bfb" d="M487.2 380.6h0M483.8 382.3h0M438.4 382.3h0M459.9 380.6h0M469.5 384.0h0M441.7 382.3h0M458.5 382.3h0M464.0 380.6h0M473.0 381.4h0M452.2 382.3h0M450.8 383.1h0M485.7 382.3h0M439.8 380.6h0M451.5 382.3h0M481.0 380.6h0M450.3 380.6h0M461.7 382.3h0M472.0 381.4h0M466.6 383.1h0"/>
<path stroke="#008bfb" d="M469.2 381.4h0M465.2 379.7h0M461.0 383.1h0M476.5 381.4h0M454.6 380.6h0M482.7 382.3h0M448.7 381.4h0M438.5 381.4h0M489.4 382.3h0M487.6 382.3h0M456.5 380.6h0M439.9 381.4h0M477.7 380.6h0M477.2 383.1h0M465.6 381.4h0M454.0 381.4h0M462.8 379.7h0M471.1 382.3h0M497.0 380.6h0M453.4 382.3h0M460.9 382.3h0M485.0 382.3h0M467.2 380.6h0"/>
<path stroke="#ff0051" d="M423.8 374.6h0M413.6 382.3h0M429.3 379.7h0M425.0 388.2h0M427.0 393.3h0M431.1 389.1h0M429.6 393.3h0M419.5 379.7h0M425.3 384.8h0M425.8 370.4h0M429.3 375.5h0M425.3 378.0h0M429.6 389.1h0M428.2 385.7h0M431.0 376.3h0M427.6 395.0h0M416.9 379.7h0M427.3 374.6h0M429.4 392.5h0M418.3 377.2h0M428.7 368.7h0M403.8 381.4h0M414.1 383.1h0M418.3 387.4h0M428.1 386.5h0M422.8 384.8h0M422.5 375.5h0M430.1 377.2h0M427.6 377.2h0M419.3 381.4h0M412.9 382.3h0M430.5 391.6h0M417.2 383.1h0M401.6 381.4h0M424.2 386.5h0M429.9 383.1h0M426.2 379.7h0M426.3 367.8h0M432.4 379.7h0"/>
<path stroke="#008bfb" d="M504.9 381.4h0M474.9 380.6h0M474.6 381.4h0M505.9 381.4h0M459.7 383.1h0M449.4 382.3h0M479.7 383.1h0M465.2 383.1h0M444.8 383.1h0M466.3 381.4h0M474.5 383.1h0M443.1 380.6h0M476.4 382.3h0M493.9 382.3h0M441.7 380.6h0M501.6 381.4h0M460.8 380.6h0M483.1 381.4h0M448.0 382.3h0M446.5 380.6h0M457.2 381.4h0M482.1 380.6h0M473.8 381.4h0"/>
<path stroke="#ff0051" d="M428.3 389.1h0M425.3 389.1h0M428.5 392.5h0M416.5 381.4h0M424.9 370.4h0M429.4 389.9h0M427.6 381.4h0M392.6 382.3h0M424.3 392.5h0M423.9 389.1h0M432.4 388.2h0M432.1 387.4h0M430.2 370.4h0M426.5 395.9h0M422.1 384.0h0M417.5 384.8h0M430.5 386.5h0M420.7 384.0h0M406.1 382.3h0M419.8 383.1h0M419.7 384.8h0M432.4 375.5h0M426.8 375.5h0M399.9 381.4h0M426.9 369.5h0M417.6 381.4h0M431.9 375.5h0M400.1 382.3h0M398.4 381.4h0M404.7 382.3h0M429.8 385.7h0M431.7 380.6h0M392.6 381.4h0M415.5 379.7h0M424.6 375.5h0M425.1 393.3h0M422.8 372.9h0M405.7 381.4h0M425.8 382.3h0"/>
<path stroke="#008bfb" d="M455.7 383.1h0M438.3 380.6h0M450.2 384.0h0M452.7 380.6h0M459.7 381.4h0M449.4 381.4h0M456.1 379.7h0M469.7 383.1h0M457.9 383.1h0M480.8 382.3h0M473.4 382.3h0M442.8 382.3h0M468.7 380.6h0M475.8 383.1h0M488.5 383.1h0M445.3 379.7h0M459.7 382.3h0M456.1 384.0h0"/>
<path stroke="#ff0051" d="M423.2 390.8h0M399.3 382.3h0M396.3 382.3h0M432.4 376.3h0M425.5 376.3h0M427.3 390.8h0M429.9 380.6h0M396.0 382.3h0M421.7 378.9h0M427.5 396.7h0M426.7 372.1h0M426.5 396.7h0M430.9 372.9h0M418.2 380.6h0M427.8 383.1h0M430.4 388.2h0M422.9 373.8h0M431.9 382.3h0M421.8 381.4h0M427.0 373.8h0M431.7 388.2h0M421.1 382.3h0M432.1 378.0h0M429.1 395.0h0M424.7 374.6h0M415.3 380.6h0M427.3 367.0h0M428.8 381.4h0M418.0 384.8h0M417.3 384.0h0M422.5 379.7h0M431.2 383.1h0M427.0 372.9h0M412.0 381.4h0M429.6 391.6h0M426.8 389.9h0M431.2 377.2h0M425.2 390.8h0M433.3 384.0h0M421.4 377.2h0M425.2 368.7h0M425.5 394.2h0M428.0 374.6h0M406.1 381.4h0"/>
<path stroke="#ff0051" d="M427.6 390.8h0M429.4 378.9h0M408.2 380.6h0M424.0 378.9h0M426.3 377.2h0M428.5 391.6h0M424.6 376.3h0M424.9 384.0h0M423.5 376.3h0M430.2 371.2h0M427.3 378.0h0M427.1 384.0h0M421.2 376.3h0M426.1 391.6h0M421.2 383.1h0M430.3 373.8h0M430.2 379.7h0M431.9 389.9h0M418.0 378.9h0M425.2 388.2h0M432.9 385.7h0M424.2 382.3h0M425.3 392.5h0M422.4 380.6h0M426.1 381.4h0M428.5 382.3h0M428.0 395.9h0M425.7 369.5h0M397.8 382.3h0M419.7 377.2h0M425.9 372.9h0M430.5 378.0h0M421.5 387.4h0M424.1 372.9h0M425.1 369.5h0M423.1 388.2h0M418.4 379.7h0M418.8 385.7h0M426.1 375.5h0M424.2 390.8h0"/>
<path stroke="#008bfb" d="M460.8 381.4h0M464.1 383.1h0M465.8 382.3h0M510.7 381.4h0M444.0 381.4h0M447.2 383.1h0M492.7 381.4h0M450.8 380.6h0M480.3 380.6h0M457.0 382.3h0M441.1 383.1h0M488.7 382.3h0M462.1 380.6h0M507.4 382.3h0M475.0 382.3h0M479.2 382.3h0M467.3 382.3h0M447.9 382.3h0M504.5 381.4h0M455.5 380.6h0M437.7 382.3h0M479.3 380.6h0"/>
<path stroke="#008bfb" d="M491.4 382.3h0M471.7 380.6h0M448.3 380.6h0M500.2 381.4h0M449.6 379.7h0M485.2 381.4h0M443.9 382.3h0M489.4 381.4h0M462.7 382.3h0M438.4 380.6h0M455.8 382.3h0M489.8 380.6h0M444.8 382.3h0M493.3 380.6h0M488.0 380.6h0M498.3 381.4h0M476.1 380.6h0M499.9 382.3h0"/>
<path stroke="#ff0051" d="M423.6 381.4h0M430.3 372.1h0M404.8 380.6h0M419.1 384.0h0M394.9 382.3h0M411.1 381.4h0M414.6 384.0h0M425.2 378.9h0M425.6 374.6h0M430.4 387.4h0M432.5 386.5h0M426.2 380.6h0M424.7 387.4h0M433.4 378.9h0M429.6 372.1h0M432.5 382.3h0M430.6 374.6h0M432.1 376.3h0M423.5 385.7h0M431.7 378.9h0M428.7 378.0h0M432.9 384.8h0M427.1 370.4h0M419.8 382.3h0M424.5 384.8h0M427.3 381.4h0M427.1 385.7h0M428.6 394.2h0M418.1 382.3h0M423.1 386.5h0M428.1 380.6h0M423.4 377.2h0M427.7 375.5h0M429.1 383.1h0M424.5 395.0h0M431.6 372.1h0M424.8 373.8h0M421.6 383.1h0M430.4 384.8h0M431.8 392.5h0M427.0 394.2h0M430.1 389.9h0M430.1 392.5h0M416.5 383.1h0"/>
<path stroke="#ff0051" d="M424.5 368.7h0M429.8 386.5h0M413.2 384.0h0M431.4 371.2h0M426.5 387.4h0M429.9 378.0h0M407.9 381.4h0M426.2 384.0h0M424.6 378.0h0M429.7 380.6h0M414.1 380.6h0M426.7 377.2h0M427.9 369.5h0M426.9 384.8h0M427.0 380.6h0M432.8 387.4h0M431.2 390.8h0M390.8 381.4h0M422.6 382.3h0M427.1 388.2h0M432.1 384.8h0M419.1 376.3h0M422.5 374.6h0M427.6 384.8h0M401.0 380.6h0M427.5 392.5h0M432.7 381.4h0M426.2 387.4h0M419.9 378.0h0M421.9 378.0h0M421.7 384.8h0M420.4 384.8h0M414.4 382.3h0M424.6 391.6h0M428.9 370.4h0"/>
<path stroke="#008bfb" d="M437.6 383.1h0M444.1 380.6h0M446.8 381.4h0M484.2 383.1h0M467.2 382.3h0M460.6 379.7h0M502.8 382.3h0M495.9 381.4h0M460.2 384.0h0M454.6 382.3h0M464.0 382.3h0M439.7 382.3h0M440.4 383.1h0M502.0 382.3h0M499.1 381.4h0M481.7 383.1h0M506.1 382.3h0M446.2 379.7h0M472.1 380.6h0M445.9 382.3h0M478.8 381.4h0M438.0 381.4h0M486.6 381.4h0M505.4 382.3h0M488.7 381.4h0M455.1 383.1h0M496.3 382.3h0"/>
<path stroke="#008bfb" d="M503.0 381.4h0M464.3 381.4h0M493.9 381.4h0M508.2 381.4h0M453.2 380.6h0M497.2 381.4h0M451.4 381.4h0M465.5 380.6h0M468.9 379.7h0M467.6 383.1h0M472.3 382.3h0M470.3 381.4h0M451.9 383.1h0M480.2 382.3h0M510.5 381.4h0M492.0 381.4h0M468.2 380.6h0M482.7 381.4h0M483.9 380.6h0M480.2 381.4h0M440.3 379.7h0M484.5 380.6h0M474.0 380.6h0"/>
<path stroke="#ff0051" d="M414.6 381.4h0M423.9 389.1h0M396.8 381.4h0M424.3 393.3h0M419.7 380.6h0M396.5 380.6h0M418.1 386.5h0M426.5 395.0h0M418.5 383.1h0M427.9 367.0h0M423.4 389.9h0M421.5 380.6h0M428.5 373.8h0M429.7 394.2h0M428.9 374.6h0M420.2 376.3h0M426.1 373.8h0M423.5 383.1h0M426.6 391.6h0M431.8 391.6h0M416.3 380.6h0M428.2 379.7h0M408.6 382.3h0M410.6 381.4h0M432.3 380.6h0M425.7 386.5h0M424.2 377.2h0M428.2 389.9h0M420.6 385.7h0M422.2 373.8h0M425.3 385.7h0M425.6 383.1h0M395.0 381.4h0M424.4 380.6h0M411.8 380.6h0M427.6 371.2h0M410.1 382.3h0M415.1 383.1h0M429.7 372.9h0"/>
<path stroke="#ff0051" d="M438.0 424.4h0M439.9 424.4h0M440.9 419.3h0M442.7 425.3h0M439.7 422.7h0M439.5 421.0h0M439.3 436.3h0M451.5 424.4h0M452.0 423.6h0M438.2 427.8h0M441.5 414.2h0M441.2 423.6h0M447.3 423.6h0M443.9 420.2h0M442.6 413.4h0M438.2 410.8h0M449.4 422.7h0M439.0 436.3h0M437.8 416.8h0M437.7 426.1h0M442.9 413.4h0M440.9 414.2h0M441.8 415.1h0M439.6 419.3h0M441.9 414.2h0M439.0 417.6h0M439.9 435.5h0M446.8 423.6h0M442.9 431.2h0M440.0 418.5h0M439.8 410.0h0M437.4 425.3h0M438.6 434.6h0M436.7 427.8h0M439.2 421.9h0M441.3 411.7h0M445.7 424.4h0M441.0 432.1h0M440.1 426.1h0M442.7 423.6h0M453.8 422.7h0M439.3 433.8h0M440.5 425.3h0M444.6 418.5h0M443.7 424.4h0M444.8 425.3h0M438.0 409.1h0M438.3 414.2h0M440.6 427.0h0M440.7 432.1h0M439.7 431.2h0M444.8 423.6h0M437.3 427.0h0M437.3 438.0h0M449.3 422.7h0M438.9 434.6h0M438.0 432.1h0M438.7 422.7h0M440.4 432.9h0M438.7 408.3h0M436.6 408.3h0M438.2 425.3h0M440.2 411.7h0M443.1 423.6h0M444.3 421.0h0M440.2 415.9h0M437.5 431.2h0"/>
<path stroke="#008bfb" d="M430.4 417.6h0M416.9 421.0h0M425.3 425.3h0M426.9 416.8h0M417.6 423.6h0M418.3 424.4h0M430.0 414.2h0M431.7 410.8h0M426.3 419.3h0M418.3 419.3h0M418.6 421.0h0M429.0 416.8h0M421.9 427.8h0M427.8 424.4h0M432.1 423.6h0M426.8 415.1h0M431.7 427.0h0M422.5 416.8h0M429.4 415.9h0M425.0 421.9h0M422.7 428.7h0M428.3 416.8h0M416.4 423.6h0M431.1 419.3h0M429.5 418.5h0M427.3 419.3h0M421.6 427.8h0M427.9 427.8h0M424.2 421.9h0M431.4 427.0h0M426.0 425.3h0M421.7 424.4h0M422.2 422.7h0M428.2 432.1h0M424.9 426.1h0M431.7 414.2h0M425.1 416.8h0M430.7 420.2h0M431.4 433.8h0M428.3 417.6h0M428.5 431.2h0M425.8 422.7h0M429.7 432.1h0M423.3 424.4h0M418.8 420.2h0M431.7 421.0h0M420.3 419.3h0M421.3 426.1h0M431.3 434.6h0M429.7 428.7h0M428.3 415.1h0M412.1 421.9h0M426.9 432.1h0M417.9 420.2h0M420.0 423.6h0M426.4 414.2h0M431.5 418.5h0M428.0 421.9h0M420.3 421.0h0M430.5 436.3h0M426.3 421.9h0M426.0 427.8h0M426.0 416.8h0M424.1 419.3h0M422.2 420.2h0M429.5 430.4h0M424.5 424.4h0M423.5 428.7h0M430.1 428.7h0M431.3 425.3h0M420.9 427.0h0M425.9 415.1h0M428.6 433.8h0M427.5 430.4h0M427.9 425.3h0M428.9 411.7h0"/>
<path stroke="#ff0051" d="M441.3 421.0h0M445.2 420.2h0M437.2 427.8h0M437.7 432.9h0M438.7 421.9h0M440.6 421.9h0M441.8 421.9h0M440.6 429.5h0M440.3 421.0h0M436.9 422.7h0M438.5 420.2h0M437.6 417.6h0M439.2 420.2h0M447.0 425.3h0M438.2 422.7h0M444.0 417.6h0M444.1 427.0h0M437.4 413.4h0M439.9 412.5h0M440.1 424.4h0M441.4 426.1h0M440.8 432.9h0M436.8 414.2h0M445.4 426.1h0M442.0 432.1h0M450.9 421.9h0M442.4 425.3h0M437.9 426.1h0M444.5 419.3h0M443.4 417.6h0M436.7 437.2h0M440.7 433.8h0M445.2 422.7h0M443.7 427.0h0M438.3 419.3h0M443.9 418.5h0M439.5 422.7h0M439.9 414.2h0M439.8 415.9h0M436.8 425.3h0M440.4 415.1h0M436.7 430.4h0M437.1 432.1h0M439.0 410.0h0M443.3 424.4h0M436.8 436.3h0M440.7 421.0h0M441.7 430.4h0M439.5 413.4h0M442.4 429.5h0M448.7 422.7h0M438.1 412.5h0M453.4 422.7h0M437.5 426.1h0M438.0 431.2h0M447.9 422.7h0M437.2 410.8h0M447.6 420.2h0M437.5 409.1h0M446.0 425.3h0M444.4 430.4h0M438.1 414.2h0M442.3 420.2h0M444.5 422.7h0M440.9 432.9h0M446.2 421.9h0M437.1 409.1h0M441.3 416.8h0M442.6 416.8h0"/>
<path stroke="#008bfb" d="M428.9 413.4h0M412.8 422.7h0M415.5 421.9h0M420.6 422.7h0M430.2 423.6h0M426.6 429.5h0M423.7 423.6h0M421.8 420.2h0M430.8 416.8h0M424.5 415.9h0M419.8 419.3h0M426.9 418.5h0M430.6 415.9h0M421.3 425.3h0M427.4 414.2h0M422.0 425.3h0M429.8 436.3h0M430.7 419.3h0M429.4 435.5h0M424.7 422.7h0M419.2 424.4h0M431.3 427.8h0M426.8 425.3h0M428.1 429.5h0M417.3 423.6h0M429.2 425.3h0M423.5 422.7h0M429.3 411.7h0M432.3 426.1h0M424.9 424.4h0M426.4 422.7h0M423.5 427.8h0M430.5 421.0h0M428.6 419.3h0M421.2 425.3h0M429.8 425.3h0M415.2 421.0h0M430.0 412.5h0M430.2 411.7h0M427.0 428.7h0M419.6 425.3h0M429.1 430.4h0M421.6 426.1h0M430.2 410.0h0M419.5 421.9h0M420.0 426.1h0M426.4 415.9h0M425.3 419.3h0M429.4 412.5h0M431.1 425.3h0M432.1 420.2h0M431.8 412.5h0M426.7 421.9h0M427.3 426.1h0M423.8 424.4h0M430.4 431.2h0M422.7 425.3h0M428.8 424.4h0M430.7 429.5h0M420.4 427.8h0M426.8 430.4h0M427.6 417.6h0M426.3 421.0h0M415.0 421.9h0M430.1 429.5h0M423.3 422.7h0M416.0 422.7h0M421.3 424.4h0M412.6 421.9h0M430.2 434.6h0M429.3 432.9h0M429.4 415.9h0M416.9 422.7h0M418.4 420.2h0"/>
<path stroke="#008bfb" d="M417.7 422.7h0M422.0 419.3h0M419.5 425.3h0M424.7 421.9h0M421.0 427.8h0M421.2 422.7h0M420.3 426.1h0M419.6 419.3h0M429.0 426.1h0M431.8 435.5h0M421.3 417.6h0M413.3 422.7h0M417.3 421.9h0M432.0 421.0h0M427.7 420.2h0M432.3 425.3h0M427.9 414.2h0M424.9 415.9h0M430.9 413.4h0M424.1 425.3h0M430.4 426.1h0M427.2 420.2h0M426.8 417.6h0M430.6 409.1h0M423.9 422.7h0M428.8 412.5h0M428.0 413.4h0M420.7 426.1h0M431.8 431.2h0M423.9 416.8h0M430.7 421.9h0M430.0 422.7h0M430.9 426.1h0M428.7 415.9h0M431.9 425.3h0M431.8 429.5h0M414.9 423.6h0M413.5 421.9h0M427.0 431.2h0M432.2 427.0h0M425.6 415.9h0M428.0 423.6h0M426.7 415.9h0M428.3 421.9h0M416.4 425.3h0M421.4 421.9h0M427.3 415.9h0M421.0 421.9h0M429.4 431.2h0M418.1 421.9h0M429.8 432.1h0M421.8 416.8h0M426.5 427.8h0M431.4 410.8h0M422.5 417.6h0M432.0 424.4h0M427.5 411.7h0M431.4 418.5h0M426.5 419.3h0M429.0 427.8h0M430.6 411.7h0M428.7 428.7h0M430.9 414.2h0M428.1 423.6h0M416.4 424.4h0M414.7 421.0h0M428.0 415.9h0M423.6 418.5h0M428.6 414.2h0M416.3 421.9h0M430.5 423.6h0M421.2 421.0h0M416.9 425.3h0M431.7 417.6h0"/>
<path stroke="#ff0051" d="M439.4 438.0h0M437.6 429.5h0M445.7 419.3h0M445.0 417.6h0M450.5 423.6h0M439.4 415.9h0M440.8 412.5h0M439.7 415.1h0M446.5 421.0h0M440.4 410.8h0M449.7 423.6h0M437.9 410.8h0M444.8 418.5h0M449.3 421.9h0M445.8 425.3h0M440.9 410.0h0M437.4 422.7h0M436.9 416.8h0M441.3 419.3h0M442.8 421.9h0M439.0 425.3h0M442.7 432.1h0M442.1 428.7h0M441.3 418.5h0M445.7 422.7h0M447.1 424.4h0M442.3 412.5h0M439.2 431.2h0M444.4 429.5h0M439.0 427.0h0M440.6 437.2h0M437.7 424.4h0M438.5 421.0h0M442.4 431.2h0M441.5 411.7h0M440.4 423.6h0M438.7 412.5h0M439.3 426.1h0M438.9 424.4h0M437.5 428.7h0M442.1 419.3h0M439.5 430.4h0M437.2 424.4h0M439.3 435.5h0M438.2 421.0h0M440.0 432.1h0M443.0 427.8h0M440.1 410.0h0M438.1 435.5h0M444.5 421.9h0M438.4 435.5h0M443.7 422.7h0M446.5 426.1h0M442.4 414.2h0M437.6 430.4h0M437.1 414.2h0M439.0 429.5h0M437.4 415.1h0M445.7 427.0h0M443.4 420.2h0M442.0 416.8h0M441.3 430.4h0M437.8 420.2h0M444.5 416.8h0M441.3 427.0h0M439.8 421.0h0M438.6 432.9h0M437.5 419.3h0M443.4 416.8h0"/>
<path stroke="#008bfb" d="M417.1 424.4h0M419.3 421.0h0M423.5 417.6h0M424.2 423.6h0M427.6 418.5h0M414.2 421.9h0M416.6 421.0h0M432.1 414.2h0M425.2 424.4h0M426.7 421.0h0M427.7 420.2h0M418.8 423.6h0M431.9 421.9h0M431.7 419.3h0M431.8 432.9h0M424.9 419.3h0M425.9 427.8h0M431.7 432.1h0M430.1 415.9h0M429.9 427.8h0M431.5 414.2h0M430.8 418.5h0M423.1 426.1h0M424.4 418.5h0M426.2 428.7h0M430.9 424.4h0M419.4 422.7h0M430.0 433.8h0M431.1 411.7h0M429.7 421.9h0M426.8 427.0h0M422.2 419.3h0M429.3 433.8h0M430.6 428.7h0M429.4 423.6h0M413.9 421.9h0M418.9 421.9h0M423.0 423.6h0M427.8 426.1h0M423.9 429.5h0M426.8 426.1h0M426.1 420.2h0M422.2 427.8h0M429.7 413.4h0M429.2 415.1h0M425.7 430.4h0M427.4 429.5h0M429.1 414.2h0M428.0 430.4h0M426.4 424.4h0M428.9 410.8h0M425.1 429.5h0M431.9 410.0h0M430.3 425.3h0M428.6 420.2h0M429.6 426.1h0M432.2 427.8h0M418.6 427.0h0M421.2 423.6h0M427.9 417.6h0M428.2 414.2h0M415.7 423.6h0M430.4 415.1h0M431.4 415.9h0M418.5 422.7h0M429.0 429.5h0M427.5 427.0h0M429.5 411.7h0M429.9 416.8h0M431.9 420.2h0M429.6 416.8h0M431.5 415.1h0M428.9 432.9h0M430.5 413.4h0M426.8 416.8h0M427.3 427.8h0M427.2 425.3h0M421.0 418.5h0M427.1 421.9h0M430.5 418.5h0M430.1 431.2h0M418.4 418.5h0M422.3 421.9h0M428.8 435.5h0M419.1 421.0h0"/>
<path stroke="#ff0051" d="M447.7 425.3h0M441.0 414.2h0M440.7 420.2h0M438.4 419.3h0M441.2 410.8h0M439.4 410.0h0M445.3 418.5h0M437.2 412.5h0M438.1 437.2h0M445.3 419.3h0M438.5 417.6h0M441.1 421.9h0M437.4 419.3h0M442.6 430.4h0M440.9 428.7h0M444.5 417.6h0M441.0 425.3h0M448.1 422.7h0M443.7 420.2h0M443.5 427.8h0M447.6 422.7h0M438.7 415.1h0M442.6 427.0h0M438.7 423.6h0M438.1 415.1h0M437.0 410.0h0M438.3 433.8h0M438.3 432.9h0M446.0 421.0h0M445.4 427.8h0M442.4 423.6h0M440.0 409.1h0M442.0 422.7h0M436.7 424.4h0M444.3 415.9h0M441.4 428.7h0M446.0 426.1h0M439.0 431.2h0M438.8 433.8h0M441.0 417.6h0M442.4 430.4h0M445.1 427.8h0M437.3 418.5h0M437.8 423.6h0M442.0 413.4h0M438.8 421.0h0M449.4 421.9h0M440.9 408.3h0M443.5 425.3h0M442.5 417.6h0M438.7 410.8h0M440.2 432.1h0M440.6 422.7h0M436.9 435.5h0M453.7 423.6h0M443.7 428.7h0M436.7 429.5h0M438.7 430.4h0"/>
<path stroke="#008bfb" d="M428.7 431.2h0M423.2 418.5h0M428.9 422.7h0M422.4 421.0h0M428.8 429.5h0M426.9 430.4h0M422.0 428.7h0M430.4 421.9h0M427.1 421.0h0M423.9 428.7h0M419.0 419.3h0M427.3 424.4h0M423.7 427.0h0M430.7 417.6h0M431.2 417.6h0M417.9 424.4h0M432.1 415.1h0M412.1 422.7h0M426.9 414.2h0M428.4 426.1h0M425.6 417.6h0M420.1 422.7h0M421.1 417.6h0M430.2 421.9h0M431.4 432.1h0M425.5 418.5h0M425.0 418.5h0M422.7 424.4h0M430.7 427.8h0M432.0 432.9h0M427.6 416.8h0M422.7 422.7h0M431.5 432.9h0M422.8 421.9h0M426.4 420.2h0M422.9 420.2h0M426.1 417.6h0M431.7 426.1h0M421.8 422.7h0M430.8 415.9h0M423.1 421.9h0M423.7 421.0h0M421.5 427.0h0M432.1 412.5h0M431.8 430.4h0M430.5 410.8h0M427.2 417.6h0M417.7 419.3h0M430.4 420.2h0M427.7 432.1h0M425.8 423.6h0M420.4 418.5h0M428.2 418.5h0M426.5 418.5h0M424.5 427.0h0M413.3 423.6h0M417.3 425.3h0M427.8 428.7h0M419.9 421.9h0M415.1 423.6h0M425.6 428.7h0M429.1 421.0h0M418.4 426.1h0M430.5 412.5h0M426.3 418.5h0M429.8 425.3h0M425.7 429.5h0M425.9 419.3h0M416.3 422.7h0M422.7 427.8h0M427.9 432.9h0M426.2 432.1h0M420.6 425.3h0M418.0 425.3h0M428.7 416.8h0M422.5 424.4h0"/>
<path stroke="#ff0051" d="M443.9 419.3h0M440.3 420.2h0M439.7 411.7h0M437.7 437.2h0M442.0 429.5h0M436.8 431.2h0M438.3 423.6h0M442.4 415.9h0M444.6 423.6h0M438.0 417.6h0M449.2 423.6h0M443.4 430.4h0M443.0 426.1h0M443.9 423.6h0M436.7 433.8h0M446.1 423.6h0M439.7 428.7h0M440.8 415.1h0M437.9 413.4h0M440.7 434.6h0M441.3 413.4h0M441.5 415.9h0M448.2 421.0h0M439.2 420.2h0M437.6 438.0h0M447.7 421.0h0M446.0 419.3h0M438.5 407.4h0M440.0 425.3h0M440.3 409.1h0M443.3 417.6h0M437.9 423.6h0M445.8 421.9h0M437.1 428.7h0M441.9 423.6h0M437.0 419.3h0M450.0 423.6h0M438.2 415.9h0M436.8 421.9h0M443.2 427.0h0M444.3 421.0h0M441.6 432.9h0M440.2 435.5h0M437.0 409.1h0M442.0 426.1h0M441.2 418.5h0M451.7 422.7h0M442.2 432.1h0M440.5 431.2h0M442.8 412.5h0M440.7 435.5h0M437.4 435.5h0M445.6 420.2h0M447.0 423.6h0M442.6 429.5h0M437.7 415.1h0M441.6 423.6h0M454.2 423.6h0M447.6 424.4h0M437.9 410.0h0M451.5 421.9h0M441.3 431.2h0M442.2 418.5h0M444.7 421.9h0M446.7 420.2h0M447.1 420.2h0M438.4 425.3h0"/>
<path stroke="#ff0051" d="M438.6 418.5h0M442.3 432.9h0M443.0 432.9h0M440.0 427.0h0M439.8 421.9h0M439.5 418.5h0M443.4 416.8h0M437.5 427.0h0M438.2 438.9h0M451.8 423.6h0M447.9 421.9h0M445.7 418.5h0M439.7 423.6h0M448.4 421.9h0M450.3 422.7h0M444.6 427.0h0M452.3 422.7h0M444.1 421.9h0M443.4 423.6h0M440.0 427.8h0M438.9 426.1h0M441.2 434.6h0M453.0 422.7h0M437.9 408.3h0M446.2 424.4h0M437.5 432.1h0M442.7 422.7h0M442.7 427.8h0M437.2 415.9h0M446.6 422.7h0M441.5 429.5h0M453.5 423.6h0M441.3 415.1h0M437.9 418.5h0M442.9 418.5h0M438.5 436.3h0M441.7 418.5h0M444.0 424.4h0M444.4 425.3h0M440.0 430.4h0M441.3 420.2h0M441.1 424.4h0M438.9 428.7h0M442.4 426.1h0M439.1 418.5h0M444.8 419.3h0M438.3 413.4h0M437.0 415.1h0M443.2 415.9h0M438.0 421.9h0M437.2 410.0h0M447.1 426.1h0M440.0 429.5h0M436.7 426.1h0M439.4 429.5h0M444.6 427.8h0M437.8 410.0h0M441.2 431.2h0M443.4 425.3h0M437.3 433.8h0M438.8 432.9h0M438.6 426.1h0M437.2 429.5h0M440.2 417.6h0M441.3 433.8h0M446.8 422.7h0M440.6 415.9h0M441.5 427.8h0M446.1 420.2h0M445.6 421.0h0M438.1 416.8h0M441.1 422.7h0M451.0 423.6h0M440.0 426.1h0M439.3 410.8h0M439.7 410.8h0"/>
<path stroke="#008bfb" d="M422.1 426.1h0M421.0 420.2h0M430.6 429.5h0M430.6 427.0h0M428.0 433.8h0M428.5 424.4h0M431.3 424.4h0M428.2 429.5h0M421.8 423.6h0M426.0 426.1h0M426.9 415.1h0M429.1 420.2h0M422.4 423.6h0M422.7 421.0h0M430.4 422.7h0M429.3 422.7h0M425.8 425.3h0M427.2 423.6h0M422.6 419.3h0M426.9 415.9h0M424.9 425.3h0M429.6 421.0h0M429.0 432.1h0M430.1 424.4h0M423.4 417.6h0M423.2 425.3h0M427.8 415.1h0M423.9 427.0h0M429.7 427.0h0M428.7 425.3h0M415.9 421.9h0M424.9 427.8h0M421.7 421.9h0M420.0 422.7h0M418.9 426.1h0M420.4 423.6h0M429.5 429.5h0M431.0 432.1h0M431.3 430.4h0M424.1 420.2h0M428.2 425.3h0M424.5 423.6h0M430.3 434.6h0M425.2 429.5h0M417.5 424.4h0M425.0 428.7h0M421.4 422.7h0M422.3 426.1h0M416.1 423.6h0M425.7 428.7h0M428.5 430.4h0M428.2 415.9h0M430.0 435.5h0M429.5 417.6h0M426.2 429.5h0M429.9 432.9h0M419.3 427.0h0M427.3 421.0h0M428.2 420.2h0M427.8 412.5h0M420.1 420.2h0M419.0 422.7h0M431.0 428.7h0M432.0 428.7h0M419.3 424.4h0M427.3 432.1h0"/>
<path stroke="#008bfb" d="M425.3 416.8h0M430.1 427.0h0M418.3 427.0h0M428.1 431.2h0M424.5 416.8h0M427.3 413.4h0M419.7 420.2h0M415.1 422.7h0M422.1 415.9h0M419.1 427.0h0M429.5 422.7h0M430.0 410.0h0M431.1 423.6h0M429.2 428.7h0M424.7 421.0h0M427.3 433.8h0M425.8 426.1h0M425.8 424.4h0M417.1 422.7h0M428.8 417.6h0M425.4 421.9h0M417.8 421.9h0M430.2 410.8h0M430.8 431.2h0M427.3 415.1h0M429.8 430.4h0M415.8 421.0h0M431.7 415.9h0M413.8 423.6h0M414.8 424.4h0M415.4 422.7h0M425.5 421.0h0M430.9 422.7h0M429.6 427.8h0M426.1 423.6h0M431.4 429.5h0M424.8 423.6h0M423.7 421.9h0M417.7 425.3h0M423.5 420.2h0M425.0 430.4h0M426.4 415.1h0M423.4 421.0h0M424.3 428.7h0M411.8 422.7h0M429.5 434.6h0M429.5 423.6h0M427.7 418.5h0M426.6 428.7h0M423.8 419.3h0M416.8 421.9h0M425.6 431.2h0M427.5 431.2h0M430.5 432.9h0M431.8 428.7h0M430.0 420.2h0M421.6 418.5h0M431.9 416.8h0M423.5 425.3h0M419.1 425.3h0M424.5 427.8h0M425.2 423.6h0M425.3 415.9h0M424.2 426.1h0M428.4 433.8h0M431.2 422.7h0M431.1 421.0h0M427.7 411.7h0M424.3 430.4h0M427.8 422.7h0M415.7 424.4h0M426.9 429.5h0M432.0 415.9h0M420.6 421.9h0"/>
<path stroke="#ff0051" d="M438.9 422.7h0M441.0 415.9h0M440.5 436.3h0M444.6 426.1h0M442.2 419.3h0M441.0 433.8h0M447.8 420.2h0M442.1 417.6h0M439.3 427.8h0M438.5 438.9h0M444.9 416.8h0M444.6 420.2h0M438.2 420.2h0M438.9 432.1h0M442.0 411.7h0M437.8 421.9h0M437.2 420.2h0M441.2 435.5h0M445.2 427.0h0M452.7 423.6h0M439.7 433.8h0M439.2 419.3h0M445.4 417.6h0M441.0 426.1h0M439.2 434.6h0M439.2 409.1h0M441.1 412.5h0M438.8 410.8h0M437.9 422.7h0M441.9 428.7h0M438.3 427.8h0M438.8 419.3h0M443.1 426.1h0M442.6 428.7h0M450.3 421.9h0M443.4 418.5h0M447.0 421.9h0M438.6 431.2h0M442.0 431.2h0M439.1 414.2h0M446.0 422.7h0M436.7 417.6h0M438.1 407.4h0M443.5 419.3h0M442.8 415.9h0M438.3 434.6h0M445.0 426.1h0M437.3 411.7h0M440.2 428.7h0M437.2 437.2h0M444.9 428.7h0M441.8 432.9h0M444.5 424.4h0M439.8 430.4h0M444.4 428.7h0M444.7 421.0h0M446.5 421.9h0M440.2 437.2h0M448.3 423.6h0M438.6 416.8h0M440.9 421.0h0M437.1 431.2h0M437.3 407.4h0M440.3 413.4h0M443.5 430.4h0M441.3 412.5h0M437.6 434.6h0M439.3 415.1h0"/>
<path stroke="#ff0051" d="M448.8 421.9h0M439.0 421.9h0M442.2 427.8h0M437.6 421.0h0M442.7 415.1h0M439.3 414.2h0M438.6 415.9h0M444.0 426.1h0M439.3 424.4h0M443.2 421.0h0M438.0 411.7h0M438.7 433.8h0M440.8 417.6h0M437.2 438.9h0M438.0 429.5h0M442.6 421.0h0M441.5 424.4h0M439.4 427.0h0M438.9 427.8h0M444.7 420.2h0M440.8 411.7h0M437.5 425.3h0M443.1 419.3h0M442.1 425.3h0M437.6 427.8h0M443.1 422.7h0M443.1 428.7h0M440.1 433.8h0M441.9 424.4h0M440.7 424.4h0M445.4 421.9h0M439.4 408.3h0M441.8 427.8h0M443.0 421.9h0M445.9 423.6h0M444.3 427.8h0M437.2 434.6h0M439.8 417.6h0M439.8 427.0h0M441.3 421.9h0M443.0 429.5h0M439.8 420.2h0M443.5 426.1h0M436.7 432.9h0M442.9 417.6h0M439.9 418.5h0M440.0 414.2h0M447.6 421.0h0M441.0 413.4h0M440.1 422.7h0M436.8 428.7h0M440.7 410.0h0M439.9 416.8h0M447.3 425.3h0M440.6 419.3h0M437.8 408.3h0M440.4 419.3h0M437.3 430.4h0M442.8 414.2h0M439.6 432.9h0M452.4 422.7h0M440.5 413.4h0M438.6 410.0h0M448.2 424.4h0M437.8 412.5h0M438.4 432.1h0M448.9 423.6h0M440.6 427.8h0M440.1 427.8h0"/>
<path stroke="#008bfb" d="M428.9 423.6h0M418.0 422.7h0M420.3 424.4h0M417.6 420.2h0M425.8 421.9h0M424.7 425.3h0M426.8 423.6h0M432.0 421.9h0M425.7 427.0h0M421.1 419.3h0M427.0 427.0h0M428.2 427.8h0M414.8 421.9h0M423.7 426.1h0M424.8 421.0h0M430.8 421.0h0M429.2 418.5h0M424.7 420.2h0M421.7 419.3h0M427.7 421.9h0M418.0 423.6h0M422.7 418.5h0M418.7 421.9h0M423.4 420.2h0M413.2 423.6h0M426.1 413.4h0M426.5 422.7h0M429.8 414.2h0M429.3 419.3h0M423.4 427.0h0M412.2 423.6h0M432.2 430.4h0M425.1 417.6h0M421.7 420.2h0M421.7 427.0h0M418.5 424.4h0M429.8 424.4h0M432.2 431.2h0M415.9 424.4h0M427.6 422.7h0M419.7 424.4h0M423.0 426.1h0M431.3 415.1h0M415.5 421.0h0M429.9 418.5h0M424.1 417.6h0M426.4 431.2h0M431.3 431.2h0M428.7 427.0h0M417.6 426.1h0M424.5 419.3h0M418.1 421.0h0M423.2 427.8h0M429.3 417.6h0M411.8 423.6h0M424.0 427.8h0M429.4 410.8h0M425.3 422.7h0M428.4 412.5h0M413.0 421.9h0M428.9 432.1h0M429.4 434.6h0M425.1 426.1h0M425.3 427.0h0M418.8 419.3h0M417.2 421.0h0M425.8 420.2h0M428.0 427.0h0M421.4 423.6h0M427.6 423.6h0M424.6 417.6h0M425.5 430.4h0M422.4 418.5h0"/>
<path stroke="#008bfb" d="M422.5 428.7h0M423.3 419.3h0M430.5 430.4h0M429.4 413.4h0M428.6 421.9h0M419.6 426.1h0M425.5 427.8h0M422.0 417.6h0M424.1 424.4h0M430.4 432.1h0M432.2 416.8h0M417.0 423.6h0M420.6 424.4h0M431.7 411.7h0M426.0 416.8h0M427.5 425.3h0M428.6 434.6h0M422.2 418.5h0M414.4 424.4h0M414.8 422.7h0M424.3 426.1h0M414.2 423.6h0M420.0 421.0h0M429.7 420.2h0M428.7 421.0h0M430.6 419.3h0M427.3 428.7h0M420.2 425.3h0M425.6 418.5h0M415.1 424.4h0M431.8 434.6h0M425.9 421.0h0M428.2 422.7h0M429.0 431.2h0M432.4 418.5h0M429.1 412.5h0M431.5 426.1h0M432.2 413.4h0M430.2 421.0h0M420.4 428.7h0M418.7 425.3h0M414.3 422.7h0M412.5 423.6h0M428.3 432.9h0M426.8 424.4h0M428.7 418.5h0M431.6 423.6h0M430.5 416.8h0M430.6 414.2h0M431.7 413.4h0M431.3 421.9h0M421.8 421.0h0M428.2 419.3h0M431.7 427.8h0M428.3 413.4h0M427.1 427.8h0M422.8 423.6h0M429.0 427.0h0M424.0 415.9h0M420.8 420.2h0M427.1 419.3h0M432.2 417.6h0M430.6 427.8h0M430.9 430.4h0M429.7 419.3h0M420.1 417.6h0M431.1 416.8h0M431.3 420.2h0M429.9 426.1h0M431.9 419.3h0M431.4 413.4h0M425.0 422.7h0"/>
<path stroke="#ff0051" d="M438.4 411.7h0M439.3 411.7h0M439.3 432.1h0M444.3 415.1h0M439.0 415.9h0M441.2 416.8h0M440.4 416.8h0M442.3 421.0h0M437.2 417.6h0M440.6 409.1h0M438.3 424.4h0M440.3 429.5h0M437.1 432.9h0M437.9 418.5h0M444.1 428.7h0M447.1 421.0h0M441.7 433.8h0M437.6 415.9h0M442.5 415.1h0M436.8 411.7h0M445.5 424.4h0M440.1 423.6h0M440.2 431.2h0M438.7 430.4h0M439.3 423.6h0M441.7 420.2h0M451.1 423.6h0M441.6 425.3h0M452.9 423.6h0M436.7 410.8h0M436.7 415.9h0M440.9 430.4h0M442.0 421.0h0M439.8 434.6h0M437.3 408.3h0M440.5 410.8h0M445.0 422.7h0M443.7 421.0h0M436.7 412.5h0M437.4 421.9h0M443.8 429.5h0M440.4 421.9h0M438.1 427.0h0M446.7 424.4h0M436.9 432.1h0M439.4 437.2h0M437.7 433.8h0M441.2 427.8h0M439.0 413.4h0M442.9 419.3h0M439.3 432.9h0M436.8 420.2h0M437.6 411.7h0M439.0 416.8h0M437.3 421.0h0M438.2 406.6h0M450.7 422.7h0M449.6 424.4h0M442.4 421.9h0M441.7 415.9h0M438.3 438.0h0M450.2 422.7h0M439.2 417.6h0M438.1 428.7h0M439.7 436.3h0M447.8 423.6h0M444.1 422.7h0M438.1 438.0h0M440.3 412.5h0M441.6 417.6h0"/>
<path stroke="#008bfb" d="M421.5 421.0h0M429.9 413.4h0M427.3 426.1h0M413.2 422.7h0M430.4 435.5h0M422.2 427.0h0M427.8 421.0h0M425.3 417.6h0M420.1 421.9h0M420.3 427.0h0M428.7 427.8h0M431.1 428.7h0M417.8 421.0h0M422.1 429.5h0M431.7 424.4h0M432.1 429.5h0M424.0 418.5h0M425.2 420.2h0M426.0 427.0h0M418.7 423.6h0M429.2 424.4h0M429.6 433.8h0M428.7 430.4h0M428.3 428.7h0M432.1 422.7h0M428.7 415.1h0M431.3 412.5h0M429.9 419.3h0M429.0 421.9h0M424.8 427.0h0M424.0 421.0h0M419.6 423.6h0M421.8 424.4h0M424.4 429.5h0M430.7 423.6h0M429.8 417.6h0M427.8 416.8h0M427.9 419.3h0M423.0 427.0h0M426.2 430.4h0M426.9 422.7h0M428.2 427.0h0M430.9 427.0h0M429.7 432.9h0M431.6 422.7h0M420.6 423.6h0M432.3 432.1h0M427.5 432.9h0M430.2 415.1h0M426.8 424.4h0M420.5 421.0h0M418.2 426.1h0M416.8 420.2h0M430.3 424.4h0M427.6 412.5h0M422.7 417.6h0M428.7 426.1h0M430.3 433.8h0M424.9 420.2h0M422.6 425.3h0M423.7 416.8h0M413.8 422.7h0M430.7 415.1h0M429.5 415.1h0M431.6 433.8h0M424.5 430.4h0M428.5 421.0h0M430.8 432.9h0M419.5 420.2h0"/>
<path stroke="#ff0051" d="M441.1 420.2h0M441.7 427.0h0M445.2 421.0h0M444.0 425.3h0M441.1 415.1h0M442.5 416.8h0M437.0 423.6h0M451.3 422.7h0M446.6 425.3h0M442.7 424.4h0M438.0 413.4h0M447.3 421.9h0M438.1 430.4h0M446.1 427.0h0M438.0 436.3h0M439.4 425.3h0M439.3 412.5h0M450.0 424.4h0M444.9 424.4h0M441.3 429.5h0M443.8 421.9h0M441.4 432.1h0M447.8 424.4h0M438.8 412.5h0M437.4 416.8h0M437.3 436.3h0M438.4 428.7h0M442.1 412.5h0M442.6 420.2h0M454.2 422.7h0M448.6 424.4h0M442.2 427.0h0M439.1 435.5h0M436.8 413.4h0M443.6 418.5h0M443.7 415.9h0M442.1 424.4h0M440.1 434.6h0M440.6 426.1h0M440.5 428.7h0M437.7 414.2h0M439.6 416.8h0M436.9 421.0h0M439.0 415.1h0M440.5 418.5h0M440.7 430.4h0M439.7 413.4h0M445.2 425.3h0M438.6 429.5h0M437.0 423.6h0M438.6 409.1h0M439.3 428.7h0M437.0 438.0h0M445.1 427.0h0M441.5 422.7h0M436.8 427.0h0M445.2 423.6h0M442.4 422.7h0M439.8 425.3h0M439.0 411.7h0M437.9 435.5h0M437.7 436.3h0M441.7 427.0h0M440.3 436.3h0M437.0 406.6h0M438.4 437.2h0M450.0 421.9h0M444.9 429.5h0M445.7 426.1h0M436.6 434.6h0M438.6 427.0h0M437.0 418.5h0M440.6 416.8h0"/>
<path stroke="#ff0051" d="M451.6 463.1h0M474.5 464.0h0M452.0 464.9h0M446.3 468.2h0M450.8 465.7h0M450.1 466.6h0M464.3 464.0h0M459.1 464.9h0M463.4 464.9h0M449.9 466.6h0M443.6 464.9h0M447.4 466.6h0M464.1 464.0h0M457.4 464.0h0M455.9 465.7h0M442.8 462.3h0M443.2 463.1h0M440.5 464.9h0M455.6 464.0h0M446.7 461.4h0M452.1 463.1h0M440.6 465.7h0M444.9 464.0h0"/>
<path stroke="#008bfb" d="M432.7 459.8h0M425.6 467.4h0M420.6 464.0h0M425.1 467.4h0M430.7 470.8h0M428.6 471.6h0M432.5 464.9h0M433.2 470.8h0M423.1 463.1h0M417.4 464.0h0M431.3 465.7h0M434.5 458.9h0M428.0 464.0h0M427.7 473.4h0M430.5 463.1h0M432.9 473.4h0M429.1 465.7h0M426.6 466.6h0M434.0 467.4h0M422.9 465.7h0M433.5 467.4h0M427.1 461.4h0M429.2 452.1h0M423.7 466.6h0M431.9 467.4h0M435.2 468.2h0M418.2 464.9h0M428.0 474.2h0M429.8 458.1h0M427.1 469.9h0M430.3 475.9h0M428.5 464.0h0M424.3 464.9h0M424.7 467.4h0M427.8 471.6h0M430.2 473.4h0M429.4 467.4h0M434.5 467.4h0M428.0 457.2h0M425.0 465.7h0M423.5 464.0h0M430.0 466.6h0M420.8 463.1h0M430.7 459.8h0M433.7 468.2h0M426.2 463.1h0"/>
<path stroke="#ff0051" d="M464.1 464.9h0M441.0 464.0h0M451.5 464.0h0M446.6 465.7h0M466.9 464.0h0M468.1 464.0h0M446.2 464.9h0M441.3 463.1h0M451.8 465.7h0M443.1 466.6h0M440.9 462.3h0M447.3 463.1h0M452.2 462.3h0M464.8 464.0h0M452.2 464.0h0M446.5 467.4h0M458.9 464.0h0M461.0 464.0h0M461.9 464.9h0M457.6 464.9h0M448.0 464.9h0M450.6 462.3h0"/>
<path stroke="#008bfb" d="M433.0 455.5h0M432.8 469.9h0M433.7 471.6h0M434.7 469.9h0M427.0 459.8h0M434.0 466.6h0M431.7 456.4h0M429.5 464.9h0M418.9 464.9h0M430.9 456.4h0M422.0 463.1h0M427.5 472.5h0M424.6 463.1h0M429.8 456.4h0M423.5 462.3h0M427.5 468.2h0M429.4 461.4h0M428.8 466.6h0M430.0 467.4h0M423.0 465.7h0M432.3 455.5h0M434.1 463.1h0M427.1 455.5h0M431.9 465.7h0M431.1 455.5h0M421.7 464.9h0M427.9 459.8h0M423.6 463.1h0M431.9 458.9h0M433.9 457.2h0M429.2 451.2h0M429.9 461.4h0M431.9 459.8h0M428.7 463.1h0M435.2 464.0h0M427.0 467.4h0M431.1 472.5h0M428.6 468.2h0M424.9 466.6h0M433.7 461.4h0M429.1 474.2h0M433.4 469.1h0M430.3 465.7h0M434.9 458.9h0M431.6 458.1h0M428.7 458.9h0M431.0 458.1h0"/>
<path stroke="#ff0051" d="M450.8 466.6h0M441.2 463.1h0M454.9 464.9h0M473.6 464.0h0M471.6 464.0h0M442.4 465.7h0M451.9 466.6h0M453.7 464.9h0M457.5 463.1h0M451.1 463.1h0M447.2 462.3h0M450.8 464.9h0M442.1 464.0h0M445.8 464.9h0M444.9 462.3h0M447.9 463.1h0M444.8 461.4h0M447.0 464.9h0M444.6 463.1h0M446.1 466.6h0M452.8 464.0h0M456.4 464.9h0M445.4 462.3h0M449.5 463.1h0M451.2 462.3h0"/>
<path stroke="#008bfb" d="M430.3 464.9h0M433.1 468.2h0M428.0 458.9h0M434.5 468.2h0M433.7 473.4h0M432.6 466.6h0M428.6 464.9h0M433.1 472.5h0M427.5 465.7h0M432.0 453.8h0M429.3 470.8h0M428.2 458.1h0M423.0 464.9h0M428.4 461.4h0M431.2 462.3h0M430.2 452.9h0M430.1 468.2h0M431.8 472.5h0M434.1 465.7h0M432.4 469.1h0M430.0 462.3h0M428.2 454.6h0M431.1 468.2h0M432.1 469.1h0M432.8 454.6h0M427.2 470.8h0M426.9 460.6h0M433.3 458.1h0M427.9 466.6h0M421.1 462.3h0M426.8 469.1h0M419.6 464.0h0M429.2 469.1h0M430.1 477.6h0M429.6 464.0h0M427.6 471.6h0M429.0 464.0h0M429.5 459.8h0M432.0 454.6h0M430.2 476.8h0M427.2 469.9h0M430.1 458.1h0M434.2 456.4h0M430.3 461.4h0"/>
<path stroke="#008bfb" d="M430.6 462.3h0M434.3 464.0h0M434.1 456.4h0M428.5 458.1h0M431.9 473.4h0M424.8 461.4h0M431.5 466.6h0M431.1 475.9h0M425.0 462.3h0M428.9 472.5h0M426.5 464.0h0M433.3 462.3h0M429.5 472.5h0M424.2 460.6h0M432.5 465.7h0M425.6 462.3h0M427.3 456.4h0M429.0 458.1h0M428.7 456.4h0M430.5 464.0h0M431.9 468.2h0M429.5 468.2h0M432.4 472.5h0M427.0 468.2h0M422.7 462.3h0M433.3 473.4h0M434.0 460.6h0M433.4 464.0h0M423.9 464.0h0M434.1 472.5h0M430.7 473.4h0M421.3 465.7h0M429.5 455.5h0M418.7 464.9h0M431.7 452.9h0M424.3 468.2h0M431.2 468.2h0M430.5 475.1h0M431.3 473.4h0M427.2 458.9h0M433.5 461.4h0M420.9 465.7h0M418.6 464.0h0M429.0 462.3h0M427.3 454.6h0M430.2 458.9h0"/>
<path stroke="#ff0051" d="M446.0 463.1h0M447.4 464.0h0M448.8 465.7h0M444.6 461.4h0M450.2 463.1h0M458.0 464.9h0M447.5 465.7h0M449.3 463.1h0M454.6 463.1h0M442.2 462.3h0M455.9 464.9h0M441.5 464.0h0M448.9 462.3h0M446.2 465.7h0M442.7 465.7h0M455.0 464.0h0M442.8 463.1h0M444.6 464.0h0M441.5 465.7h0M475.9 464.0h0M449.9 464.9h0M448.6 463.1h0M455.3 463.1h0"/>
<path stroke="#ff0051" d="M446.3 460.6h0M455.6 462.3h0M448.0 462.3h0M456.3 463.1h0M452.7 463.1h0M448.6 462.3h0M445.2 463.1h0M461.3 463.1h0M453.1 464.0h0M462.6 464.9h0M442.2 463.1h0M461.3 464.0h0M443.8 465.7h0M440.5 463.1h0M443.5 462.3h0M456.3 464.0h0M458.3 464.0h0M444.0 463.1h0M469.0 464.0h0M453.2 463.1h0M448.4 464.9h0M444.4 465.7h0M441.9 466.6h0"/>
<path stroke="#008bfb" d="M430.2 474.2h0M434.9 464.9h0M431.7 459.8h0M431.3 457.2h0M431.3 471.6h0M422.2 464.9h0M429.1 469.9h0M429.3 452.9h0M428.4 469.9h0M427.2 459.8h0M427.0 470.8h0M429.0 468.2h0M434.9 469.1h0M426.5 458.9h0M428.8 469.1h0M431.5 475.9h0M431.7 461.4h0M432.6 468.2h0M429.8 470.8h0M431.3 455.5h0M430.3 451.2h0M433.7 458.1h0M427.9 472.5h0M433.2 457.2h0M433.4 465.7h0M422.7 463.1h0M429.7 473.4h0M432.3 462.3h0M431.6 474.2h0M428.3 475.1h0M427.7 470.8h0M423.8 467.4h0M430.3 455.5h0M434.0 459.8h0M429.9 457.2h0M430.1 456.4h0M429.1 453.8h0M431.2 475.1h0M430.4 449.6h0M434.9 461.4h0M426.5 465.7h0M434.9 459.8h0M432.2 464.0h0M424.5 464.0h0M430.7 463.1h0M425.2 468.2h0"/>
<path stroke="#008bfb" d="M428.1 462.3h0M433.6 469.9h0M432.5 461.4h0M430.1 460.6h0M429.8 476.8h0M430.7 475.1h0M430.8 467.4h0M432.0 458.1h0M434.4 465.7h0M431.3 463.1h0M428.2 469.1h0M427.6 473.4h0M434.2 464.9h0M433.8 455.5h0M426.8 461.4h0M432.3 461.4h0M428.4 459.8h0M430.6 454.6h0M429.2 460.6h0M419.5 464.9h0M432.9 460.6h0M425.0 459.8h0M421.7 464.0h0M430.0 452.1h0M429.8 465.7h0M427.4 466.6h0M429.9 469.1h0M429.8 451.2h0M427.9 460.6h0M431.2 469.1h0M435.2 463.1h0M428.9 464.9h0M429.6 458.9h0M429.7 474.2h0M431.7 467.4h0M432.6 455.5h0M422.9 464.0h0M429.7 469.9h0M422.5 464.9h0M431.2 465.7h0M430.0 454.6h0M430.8 464.0h0M423.9 462.3h0M430.5 472.5h0M431.8 463.1h0M422.3 464.0h0M435.0 465.7h0M431.2 452.1h0M426.8 463.1h0M431.2 464.0h0M432.6 470.8h0M434.7 459.8h0"/>
<path stroke="#ff0051" d="M443.0 465.7h0M455.2 465.7h0M447.6 464.9h0M475.2 464.0h0M449.2 464.0h0M452.9 465.7h0M451.7 466.6h0M449.0 464.9h0M462.3 464.0h0M453.9 464.0h0M447.0 463.1h0M445.2 465.7h0M461.2 464.9h0M443.2 464.0h0M451.1 464.0h0M445.8 465.7h0M447.7 464.0h0"/>
<path stroke="#ff0051" d="M456.6 463.1h0M460.4 463.1h0M447.0 466.6h0M462.9 464.0h0M443.9 464.0h0M450.6 464.9h0M443.3 464.9h0M443.9 461.4h0M469.7 464.0h0M448.7 464.0h0M449.6 462.3h0M450.1 464.0h0M470.3 464.0h0M452.6 462.3h0M444.4 466.6h0M445.9 463.1h0M443.8 466.6h0M476.0 464.0h0M472.1 464.0h0M458.2 463.1h0M453.2 464.9h0M453.7 465.7h0M463.0 464.0h0M467.2 464.0h0M445.9 464.0h0"/>
<path stroke="#008bfb" d="M428.6 473.4h0M426.8 458.1h0M432.5 456.4h0M432.4 467.4h0M429.3 466.6h0M432.3 460.6h0M419.3 463.1h0M431.7 470.8h0M425.4 459.8h0M428.2 456.4h0M424.1 462.3h0M432.4 462.3h0M430.9 454.6h0M420.3 464.9h0M429.4 475.1h0M424.3 465.7h0M432.5 458.1h0M429.0 459.8h0M434.5 470.8h0M429.3 454.6h0M430.9 452.1h0M428.2 455.5h0M425.5 461.4h0M431.3 458.9h0M430.0 466.6h0M431.0 452.9h0M427.5 458.1h0M427.4 464.0h0M425.9 460.6h0M425.4 466.6h0M431.0 476.8h0M422.2 462.3h0M428.4 462.3h0M429.7 463.1h0M429.6 460.6h0M433.5 471.6h0M430.4 450.4h0M428.1 469.9h0M433.8 469.1h0M428.7 457.2h0M417.8 464.0h0M423.8 464.9h0M425.4 468.2h0"/>
<path stroke="#008bfb" d="M421.9 465.7h0M432.8 471.6h0M433.1 469.9h0M431.2 464.9h0M426.4 461.4h0M431.6 469.9h0M434.6 463.1h0M429.0 456.4h0M423.4 466.6h0M433.3 459.8h0M430.6 471.6h0M429.5 471.6h0M432.4 464.0h0M432.2 469.9h0M428.6 454.6h0M431.0 474.2h0M434.4 472.5h0M428.7 455.5h0M435.0 466.6h0M428.4 472.5h0M431.0 469.9h0M423.1 461.4h0M428.8 474.2h0M430.5 453.8h0M430.6 471.6h0M420.4 464.0h0M424.2 466.6h0M425.9 465.7h0M425.1 464.0h0M429.2 458.9h0M431.4 472.5h0M434.7 467.4h0M431.2 454.6h0M430.7 466.6h0M429.4 477.6h0M434.6 458.1h0M431.7 453.8h0M426.5 460.6h0M424.0 460.6h0M432.4 458.9h0M430.3 469.1h0M435.2 469.9h0M430.6 469.1h0M426.4 466.6h0M425.4 463.1h0"/>
<path stroke="#ff0051" d="M460.0 463.1h0M459.5 464.9h0M453.1 462.3h0M451.5 464.9h0M450.5 461.4h0M458.3 464.9h0M451.4 462.3h0M459.5 464.0h0M442.1 464.9h0M456.5 464.9h0M446.3 461.4h0M445.1 466.6h0M452.8 464.9h0M447.8 465.7h0M457.2 465.7h0M460.5 464.9h0M455.8 463.1h0M449.5 464.0h0M440.1 465.7h0M453.4 465.7h0M445.9 464.0h0M442.7 464.9h0M459.0 463.1h0"/>
<path stroke="#ff0051" d="M459.1 465.7h0M442.7 464.0h0M444.6 464.9h0M452.2 465.7h0M465.7 464.0h0M441.1 464.9h0M466.2 464.0h0M458.8 463.1h0M471.0 464.0h0M449.8 461.4h0M468.5 464.0h0M440.0 464.0h0M473.5 464.0h0M472.5 464.0h0M441.2 464.9h0M457.1 464.0h0M450.9 461.4h0M454.2 464.9h0"/>
<path stroke="#008bfb" d="M428.3 465.7h0M430.2 467.4h0M429.5 475.9h0M434.5 471.6h0M425.2 464.9h0M432.2 452.9h0M426.4 468.2h0M430.3 457.2h0M428.8 460.6h0M434.9 462.3h0M434.4 460.6h0M433.7 462.3h0M431.0 464.9h0M434.1 470.8h0M429.2 455.5h0M421.3 463.1h0M425.9 464.0h0M433.4 464.9h0M428.0 461.4h0M424.7 461.4h0M432.1 464.9h0M434.0 464.0h0M434.4 461.4h0M432.2 474.2h0M427.7 468.2h0M427.5 469.1h0M426.7 464.0h0M431.6 460.6h0M429.8 475.1h0M429.8 452.9h0M423.9 461.4h0M428.5 453.8h0M429.7 453.8h0M433.3 454.6h0M426.1 464.9h0M427.5 460.6h0M431.2 457.2h0M427.4 457.2h0M430.1 478.4h0M434.6 462.3h0M427.6 467.4h0M430.6 469.9h0M427.7 463.1h0M433.6 454.6h0M428.4 467.4h0M431.0 458.9h0M430.4 459.8h0M430.6 461.4h0M426.2 465.7h0M431.8 462.3h0"/>
<path stroke="#008bfb" d="M427.8 467.4h0M430.8 453.8h0M431.1 460.6h0M428.0 465.7h0M430.5 470.8h0M427.0 464.9h0M432.0 457.2h0M427.1 463.1h0M431.8 471.6h0M433.7 458.9h0M429.6 477.6h0M429.2 463.1h0M430.2 452.1h0M426.8 462.3h0M434.2 469.1h0M425.0 460.6h0M432.0 456.4h0M435.2 460.6h0M429.0 473.4h0M428.3 470.8h0M433.1 463.1h0M419.2 464.0h0M433.5 466.6h0M426.0 467.4h0M431.9 475.1h0M426.2 462.3h0M432.0 470.8h0M429.3 471.6h0M432.1 466.6h0M434.2 466.6h0M425.0 463.1h0M423.9 465.7h0M432.9 463.1h0M434.2 457.2h0M427.4 462.3h0M433.3 458.9h0M428.2 453.8h0M432.5 457.2h0M427.9 464.9h0M429.0 475.9h0M433.5 456.4h0M420.7 464.9h0M429.4 476.8h0M429.2 457.2h0M425.6 464.9h0M427.6 464.9h0M433.1 460.6h0M433.8 464.9h0"/>
<path stroke="#ff0051" d="M445.8 466.6h0M454.2 464.0h0M458.2 464.0h0M446.9 462.3h0M443.6 462.3h0M447.8 466.6h0M446.0 462.3h0M448.9 466.6h0M453.7 463.1h0M450.3 465.7h0M442.6 466.6h0M449.1 465.7h0M460.3 464.0h0M446.9 464.0h0M444.9 464.9h0M444.3 462.3h0M449.8 465.7h0M447.0 467.4h0M448.4 466.6h0M461.6 464.9h0"/>
<path stroke="#008bfb" d="M440.5 502.7h0M431.9 500.2h0M436.0 515.5h0M433.9 501.9h0M434.7 518.0h0M430.2 504.4h0M435.1 503.6h0M432.2 507.0h0M443.9 504.4h0M436.9 500.2h0M432.6 518.9h0M439.0 508.7h0M442.7 505.3h0M437.4 512.9h0M435.0 513.8h0M434.6 507.0h0M436.5 502.7h0M432.7 516.3h0M436.3 512.1h0M428.5 507.8h0M435.9 511.2h0M436.9 512.9h0M436.7 495.9h0M431.1 514.6h0M431.2 513.8h0M434.7 510.4h0M426.8 505.3h0M436.2 494.2h0M435.8 497.6h0M433.4 507.0h0M438.2 499.3h0M434.0 493.4h0M435.4 506.1h0M434.9 497.6h0M434.1 507.8h0M437.6 513.8h0M433.2 506.1h0M427.5 507.8h0M436.1 501.0h0M432.0 505.3h0M432.8 516.3h0"/>
<path stroke="#ff0051" d="M450.7 505.3h0M437.9 512.1h0M431.5 500.2h0M431.8 504.4h0M436.2 505.3h0M431.6 496.8h0M420.6 507.0h0M423.8 505.3h0M427.7 501.0h0M448.6 505.3h0M433.3 513.8h0M437.3 509.5h0M415.5 505.3h0M422.8 503.6h0M436.5 501.9h0M432.5 501.9h0M428.3 506.1h0M431.9 511.2h0M431.9 513.8h0M430.8 498.5h0M428.8 508.7h0M428.8 505.3h0M443.8 506.1h0M422.0 505.3h0M424.0 506.1h0M431.2 504.4h0M430.7 512.1h0M424.0 507.0h0M426.5 503.6h0M420.9 504.4h0M422.5 505.3h0M437.2 502.7h0M431.2 511.2h0M423.3 507.8h0"/>
<path stroke="#008bfb" d="M433.1 508.7h0M443.9 505.3h0M439.1 507.8h0M437.3 515.5h0M439.4 505.3h0M435.1 501.9h0M434.7 513.8h0M432.7 502.7h0M434.2 514.6h0M442.3 507.8h0M438.8 498.5h0M432.2 512.1h0M436.9 513.8h0M441.1 505.3h0M440.8 504.4h0M434.8 504.4h0M437.8 503.6h0M434.6 492.5h0M432.6 512.1h0M434.5 516.3h0M436.6 509.5h0M438.6 507.8h0M433.4 510.4h0M442.4 504.4h0M434.1 518.0h0M431.0 501.9h0M438.0 500.2h0M435.8 500.2h0M436.5 511.2h0M433.7 514.6h0M435.1 515.5h0M433.2 518.0h0M426.9 506.1h0M437.3 503.6h0M437.1 500.2h0M430.2 505.3h0M434.8 519.7h0M433.7 511.2h0M435.6 495.9h0M436.3 513.8h0M432.8 514.6h0M434.0 506.1h0M433.8 507.0h0M431.1 501.0h0M436.0 498.5h0M431.9 496.8h0M440.6 507.8h0M434.0 496.8h0M434.4 512.9h0M436.0 512.9h0M437.3 501.0h0M438.0 509.5h0M427.9 503.6h0M441.2 504.4h0"/>
<path stroke="#ff0051" d="M428.2 508.7h0M407.6 505.3h0M438.6 505.3h0M433.7 499.3h0M433.0 496.8h0M431.4 495.9h0M425.7 504.4h0M430.2 500.2h0M426.1 503.6h0M424.7 502.7h0M432.8 495.1h0M438.4 512.1h0M422.5 504.4h0M429.5 502.7h0M430.1 507.8h0M427.1 506.1h0M432.3 503.6h0M429.2 508.7h0M416.7 506.1h0M431.7 508.7h0M426.0 507.8h0"/>
<path stroke="#ff0051" d="M430.6 497.6h0M431.7 499.3h0M427.3 504.4h0M408.2 505.3h0M440.5 505.3h0M428.0 507.0h0M429.6 508.7h0M431.8 506.1h0M430.2 501.9h0M429.6 513.8h0M427.4 505.3h0M430.4 506.1h0M431.6 509.5h0M424.0 504.4h0M428.7 506.1h0M430.2 514.6h0M429.3 498.5h0M422.1 507.0h0M426.7 504.4h0M446.8 505.3h0M423.2 502.7h0M433.6 504.4h0M433.4 495.9h0M421.7 505.3h0"/>
<path stroke="#008bfb" d="M438.3 502.7h0M434.3 503.6h0M437.9 496.8h0M438.8 497.6h0M431.9 501.0h0M443.3 506.1h0M442.9 504.4h0M436.6 497.6h0M429.8 506.1h0M437.3 504.4h0M434.4 499.3h0M436.1 508.7h0M437.7 501.0h0M435.8 504.4h0M433.1 510.4h0M433.3 501.9h0M439.4 501.9h0M434.6 491.7h0M436.2 502.7h0M434.9 493.4h0M439.6 509.5h0M436.7 503.6h0M438.4 505.3h0M432.4 507.0h0M434.3 515.5h0M432.1 502.7h0M432.2 504.4h0M440.3 507.0h0M429.4 499.3h0M434.9 517.2h0M436.2 514.6h0M432.8 511.2h0M432.5 493.4h0M434.5 509.5h0M435.7 507.8h0M438.9 502.7h0M436.4 514.6h0M437.2 511.2h0M441.1 507.0h0M439.4 509.5h0M430.8 502.7h0M436.8 495.1h0M434.6 495.1h0M437.4 507.0h0M436.3 495.9h0M437.1 507.8h0M434.8 497.6h0M436.2 510.4h0M445.8 506.1h0M432.8 495.9h0M442.6 507.0h0"/>
<path stroke="#008bfb" d="M438.2 507.0h0M437.3 512.1h0M438.6 504.4h0M444.3 504.4h0M431.2 515.5h0M439.8 505.3h0M429.6 504.4h0M427.8 505.3h0M430.4 510.4h0M437.5 514.6h0M428.8 510.4h0M433.8 513.8h0M435.3 513.8h0M443.0 506.1h0M432.6 513.8h0M433.6 515.5h0M437.3 494.2h0M430.0 498.5h0M435.0 498.5h0M431.8 514.6h0M436.3 506.1h0M438.0 507.8h0M437.9 510.4h0M431.9 512.9h0M435.4 505.3h0M436.2 499.3h0M431.4 507.0h0M427.4 502.7h0M433.0 507.0h0M431.0 512.9h0M428.7 504.4h0M437.5 507.0h0M439.6 501.9h0M435.1 505.3h0M434.5 512.1h0M436.5 508.7h0M433.0 507.8h0M435.1 495.1h0M443.7 504.4h0M437.8 500.2h0M436.6 516.3h0M440.4 506.1h0M432.1 510.4h0M435.8 493.4h0M428.0 504.4h0M434.2 510.4h0M439.6 502.7h0"/>
<path stroke="#ff0051" d="M429.8 505.3h0M420.8 506.1h0M418.0 506.1h0M433.6 500.2h0M431.1 509.5h0M431.2 514.6h0M424.6 506.1h0M420.4 504.4h0M424.9 506.1h0M424.6 507.0h0M431.0 508.7h0M424.9 505.3h0M423.6 504.4h0M432.4 505.3h0M432.9 494.2h0M420.1 504.4h0M435.8 515.5h0M425.3 504.4h0M421.4 506.1h0M422.4 507.8h0M432.5 496.8h0M430.8 497.6h0M432.3 509.5h0M423.8 506.1h0M422.9 507.0h0M436.6 512.1h0M435.8 514.6h0M411.6 505.3h0"/>
<path stroke="#ff0051" d="M428.4 507.0h0M427.0 501.9h0M422.9 506.1h0M420.3 506.1h0M445.9 505.3h0M418.4 505.3h0M424.2 502.7h0M430.8 499.3h0M433.8 508.7h0M436.7 505.3h0M424.8 503.6h0M424.1 508.7h0M435.9 507.0h0M432.7 514.6h0M429.5 501.9h0M432.3 512.9h0M429.8 504.4h0M433.3 503.6h0M449.4 505.3h0M416.2 505.3h0M430.3 502.7h0M432.3 495.9h0M428.3 509.5h0M429.4 512.1h0M430.1 497.6h0M425.6 505.3h0M429.1 500.2h0M422.4 507.0h0M438.0 503.6h0M426.6 507.8h0M417.0 505.3h0M432.6 515.5h0M431.5 497.6h0M417.8 505.3h0M417.5 505.3h0M430.7 495.1h0M411.2 505.3h0"/>
<path stroke="#008bfb" d="M434.4 505.3h0M442.7 503.6h0M435.8 501.0h0M434.1 495.1h0M434.6 507.8h0M433.8 500.2h0M434.3 511.2h0M433.2 497.6h0M433.5 507.8h0M435.3 499.3h0M441.3 503.6h0M434.6 500.2h0M445.0 505.3h0M435.4 510.4h0M434.3 494.2h0M434.0 516.3h0M428.9 501.9h0M439.5 501.0h0M432.3 492.5h0M437.4 495.9h0M435.8 502.7h0M431.5 515.5h0M427.9 501.9h0M435.1 506.1h0M434.5 506.1h0M432.5 499.3h0M433.6 505.3h0M435.6 512.1h0M434.1 501.0h0M438.1 512.9h0M434.9 514.6h0M439.0 503.6h0M432.3 508.7h0M440.9 505.3h0M436.2 495.1h0M437.8 501.9h0M441.5 506.1h0M441.7 505.3h0"/>
<path stroke="#ff0051" d="M451.2 505.3h0M428.8 502.7h0M419.9 506.1h0M418.9 506.1h0M443.7 505.3h0M439.8 507.0h0M426.6 508.7h0M428.5 505.3h0M412.0 505.3h0M432.7 510.4h0M427.2 503.6h0M430.8 507.8h0M432.3 511.2h0M430.4 511.2h0M438.1 510.4h0M423.5 507.0h0M418.9 505.3h0M425.9 503.6h0M422.8 505.3h0M428.5 503.6h0M425.2 503.6h0M433.1 500.2h0M433.3 501.0h0M417.1 506.1h0M418.3 506.1h0M433.6 501.9h0M429.5 511.2h0M435.0 502.7h0M432.1 507.8h0M431.5 501.9h0M449.6 505.3h0"/>
<path stroke="#008bfb" d="M432.8 513.8h0M441.5 502.7h0M444.2 505.3h0M434.1 504.4h0M442.1 504.4h0M438.2 504.4h0M428.7 511.2h0M434.1 512.1h0M428.9 509.5h0M437.6 512.9h0M429.6 501.0h0M442.6 506.1h0M438.9 511.2h0M433.4 516.3h0M434.8 498.5h0M435.7 516.3h0M436.5 499.3h0M440.5 503.6h0M436.0 507.0h0M431.8 498.5h0M438.2 511.2h0M429.7 509.5h0M435.8 503.6h0M429.9 507.0h0M434.1 505.3h0M431.6 512.1h0M434.4 515.5h0M432.0 495.9h0M439.3 504.4h0M435.5 492.5h0M438.9 506.1h0M434.9 496.8h0M427.7 502.7h0M439.0 500.2h0M435.7 518.0h0M440.1 508.7h0M429.7 503.6h0M435.3 508.7h0M433.6 494.2h0M430.7 506.1h0M439.1 502.7h0M438.7 512.9h0M434.1 517.2h0M440.7 503.6h0"/>
<path stroke="#008bfb" d="M427.5 508.7h0M435.3 504.4h0M434.9 511.2h0M438.8 501.9h0M437.4 510.4h0M440.3 507.8h0M436.6 507.8h0M438.3 498.5h0M433.8 509.5h0M439.4 507.0h0M436.2 507.8h0M437.2 501.9h0M433.9 497.6h0M444.2 506.1h0M437.9 499.3h0M439.1 508.7h0M431.8 508.7h0M436.9 515.5h0M430.2 495.9h0M433.2 503.6h0M429.0 499.3h0M430.9 505.3h0M437.1 516.3h0M429.8 499.3h0M427.4 509.5h0M439.3 503.6h0M437.3 505.3h0M436.9 506.1h0M431.0 495.9h0M432.6 518.0h0M438.6 501.0h0M430.1 500.2h0M438.0 513.8h0M436.6 510.4h0M442.6 505.3h0M436.5 507.0h0M430.7 511.2h0M435.1 509.5h0M440.0 503.6h0M442.2 503.6h0M435.6 495.1h0M430.4 499.3h0M440.0 506.1h0M435.9 509.5h0"/>
<path stroke="#ff0051" d="M446.9 505.3h0M429.7 510.4h0M431.5 512.9h0M432.1 501.9h0M432.6 506.1h0M417.4 504.4h0M430.5 512.1h0M427.2 507.0h0M413.8 505.3h0M433.0 498.5h0M432.9 517.2h0M429.6 507.0h0M430.2 508.7h0M426.2 508.7h0M414.4 505.3h0M399.1 505.3h0M433.4 502.7h0M432.1 503.6h0M431.8 515.5h0M423.0 504.4h0M425.1 507.8h0M433.5 495.1h0M430.6 503.6h0M408.2 505.3h0M423.9 503.6h0M410.2 505.3h0M434.9 495.9h0M426.7 507.0h0M430.2 507.8h0M408.8 505.3h0"/>
<path stroke="#008bfb" d="M436.0 504.4h0M433.4 512.1h0M428.2 501.0h0M432.9 512.1h0M437.1 497.6h0M436.3 496.8h0M427.8 508.7h0M433.6 497.6h0M438.1 501.0h0M431.0 500.2h0M428.9 507.0h0M433.5 492.5h0M437.5 498.5h0M435.2 512.1h0M444.0 507.0h0M439.8 507.8h0M435.1 492.5h0M437.5 509.5h0M432.8 502.7h0M437.3 506.1h0M438.8 499.3h0M435.3 512.9h0M433.3 518.0h0M431.3 504.4h0M436.2 497.6h0M439.8 508.7h0M435.5 499.3h0M435.6 501.9h0M433.6 496.8h0M429.5 509.5h0M433.3 498.5h0M434.6 501.9h0M433.1 504.4h0M440.6 506.1h0M435.8 512.9h0M430.3 507.0h0M434.2 512.9h0M439.3 506.1h0M429.2 510.4h0M433.9 509.5h0M435.7 509.5h0M435.0 510.4h0M433.5 508.7h0M435.6 494.2h0M431.4 503.6h0M437.8 505.3h0M436.0 503.6h0M428.6 503.6h0M432.6 498.5h0M434.8 493.4h0M437.1 499.3h0"/>
<path stroke="#ff0051" d="M431.4 505.3h0M441.5 507.8h0M426.3 507.0h0M438.2 506.1h0M412.5 505.3h0M419.3 504.4h0M431.1 507.0h0M414.6 505.3h0M441.9 503.6h0M435.1 507.8h0M427.7 507.8h0M432.4 495.1h0M450.3 505.3h0M419.6 506.1h0M426.4 504.4h0M428.3 510.4h0M430.3 501.0h0M445.3 505.3h0M431.7 507.8h0M429.6 512.1h0M425.4 507.0h0M410.6 505.3h0M435.1 518.0h0"/>
<path stroke="#ff0051" d="M426.4 502.7h0M437.1 495.1h0M423.2 503.6h0M428.1 504.4h0M424.5 504.4h0M447.4 505.3h0M425.6 507.0h0M431.6 501.0h0M437.0 498.5h0M427.6 506.1h0M430.2 509.5h0M421.9 506.1h0M433.3 506.1h0M431.4 506.1h0M426.7 502.7h0M422.2 504.4h0M447.9 505.3h0M415.8 505.3h0M429.6 501.9h0M437.3 496.8h0M429.0 501.0h0M429.1 500.2h0M430.9 510.4h0M431.9 497.6h0M431.1 503.6h0"/>
<path stroke="#008bfb" d="M444.9 506.1h0M430.1 501.0h0M438.5 500.2h0M435.3 494.2h0M435.6 511.2h0M430.0 512.9h0M435.2 500.2h0M443.0 507.0h0M436.6 494.2h0M432.5 517.2h0M433.3 493.4h0M432.1 509.5h0M434.7 508.7h0M435.1 518.9h0M434.6 514.6h0M436.9 513.8h0M442.0 506.1h0M434.8 507.0h0M436.6 504.4h0M432.8 509.5h0M430.5 512.9h0M429.7 511.2h0M441.9 507.0h0M438.5 507.0h0M432.6 501.0h0M435.8 498.5h0M428.0 500.2h0M434.4 495.9h0M432.2 497.6h0M432.9 493.4h0M434.5 490.8h0M430.4 498.5h0M435.4 496.8h0M437.8 506.1h0M436.4 498.5h0M437.4 502.7h0M428.5 502.7h0M438.5 508.7h0M433.1 501.0h0M437.8 508.7h0M433.9 499.3h0M433.6 517.2h0M434.3 498.5h0M436.0 500.2h0M433.4 512.9h0M434.5 496.8h0M438.7 510.4h0M436.4 501.0h0M429.4 506.1h0"/>
<path stroke="#ff0051" d="M420.0 505.3h0M435.5 508.7h0M437.6 504.4h0M425.8 506.1h0M429.4 503.6h0M424.8 507.8h0M421.6 504.4h0M419.0 504.4h0M424.1 505.3h0M428.7 507.8h0M427.6 510.4h0M431.4 502.7h0M419.5 505.3h0M439.3 510.4h0M430.9 496.8h0M420.9 507.0h0M431.4 498.5h0M412.9 505.3h0M438.4 497.6h0M430.4 496.8h0M430.3 513.8h0M426.1 506.1h0M409.6 505.3h0M445.8 506.1h0M438.6 509.5h0M425.1 505.3h0M426.1 505.3h0M429.9 502.7h0M424.2 507.8h0M421.1 505.3h0M420.5 505.3h0M422.6 506.1h0M428.3 501.9h0M427.9 509.5h0"/>
<path stroke="#008bfb" d="M437.9 497.6h0M440.0 504.4h0M433.2 499.3h0M433.0 505.3h0M431.5 510.4h0M438.7 512.1h0M433.8 495.9h0M431.4 513.8h0M429.2 505.3h0M432.0 499.3h0M437.4 507.8h0M437.4 511.2h0M432.5 507.8h0M437.4 508.7h0M432.5 500.2h0M435.8 517.2h0M434.6 502.7h0M440.7 507.0h0M436.7 496.8h0M436.2 516.3h0M435.3 501.0h0M434.6 517.2h0M434.4 511.2h0M436.7 517.2h0M436.0 501.9h0M440.6 504.4h0M434.6 494.2h0M438.1 501.9h0M434.4 501.0h0M433.2 515.5h0M429.4 507.8h0M435.1 516.3h0M432.7 494.2h0M433.2 512.9h0M437.4 514.6h0M434.3 520.6h0M434.1 502.7h0M436.2 517.2h0M434.5 518.9h0M434.8 503.6h0"/>
</g>
<g font-size="20">
<text x="148.72" y="57.80" textLength="38.97" lengthAdjust="spacingAndGlyphs">area</text>
<text x="179.78" y="99.08" textLength="9.25" lengthAdjust="spacingAndGlyphs">y</text>
<text x="119.28" y="140.36" textLength="69.40" lengthAdjust="spacingAndGlyphs">box_iou</text>
<text x="77.04" y="181.64" textLength="111.49" lengthAdjust="spacingAndGlyphs">height_bbox</text>
<text x="140.88" y="222.92" textLength="48.21" lengthAdjust="spacingAndGlyphs">score</text>
<text x="146.85" y="264.20" textLength="42.29" lengthAdjust="spacingAndGlyphs">ratio</text>
<text x="86.70" y="305.48" textLength="101.74" lengthAdjust="spacingAndGlyphs">width_bbox</text>
<text x="103.57" y="346.76" textLength="85.71" lengthAdjust="spacingAndGlyphs">mask_iou</text>
<text x="97.88" y="388.04" textLength="90.51" lengthAdjust="spacingAndGlyphs">Sector_12</text>
<text x="5.17" y="429.32" textLength="183.52" lengthAdjust="spacingAndGlyphs">VisualFamily_Bumps</text>
<text x="96.50" y="470.60" textLength="91.65" lengthAdjust="spacingAndGlyphs">Height_80</text>
<text x="0.93" y="511.88" textLength="186.58" lengthAdjust="spacingAndGlyphs">VisualFamily_Imprint</text>
</g>
<g font-size="16.2">
<text x="231.6" y="571.4" textLength="18.6" lengthAdjust="spacingAndGlyphs">&#8722;4</text>
<text x="328" y="571.4" textLength="19.1" lengthAdjust="spacingAndGlyphs">&#8722;2</text>
<text x="434.6" y="571.4" text-anchor="middle">0</text>
<text x="532.1" y="571.4" text-anchor="middle">2</text>
</g>
<text x="254.7" y="594.3" font-size="18.5" textLength="342" lengthAdjust="spacingAndGlyphs">SHAP value (impact on model output)</text>
<rect x="636" y="4" width="8" height="607" fill="url(#cb)"/>
<text x="651.7" y="9" font-size="12" textLength="22.5" lengthAdjust="spacingAndGlyphs">High</text>
<text x="651.7" y="615" font-size="11" textLength="19.3" lengthAdjust="spacingAndGlyphs">Low</text>
<text transform="translate(684.2 351.8) rotate(-90)" font-size="12" textLength="82" lengthAdjust="spacingAndGlyphs">Feature value</text>
</svg>
</body></html>
